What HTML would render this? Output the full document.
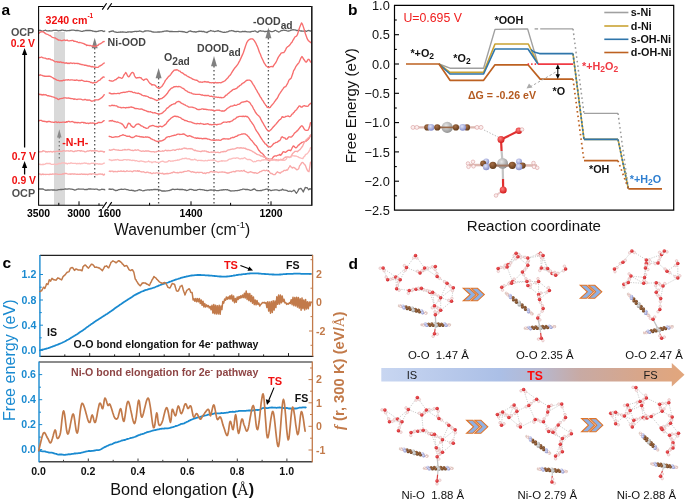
<!DOCTYPE html><html><head><meta charset="utf-8"><style>html,body{margin:0;padding:0;background:#fff;overflow:hidden}svg{will-change:transform}svg{display:block}text{font-family:"Liberation Sans",sans-serif}</style></head><body>
<svg width="685" height="500" viewBox="0 0 685 500">
<defs><linearGradient id="bar" x1="0" x2="1" y1="0" y2="0"><stop offset="0" stop-color="#c8d6f1"/><stop offset="0.39" stop-color="#abbfe6"/><stop offset="0.52" stop-color="#b6b8d0"/><stop offset="0.655" stop-color="#c8aaa4"/><stop offset="0.85" stop-color="#d8a68a"/><stop offset="1" stop-color="#e2a67c"/></linearGradient><radialGradient id="gNi" cx="0.4" cy="0.35" r="0.7"><stop offset="0" stop-color="#e8e8e8"/><stop offset="1" stop-color="#8c8c8c"/></radialGradient><radialGradient id="gC" cx="0.4" cy="0.35" r="0.7"><stop offset="0" stop-color="#a87048"/><stop offset="1" stop-color="#5e3818"/></radialGradient><radialGradient id="gN" cx="0.4" cy="0.35" r="0.7"><stop offset="0" stop-color="#e0e4f8"/><stop offset="1" stop-color="#8088c8"/></radialGradient><radialGradient id="gO" cx="0.4" cy="0.35" r="0.7"><stop offset="0" stop-color="#ff8080"/><stop offset="1" stop-color="#d01010"/></radialGradient><radialGradient id="gH" cx="0.4" cy="0.35" r="0.7"><stop offset="0" stop-color="#ffffff"/><stop offset="1" stop-color="#e0b0b0"/></radialGradient><radialGradient id="gO2" cx="0.4" cy="0.35" r="0.7"><stop offset="0" stop-color="#f26060"/><stop offset="1" stop-color="#c81820"/></radialGradient></defs>
<rect x="54" y="32" width="11" height="173" fill="#d9d9d9"/>
<line x1="94.7" y1="48.0" x2="94.7" y2="178.0" stroke="#555" stroke-width="1.3" stroke-dasharray="1.4,2.6"/>
<line x1="158.6" y1="78.0" x2="158.6" y2="205.0" stroke="#555" stroke-width="1.3" stroke-dasharray="1.4,2.6"/>
<line x1="214.0" y1="66.0" x2="214.0" y2="205.0" stroke="#555" stroke-width="1.3" stroke-dasharray="1.4,2.6"/>
<line x1="268.4" y1="38.0" x2="268.4" y2="205.0" stroke="#555" stroke-width="1.3" stroke-dasharray="1.4,2.6"/>
<line x1="59.3" y1="137.0" x2="59.3" y2="160.0" stroke="#777" stroke-width="1.3" stroke-dasharray="1.4,2.6"/>
<path d="M59.3,129.3 L61.5,137.5 L57.0,137.5 Z" fill="#8a8a8a"/>
<path d="M94.7,37.8 L97.7,48.2 L91.7,48.2 Z" fill="#808080"/>
<path d="M158.6,68.0 L161.6,78.3 L155.6,78.3 Z" fill="#808080"/>
<path d="M214.0,56.0 L217.0,66.3 L211.0,66.3 Z" fill="#808080"/>
<path d="M268.4,27.4 L271.4,38.2 L265.4,38.2 Z" fill="#808080"/>
<path d="M38.6,30.7 L39.0,30.4 L39.5,30.5 L39.9,30.2 L40.4,30.4 L41.0,30.6 L41.5,30.8 L42.1,31.1 L42.7,31.1 L43.3,31.0 L44.0,30.7 L44.7,30.5 L45.4,30.2 L46.1,30.5 L46.8,30.8 L47.6,30.8 L48.3,31.0 L49.1,30.7 L50.0,30.9 L50.8,30.8 L51.6,30.9 L52.5,30.7 L53.3,30.4 L54.2,30.3 L55.1,30.3 L56.0,30.2 L57.0,30.5 L57.9,30.6 L58.8,30.8 L59.8,30.5 L60.8,30.6 L61.7,30.2 L62.7,30.1 L63.7,30.3 L64.7,30.6 L65.7,30.5 L66.7,30.8 L67.7,30.7 L68.7,30.7 L69.7,30.5 L70.7,30.4 L71.7,30.1 L72.7,30.2 L73.7,30.2 L74.7,30.4 L75.7,30.6 L76.7,30.4 L77.7,30.5 L78.7,30.7 L79.7,30.8 L80.7,31.1 L81.7,31.3 L82.6,31.3 L83.6,30.9 L84.6,30.8 L85.5,30.5 L86.4,30.3 L87.4,30.5 L88.3,30.5 L89.2,30.4 L90.1,30.5 L90.9,30.7 L91.8,30.6 L92.6,31.1 L93.4,31.2 L94.3,31.4 L95.1,31.5 L95.8,31.4 L96.6,31.6 L97.3,31.3 L98.0,31.4 L98.7,31.0 L99.4,30.9 L100.1,30.8 L100.7,30.7 L101.3,30.7 L101.9,30.6 L102.4,30.8 L103.0,31.1 L103.5,31.3 L103.9,31.6 L104.4,31.1 L104.8,31.1" fill="none" stroke="#6b6b6b" stroke-width="1.30" stroke-linejoin="round" stroke-linecap="round" />
<path d="M38.6,33.5 L39.2,33.1 L40.1,32.2 L41.1,31.8 L42.3,31.7 L43.0,31.9 L43.8,32.2 L44.7,32.9 L45.6,33.6 L46.6,34.1 L47.6,34.3 L48.6,35.0 L49.4,35.5 L50.1,35.4 L51.0,36.3 L51.8,37.0 L52.7,37.4 L53.5,37.7 L54.4,37.9 L55.3,38.0 L56.2,38.8 L57.0,38.9 L57.8,39.7 L58.7,40.2 L59.5,40.1 L60.4,40.2 L61.2,40.7 L62.0,40.6 L62.9,40.3 L63.7,40.1 L64.6,40.0 L65.4,40.5 L66.2,40.4 L67.1,40.0 L67.9,40.6 L68.8,40.9 L69.6,40.8 L70.4,40.6 L71.3,40.7 L72.1,40.4 L73.0,40.4 L73.8,41.2 L74.6,41.2 L75.5,41.3 L76.3,41.8 L77.2,41.7 L78.0,42.3 L78.8,42.6 L79.7,42.4 L80.5,42.7 L81.4,42.9 L82.2,43.1 L83.1,43.5 L83.9,43.7 L84.9,44.3 L85.8,44.5 L86.7,45.5 L87.5,45.2 L88.4,45.3 L89.2,45.5 L89.9,45.7 L90.6,45.5 L91.7,46.1 L92.6,46.0 L93.3,46.1 L94.0,46.4 L94.8,46.2 L95.6,46.5 L96.4,46.2 L97.2,45.4 L98.1,45.3 L99.0,44.2 L99.9,43.9 L100.9,43.5 L101.9,42.8 L102.8,42.0 L103.6,41.7 L104.2,41.5" fill="none" stroke="#f76e6e" stroke-width="1.35" stroke-linejoin="round" stroke-linecap="round" />
<path d="M38.6,58.0 L39.1,57.4 L39.8,57.6 L40.6,57.4 L41.4,57.0 L42.4,57.5 L43.4,57.9 L44.4,58.1 L45.5,58.2 L46.5,58.9 L47.2,58.9 L48.0,59.1 L48.7,58.6 L49.5,59.0 L50.3,59.1 L51.2,59.9 L52.0,59.9 L52.8,60.2 L53.7,60.8 L54.5,61.5 L55.4,61.9 L56.2,61.6 L57.0,61.6 L57.8,62.2 L58.6,62.0 L59.4,62.3 L60.2,61.9 L61.0,62.0 L61.8,62.6 L62.7,62.5 L63.5,62.4 L64.3,63.1 L65.1,63.0 L65.9,63.2 L66.7,62.8 L67.5,63.5 L68.3,63.1 L69.1,63.6 L69.9,63.2 L70.7,63.0 L71.5,63.1 L72.3,63.5 L73.2,63.1 L74.0,63.2 L74.8,63.6 L75.6,63.4 L76.4,63.4 L77.2,63.5 L78.0,63.5 L78.8,63.7 L79.6,64.0 L80.5,64.1 L81.3,64.6 L82.2,64.5 L83.0,64.9 L83.9,64.9 L84.7,65.3 L85.5,65.2 L86.3,65.5 L87.1,65.4 L87.8,66.0 L88.5,66.0 L89.5,66.0 L90.4,66.3 L91.3,66.9 L92.1,66.4 L92.9,67.0 L93.7,66.8 L94.4,66.9 L95.1,67.4 L95.8,67.2 L96.8,67.3 L97.7,67.3 L98.5,67.1 L99.2,66.2 L100.0,66.0 L100.9,65.4 L101.9,64.8 L102.8,64.0 L103.6,63.5 L104.2,62.9" fill="none" stroke="#f76e6e" stroke-width="1.35" stroke-linejoin="round" stroke-linecap="round" />
<path d="M38.6,75.0 L39.1,75.1 L39.7,75.2 L40.4,74.8 L41.3,75.1 L42.1,75.3 L43.1,75.8 L44.0,76.0 L45.0,76.4 L46.0,76.1 L46.9,76.3 L47.8,76.2 L48.6,76.2 L49.5,76.2 L50.3,76.3 L51.2,76.8 L52.0,77.3 L52.8,77.6 L53.6,78.5 L54.4,78.7 L55.2,79.1 L56.1,79.6 L57.0,80.1 L57.7,80.3 L58.5,80.3 L59.3,80.9 L60.1,80.8 L60.9,80.7 L61.7,80.7 L62.5,80.7 L63.4,80.1 L64.2,80.5 L65.0,80.1 L65.9,79.8 L66.7,79.8 L67.5,80.0 L68.3,79.6 L69.1,79.9 L69.9,80.1 L70.7,79.8 L71.5,79.8 L72.3,79.9 L73.2,80.1 L74.0,80.2 L74.8,80.2 L75.6,80.3 L76.4,80.0 L77.2,80.2 L78.0,80.4 L78.8,80.7 L79.7,80.4 L80.5,80.6 L81.4,80.2 L82.2,80.4 L83.1,80.7 L83.9,81.2 L84.8,81.4 L85.6,81.4 L86.4,81.2 L87.1,81.3 L87.8,81.3 L88.5,81.6 L89.6,81.7 L90.7,82.5 L91.6,82.4 L92.5,83.0 L93.3,83.0 L94.0,82.4 L94.8,82.6 L95.8,82.6 L96.6,82.4 L97.3,81.6 L98.1,81.0 L99.0,80.4 L99.9,80.2 L100.9,78.8 L101.9,78.2 L102.8,77.2 L103.6,77.0 L104.2,77.1" fill="none" stroke="#f76e6e" stroke-width="1.35" stroke-linejoin="round" stroke-linecap="round" />
<path d="M38.6,93.8 L39.1,94.3 L39.7,94.5 L40.4,94.5 L41.3,94.5 L42.1,95.1 L43.1,94.5 L44.0,94.8 L45.0,94.7 L46.0,94.9 L46.9,95.4 L47.8,95.8 L48.6,95.6 L49.5,96.1 L50.3,96.1 L51.2,96.5 L52.0,96.7 L52.8,96.8 L53.6,97.1 L54.4,97.3 L55.2,98.0 L56.1,98.2 L57.0,98.4 L57.7,99.2 L58.5,99.5 L59.3,99.0 L60.1,98.7 L60.9,98.6 L61.7,98.4 L62.5,98.4 L63.4,98.0 L64.2,97.9 L65.0,97.8 L65.9,97.9 L66.7,98.2 L67.5,98.1 L68.3,97.9 L69.1,98.1 L69.9,98.4 L70.7,98.5 L71.5,98.7 L72.3,98.6 L73.2,98.8 L74.0,99.4 L74.8,98.9 L75.6,99.2 L76.4,99.3 L77.2,99.5 L78.0,99.1 L78.8,99.1 L79.7,99.1 L80.5,99.2 L81.4,99.3 L82.2,99.8 L83.1,99.8 L83.9,99.9 L84.8,99.4 L85.6,99.5 L86.4,100.0 L87.1,100.2 L87.8,99.9 L88.5,100.2 L89.6,100.0 L90.7,100.6 L91.6,101.2 L92.5,101.0 L93.3,100.8 L94.0,100.6 L94.8,99.8 L95.8,99.8 L96.6,99.8 L97.3,99.9 L98.1,99.8 L99.0,99.5 L99.9,98.9 L100.9,98.2 L101.9,97.6 L102.8,96.5 L103.6,95.7 L104.2,94.7" fill="none" stroke="#f76e6e" stroke-width="1.35" stroke-linejoin="round" stroke-linecap="round" />
<path d="M38.6,121.2 L39.1,120.7 L39.7,120.4 L40.4,120.4 L41.3,120.4 L42.1,120.9 L43.1,121.4 L44.0,121.1 L45.0,121.6 L46.0,121.5 L46.9,122.1 L47.8,121.5 L48.6,121.5 L49.5,121.5 L50.3,121.7 L51.2,122.1 L52.0,122.1 L52.8,122.1 L53.6,122.3 L54.4,122.3 L55.2,121.9 L56.1,121.9 L57.0,122.5 L57.7,122.4 L58.5,122.0 L59.3,122.5 L60.1,122.3 L60.9,122.4 L61.7,122.4 L62.5,122.2 L63.4,122.1 L64.2,122.2 L65.0,122.2 L65.9,122.4 L66.7,121.6 L67.5,122.0 L68.3,121.3 L69.1,121.4 L69.9,121.8 L70.7,121.8 L71.5,121.6 L72.3,121.5 L73.2,122.0 L74.0,122.1 L74.8,122.7 L75.6,122.3 L76.4,122.5 L77.2,122.9 L78.0,122.4 L78.8,122.6 L79.7,122.9 L80.5,122.9 L81.4,122.4 L82.2,122.4 L83.1,122.4 L83.9,123.0 L84.8,122.5 L85.6,123.1 L86.4,123.3 L87.1,123.1 L87.8,123.2 L88.5,123.6 L89.6,123.2 L90.7,122.9 L91.6,123.1 L92.5,123.0 L93.3,123.1 L94.0,123.1 L94.8,123.6 L95.8,123.7 L96.6,123.4 L97.3,123.4 L98.1,122.5 L99.0,122.5 L99.9,122.5 L100.9,122.6 L101.9,122.3 L102.8,121.5 L103.6,120.9 L104.2,120.7" fill="none" stroke="#f76e6e" stroke-width="1.35" stroke-linejoin="round" stroke-linecap="round" />
<path d="M38.6,151.6 L39.0,151.6 L39.5,152.0 L40.0,151.5 L40.5,151.9 L41.1,151.9 L41.7,151.7 L42.3,151.5 L43.0,150.7 L43.6,151.0 L44.3,151.1 L45.1,151.3 L45.8,152.0 L46.6,151.7 L47.4,152.0 L48.2,151.5 L49.1,151.9 L49.9,151.6 L50.8,151.5 L51.7,151.8 L52.6,152.0 L53.5,151.4 L54.4,151.7 L55.3,151.7 L56.3,151.4 L57.2,151.4 L58.1,151.2 L59.1,151.2 L60.0,151.2 L61.0,151.3 L61.9,151.3 L62.8,150.9 L63.8,150.7 L64.7,150.9 L65.6,151.1 L66.5,150.8 L67.4,150.9 L68.3,150.8 L69.1,151.2 L70.0,151.1 L70.8,150.7 L71.6,150.9 L72.4,151.2 L73.2,151.5 L74.1,151.6 L74.9,151.1 L75.8,150.9 L76.7,151.1 L77.6,150.7 L78.5,150.6 L79.4,150.7 L80.4,151.2 L81.3,150.7 L82.2,151.1 L83.2,151.1 L84.1,151.3 L85.0,151.8 L86.0,151.8 L86.9,151.2 L87.8,150.9 L88.8,151.1 L89.7,150.7 L90.6,150.5 L91.5,151.1 L92.3,150.7 L93.2,151.0 L94.1,150.7 L94.9,151.0 L95.7,150.7 L96.5,150.7 L97.3,150.8 L98.0,151.3 L98.8,151.5 L99.5,151.6 L100.2,151.0 L100.8,151.3 L101.4,151.1 L102.0,151.4 L102.6,151.3 L103.1,151.6 L103.6,152.0 L104.1,152.2 L104.5,151.6" fill="none" stroke="#f9a8a8" stroke-width="1.35" stroke-linejoin="round" stroke-linecap="round" />
<path d="M38.6,164.3 L39.0,164.1 L39.5,164.2 L40.0,164.5 L40.5,164.3 L41.1,164.6 L41.7,164.6 L42.3,164.3 L43.0,164.8 L43.6,164.1 L44.3,164.3 L45.1,164.1 L45.8,163.6 L46.6,163.3 L47.4,163.5 L48.2,163.4 L49.1,163.7 L49.9,163.3 L50.8,164.1 L51.7,164.4 L52.6,164.4 L53.5,164.4 L54.4,164.0 L55.3,164.5 L56.3,164.1 L57.2,164.3 L58.1,164.0 L59.1,163.3 L60.0,163.6 L61.0,163.5 L61.9,162.8 L62.8,162.8 L63.8,163.0 L64.7,162.8 L65.6,163.5 L66.5,163.3 L67.4,164.0 L68.3,163.3 L69.1,163.4 L70.0,163.5 L70.8,162.9 L71.6,163.0 L72.4,163.4 L73.2,163.4 L74.1,163.4 L74.9,163.4 L75.8,163.3 L76.7,163.8 L77.6,163.5 L78.5,163.7 L79.4,163.3 L80.4,163.8 L81.3,163.4 L82.2,163.5 L83.2,163.4 L84.1,163.0 L85.0,163.2 L86.0,163.2 L86.9,163.4 L87.8,163.8 L88.8,163.5 L89.7,164.0 L90.6,163.6 L91.5,163.2 L92.3,163.4 L93.2,163.1 L94.1,163.7 L94.9,163.5 L95.7,163.4 L96.5,163.8 L97.3,163.7 L98.0,163.7 L98.8,164.3 L99.5,163.8 L100.2,164.3 L100.8,163.9 L101.4,164.2 L102.0,164.3 L102.6,163.8 L103.1,163.7 L103.6,163.3 L104.1,163.1 L104.5,163.1" fill="none" stroke="#fcbcbc" stroke-width="1.35" stroke-linejoin="round" stroke-linecap="round" />
<path d="M38.6,174.1 L39.0,173.8 L39.5,174.0 L40.0,174.2 L40.5,174.1 L41.1,174.7 L41.7,174.5 L42.3,174.4 L43.0,173.9 L43.6,174.5 L44.3,174.4 L45.1,174.3 L45.8,174.5 L46.6,174.4 L47.4,174.4 L48.2,174.4 L49.1,174.6 L49.9,174.2 L50.8,174.2 L51.7,174.3 L52.6,174.0 L53.5,174.1 L54.4,174.1 L55.3,173.8 L56.3,174.0 L57.2,174.1 L58.1,174.4 L59.1,174.4 L60.0,174.3 L61.0,174.4 L61.9,174.4 L62.8,173.7 L63.8,174.0 L64.7,173.4 L65.6,173.5 L66.5,173.5 L67.4,173.9 L68.3,174.1 L69.1,174.1 L70.0,173.9 L70.8,174.4 L71.6,173.9 L72.4,173.8 L73.2,174.2 L74.1,173.9 L74.9,174.0 L75.8,174.1 L76.7,174.4 L77.6,174.1 L78.5,174.3 L79.4,174.2 L80.4,174.3 L81.3,173.9 L82.2,174.2 L83.2,174.2 L84.1,174.2 L85.0,174.2 L86.0,174.5 L86.9,174.1 L87.8,174.7 L88.8,174.2 L89.7,174.0 L90.6,173.9 L91.5,174.4 L92.3,173.8 L93.2,173.8 L94.1,173.9 L94.9,174.0 L95.7,174.6 L96.5,174.5 L97.3,174.5 L98.0,174.5 L98.8,174.0 L99.5,174.2 L100.2,174.0 L100.8,174.2 L101.4,174.1 L102.0,174.4 L102.6,174.0 L103.1,174.8 L103.6,175.1 L104.1,174.9 L104.5,174.1" fill="none" stroke="#f9a8a8" stroke-width="1.35" stroke-linejoin="round" stroke-linecap="round" />
<path d="M38.6,189.2 L39.0,189.1 L39.5,188.9 L39.9,189.1 L40.4,188.8 L41.0,189.1 L41.5,189.0 L42.1,189.0 L42.7,188.9 L43.3,189.1 L44.0,189.5 L44.7,189.8 L45.4,190.3 L46.1,190.0 L46.8,190.3 L47.6,189.9 L48.3,190.0 L49.1,189.9 L50.0,190.1 L50.8,189.9 L51.6,189.8 L52.5,190.0 L53.3,189.9 L54.2,190.0 L55.1,190.1 L56.0,190.1 L57.0,190.1 L57.9,189.9 L58.8,189.7 L59.8,189.6 L60.8,189.4 L61.7,189.5 L62.7,189.3 L63.7,189.3 L64.7,189.0 L65.7,189.0 L66.7,189.1 L67.7,189.0 L68.7,188.8 L69.7,188.9 L70.7,189.1 L71.7,189.1 L72.7,189.4 L73.7,189.7 L74.7,190.1 L75.7,189.9 L76.7,189.4 L77.7,189.2 L78.7,189.0 L79.7,189.1 L80.7,189.2 L81.7,189.1 L82.6,189.2 L83.6,189.2 L84.6,189.6 L85.5,189.5 L86.4,189.3 L87.4,189.5 L88.3,189.0 L89.2,188.9 L90.1,189.0 L90.9,189.0 L91.8,189.1 L92.6,189.1 L93.4,189.1 L94.3,189.3 L95.1,189.1 L95.8,189.1 L96.6,189.2 L97.3,189.2 L98.0,189.6 L98.7,189.9 L99.4,190.0 L100.1,189.8 L100.7,189.7 L101.3,189.5 L101.9,189.2 L102.4,189.4 L103.0,189.3 L103.5,189.4 L103.9,189.5 L104.4,189.5 L104.8,189.9" fill="none" stroke="#6b6b6b" stroke-width="1.30" stroke-linejoin="round" stroke-linecap="round" />
<path d="M109.0,31.8 L109.4,32.0 L109.8,31.7 L110.3,31.5 L110.7,31.4 L111.2,31.4 L111.7,31.1 L112.2,31.0 L112.7,31.1 L113.3,31.0 L113.8,31.5 L114.4,31.8 L115.0,31.8 L115.6,32.1 L116.2,32.2 L116.8,32.4 L117.4,32.3 L118.0,32.5 L118.7,32.2 L119.4,32.2 L120.1,32.3 L120.7,31.9 L121.4,32.1 L122.2,32.0 L122.9,31.9 L123.6,32.2 L124.4,32.1 L125.1,32.2 L125.9,32.3 L126.7,32.3 L127.4,32.0 L128.2,32.0 L129.0,31.9 L129.9,31.9 L130.7,32.0 L131.5,31.8 L132.3,32.0 L133.2,31.7 L134.0,31.6 L134.9,31.4 L135.7,31.4 L136.6,31.5 L137.5,31.3 L138.4,31.3 L139.3,31.0 L140.2,31.2 L141.1,31.4 L142.0,31.7 L142.9,31.9 L143.8,31.6 L144.7,31.0 L145.6,31.0 L146.5,30.8 L147.5,30.8 L148.4,30.8 L149.3,31.1 L150.3,31.1 L151.2,31.4 L152.2,31.9 L153.1,32.0 L154.1,32.2 L155.0,32.2 L155.9,32.2 L156.9,32.1 L157.9,32.0 L158.8,32.0 L159.8,32.0 L160.7,31.9 L161.7,31.9 L162.6,31.5 L163.6,31.5 L164.5,31.2 L165.4,31.1 L166.4,30.9 L167.3,31.0 L168.3,31.1 L169.2,31.5 L170.2,31.5 L171.1,31.5 L172.0,31.4 L172.9,31.6 L173.9,31.6 L174.8,31.6 L175.7,31.6 L176.6,31.7 L177.5,31.6 L178.4,31.5 L179.3,31.4 L180.2,31.4 L181.1,31.6 L182.0,31.4 L182.9,31.8 L183.7,31.7 L184.6,31.9 L185.4,32.3 L186.3,32.4 L187.1,32.6 L187.9,32.0 L188.8,31.4 L189.6,31.2 L190.4,30.9 L191.2,31.3 L192.0,31.5 L192.8,31.6 L193.5,31.8 L194.3,31.7 L195.0,32.0 L195.8,31.9 L196.5,32.0 L197.2,31.7 L197.9,31.5 L198.6,31.5 L199.3,31.1 L200.0,31.5 L201.0,31.2 L202.0,31.6 L203.0,31.3 L204.0,31.5 L205.0,32.1 L205.9,32.2 L206.9,32.6 L207.9,31.9 L208.8,31.3 L209.8,31.1 L210.7,30.5 L211.7,30.9 L212.6,31.1 L213.5,31.1 L214.5,31.6 L215.4,31.4 L216.3,31.1 L217.2,31.1 L218.1,30.6 L219.0,31.2 L219.9,31.5 L220.8,31.5 L221.7,31.8 L222.5,32.2 L223.4,32.3 L224.3,32.1 L225.1,32.3 L226.0,32.2 L226.8,31.8 L227.7,31.8 L228.5,31.4 L229.3,31.0 L230.2,30.9 L231.0,30.8 L231.8,30.5 L232.6,30.8 L233.4,30.9 L234.2,31.4 L235.0,31.5 L235.8,31.6 L236.6,31.5 L237.4,31.4 L238.1,31.4 L238.9,31.6 L239.6,31.8 L240.4,31.8 L241.2,31.8 L241.9,31.6 L242.6,31.4 L243.4,31.6 L244.1,31.4 L244.8,31.5 L245.5,31.4 L246.3,31.6 L247.0,31.8 L247.7,31.8 L248.4,31.8 L249.0,31.8 L249.7,32.0 L250.4,32.0 L251.1,31.6 L251.8,31.5 L252.4,31.3 L253.1,31.4 L253.7,31.3 L254.4,31.0 L255.0,30.8 L255.7,31.2 L256.3,31.6 L256.9,31.9 L257.6,32.3 L258.2,32.0 L258.8,31.2 L259.4,31.1 L260.0,30.7 L261.2,31.0 L262.4,31.1 L263.5,31.2 L264.6,31.7 L265.6,31.5 L266.7,31.3 L267.7,31.2 L268.6,30.8 L269.6,30.9 L270.5,31.3 L271.4,31.6 L272.3,31.6 L273.1,31.4 L273.9,31.1 L274.8,30.5 L275.5,30.3 L276.3,30.8 L277.1,31.2 L277.8,31.5 L278.5,32.0 L279.2,31.9 L279.9,31.5 L280.6,31.0 L281.3,30.5 L282.0,30.7 L282.7,30.5 L283.3,30.1 L284.0,30.1 L284.7,30.3 L285.3,30.5 L286.0,30.3 L286.6,30.6 L287.3,30.9 L288.0,31.1 L288.6,31.0 L289.3,30.9 L290.0,30.7 L291.0,30.2 L292.0,30.0 L293.0,29.6 L293.9,29.8 L294.9,29.9 L295.9,30.1 L296.9,30.7 L297.8,30.4 L298.8,30.3 L299.7,30.7 L300.6,31.0 L301.5,31.0 L302.4,31.2 L303.2,31.1 L304.1,31.1 L304.9,30.9 L305.6,31.0 L306.4,31.4 L307.1,31.0 L307.8,30.7 L308.4,30.5 L309.0,30.5 L309.6,30.9 L310.1,30.9 L310.6,31.1 L311.0,31.0" fill="none" stroke="#6b6b6b" stroke-width="1.30" stroke-linejoin="round" stroke-linecap="round" />
<path d="M109.2,80.5 L109.7,80.5 L110.5,80.9 L111.4,81.0 L112.4,81.2 L113.3,80.8 L114.2,80.3 L115.0,79.8 L116.1,79.5 L116.9,78.6 L117.8,78.1 L118.6,77.1 L119.5,77.6 L120.4,77.7 L121.3,78.3 L122.2,78.2 L123.1,76.8 L124.1,74.7 L125.0,73.6 L125.8,72.5 L126.7,73.9 L127.5,75.7 L128.5,76.8 L129.2,76.7 L130.1,75.2 L131.0,73.7 L131.8,72.7 L132.6,72.4 L133.7,73.2 L134.6,76.0 L135.7,77.7 L136.5,78.0 L137.4,77.7 L138.4,77.7 L139.3,77.5 L140.2,77.6 L141.2,78.0 L142.1,79.2 L143.0,79.8 L143.8,80.4 L144.7,79.4 L145.6,79.1 L146.5,79.0 L147.3,79.6 L148.2,81.0 L149.1,82.4 L150.1,83.5 L151.0,83.8 L151.9,85.0 L152.8,84.7 L153.7,84.9 L154.6,85.0 L155.6,85.6 L156.5,87.0 L157.3,87.4 L158.2,88.0 L159.1,88.6 L159.9,87.9 L160.8,87.2 L161.8,86.5 L162.6,85.4 L163.5,83.9 L164.4,82.5 L165.4,80.4 L166.3,79.4 L167.2,78.3 L168.2,76.9 L169.1,76.1 L169.9,75.5 L170.8,74.3 L171.7,73.0 L172.6,71.8 L173.5,70.9 L174.3,70.1 L175.2,70.0 L176.2,70.0 L177.1,69.7 L178.0,70.3 L178.9,70.9 L179.8,71.1 L180.7,72.0 L181.6,72.7 L182.6,73.0 L183.5,73.6 L184.3,74.5 L185.2,74.8 L186.1,75.2 L187.0,76.0 L187.9,76.5 L188.7,76.8 L189.6,77.3 L190.6,77.8 L191.5,78.2 L192.4,79.0 L193.4,79.3 L194.3,79.7 L195.2,80.0 L196.0,80.2 L197.0,80.2 L197.8,80.9 L198.6,81.6 L199.6,82.1 L200.4,81.9 L201.3,82.1 L202.2,82.3 L203.1,81.9 L204.1,81.8 L205.0,81.5 L205.9,81.9 L206.8,82.0 L207.7,81.8 L208.6,82.0 L209.5,82.6 L210.4,82.6 L211.3,82.8 L212.1,82.6 L212.9,82.7 L213.7,82.8 L214.5,82.9 L215.4,82.4 L216.3,82.8 L217.2,82.6 L218.1,82.9 L219.0,82.6 L219.9,82.6 L220.8,82.8 L221.7,82.4 L222.6,81.9 L223.5,81.7 L224.4,81.0 L225.3,80.6 L226.2,79.4 L227.1,78.6 L228.0,77.7 L228.9,76.3 L229.8,75.5 L230.7,74.5 L231.6,72.8 L232.5,71.3 L233.4,70.0 L234.3,68.7 L235.2,67.5 L236.1,66.5 L237.0,65.3 L237.9,64.1 L238.8,62.4 L239.8,60.6 L240.7,58.6 L241.6,56.6 L242.4,54.9 L243.4,52.5 L244.4,49.5 L245.3,46.7 L246.1,44.4 L246.9,42.3 L247.9,40.8 L248.7,40.0 L249.6,39.4 L250.4,39.0 L251.3,38.8 L252.3,38.8 L253.2,39.4 L254.1,40.4 L254.9,41.7 L255.8,43.1 L256.8,45.4 L257.6,47.0 L258.5,49.5 L259.4,52.3 L260.4,54.3 L261.3,56.8 L262.2,58.7 L263.2,60.7 L264.1,62.9 L265.0,64.1 L265.9,65.7 L266.7,66.3 L267.7,67.0 L268.6,67.6 L269.4,67.2 L270.3,66.6 L271.2,66.6 L272.0,66.4 L272.9,66.9 L273.9,65.2 L274.8,63.9 L275.7,62.8 L276.6,61.0 L277.5,58.9 L278.4,57.1 L279.4,55.7 L280.3,54.5 L281.1,53.2 L282.0,52.9 L282.9,52.7 L283.8,52.6 L284.7,51.4 L285.6,49.8 L286.5,47.9 L287.4,46.9 L288.4,46.2 L289.2,45.6 L290.2,44.5 L291.1,43.1 L292.0,42.2 L292.9,40.3 L293.8,39.0 L294.7,37.2 L295.6,36.5 L296.5,36.1 L297.4,34.7 L298.3,31.8 L299.2,28.8 L300.0,26.4 L301.5,22.9 L302.5,24.4 L303.7,27.9 L304.5,30.5 L305.4,33.8 L306.4,36.5 L307.3,38.9 L308.5,40.8 L309.7,41.5 L310.5,42.6" fill="none" stroke="#f76e6e" stroke-width="1.35" stroke-linejoin="round" stroke-linecap="round" />
<path d="M109.2,93.0 L109.7,93.2 L110.4,93.2 L111.2,93.9 L112.1,93.6 L113.0,93.8 L114.0,93.5 L115.0,93.7 L115.9,93.6 L116.8,93.6 L117.6,93.4 L118.4,93.3 L119.2,93.7 L120.0,93.2 L120.8,92.9 L121.6,92.6 L122.4,92.5 L123.2,92.3 L124.0,92.1 L124.9,92.5 L125.8,92.1 L126.7,91.8 L127.6,91.9 L128.5,91.3 L129.4,91.3 L130.3,91.7 L131.2,91.5 L132.0,91.9 L132.8,92.4 L133.6,92.6 L134.4,92.4 L135.2,92.7 L136.0,93.2 L136.8,93.1 L137.6,93.5 L138.4,93.1 L139.3,93.7 L140.2,94.0 L141.1,94.4 L142.0,95.1 L142.9,95.5 L143.8,95.9 L144.7,95.7 L145.6,96.2 L146.4,96.1 L147.2,96.4 L148.1,96.7 L148.9,97.4 L149.7,97.6 L150.5,98.2 L151.3,98.0 L152.1,98.5 L152.8,98.7 L153.8,98.9 L154.7,99.7 L155.6,99.9 L156.5,100.5 L157.3,100.4 L158.2,100.0 L159.1,99.6 L160.0,98.9 L160.9,98.6 L161.8,98.6 L162.7,97.7 L163.6,97.3 L164.5,96.2 L165.4,95.6 L166.3,94.5 L167.2,93.6 L168.1,92.1 L169.0,90.7 L169.9,89.7 L170.9,88.6 L171.8,88.0 L172.7,87.8 L173.6,87.0 L174.4,86.7 L175.4,86.7 L176.2,86.5 L177.0,86.6 L178.0,86.8 L178.8,86.4 L179.6,86.7 L180.5,86.8 L181.4,87.5 L182.4,88.1 L183.4,88.5 L184.2,89.1 L185.0,90.0 L185.9,90.6 L186.8,90.9 L187.7,91.8 L188.6,92.1 L189.6,92.7 L190.6,92.8 L191.4,93.0 L192.2,93.6 L193.0,93.9 L193.8,94.2 L194.7,94.1 L195.5,94.4 L196.4,94.4 L197.2,94.4 L198.0,94.4 L198.8,94.4 L199.6,94.3 L200.5,94.6 L201.3,95.0 L202.2,94.8 L203.0,95.3 L203.8,95.3 L204.5,95.5 L205.3,95.4 L206.1,95.5 L206.8,95.7 L207.7,95.5 L208.5,95.4 L209.3,96.1 L210.2,96.3 L211.0,96.2 L211.9,96.2 L213.0,96.9 L213.8,96.9 L214.6,96.8 L215.4,97.1 L216.3,97.0 L217.3,97.5 L218.2,97.1 L219.1,97.5 L220.0,97.6 L220.9,97.3 L221.8,97.8 L222.6,97.7 L223.5,97.5 L224.4,97.0 L225.2,96.0 L226.1,95.1 L226.9,95.0 L227.6,93.9 L228.4,93.5 L229.2,92.7 L230.0,92.0 L230.9,91.4 L231.8,90.6 L232.7,89.9 L233.6,89.3 L234.5,89.4 L235.3,88.8 L236.2,88.5 L237.0,88.2 L237.9,87.0 L238.8,86.7 L239.7,85.5 L240.6,85.1 L241.4,84.5 L242.2,83.5 L243.0,83.1 L243.9,82.7 L244.7,81.9 L245.5,81.2 L246.3,80.6 L247.1,80.2 L247.8,80.2 L248.7,80.1 L249.6,80.1 L250.4,80.5 L251.4,81.4 L252.2,82.9 L253.1,84.3 L254.0,85.6 L254.9,87.3 L255.9,89.1 L256.8,90.5 L257.7,92.4 L258.6,93.6 L259.4,95.1 L260.3,96.9 L261.2,98.0 L262.2,99.8 L263.0,100.8 L263.8,102.4 L264.6,103.5 L265.5,104.9 L266.3,105.7 L267.1,107.1 L267.9,107.5 L268.6,107.6 L269.6,107.7 L270.4,107.1 L271.2,105.9 L272.0,105.0 L273.0,103.9 L273.8,102.8 L274.6,101.6 L275.5,100.5 L276.4,99.2 L277.3,98.2 L278.2,96.4 L279.0,94.7 L279.9,93.4 L280.8,92.0 L281.6,90.9 L282.4,89.7 L283.2,88.6 L284.0,87.4 L284.9,86.9 L285.7,86.7 L286.4,85.5 L287.2,84.2 L288.0,82.4 L288.8,80.4 L289.6,79.4 L290.4,78.9 L291.2,78.1 L292.0,75.8 L292.8,73.6 L293.6,70.6 L294.5,69.5 L295.3,67.7 L296.0,66.3 L297.1,64.8 L298.0,63.7 L299.0,62.6 L299.9,60.4 L300.9,58.1 L301.9,56.5 L302.8,57.7 L303.7,59.3 L304.7,60.5 L305.5,61.9 L306.4,62.0 L307.2,61.0 L308.0,59.5 L308.9,59.3 L309.9,60.7 L310.5,62.1" fill="none" stroke="#f76e6e" stroke-width="1.35" stroke-linejoin="round" stroke-linecap="round" />
<path d="M109.2,105.7 L109.7,105.8 L110.4,105.9 L111.2,105.6 L112.1,105.2 L113.0,105.6 L114.0,105.3 L115.0,105.7 L115.9,105.9 L116.8,105.8 L117.6,106.8 L118.4,107.0 L119.2,107.2 L120.0,107.3 L120.8,107.5 L121.6,107.8 L122.4,107.7 L123.2,107.5 L124.0,107.6 L124.9,107.7 L125.8,108.0 L126.7,107.5 L127.6,107.6 L128.5,107.3 L129.4,107.5 L130.3,107.1 L131.2,106.9 L132.0,107.4 L132.8,107.3 L133.6,107.7 L134.4,108.1 L135.2,108.6 L136.0,108.5 L136.8,108.7 L137.6,108.6 L138.4,108.8 L139.3,109.1 L140.2,109.2 L141.1,108.9 L142.0,109.2 L142.9,109.7 L143.8,110.0 L144.7,110.3 L145.6,110.7 L146.4,110.9 L147.2,111.5 L148.0,111.4 L148.8,111.8 L149.6,111.9 L150.4,111.7 L151.2,112.1 L152.0,112.3 L152.8,112.9 L153.7,112.9 L154.6,112.7 L155.6,113.0 L156.5,113.4 L157.4,113.7 L158.3,114.0 L159.2,114.0 L160.0,114.0 L161.0,113.5 L161.9,113.3 L162.8,112.6 L163.7,111.7 L164.5,111.0 L165.4,110.5 L166.3,109.0 L167.2,108.1 L168.2,107.6 L169.1,106.6 L170.0,105.9 L170.8,105.4 L171.8,104.6 L172.7,104.3 L173.6,103.9 L174.5,103.8 L175.3,103.5 L176.2,102.3 L177.1,101.9 L178.0,101.5 L178.9,101.5 L179.7,101.8 L180.5,102.4 L181.4,103.2 L182.3,103.7 L183.4,104.1 L184.2,104.6 L185.0,104.9 L185.8,105.5 L186.7,105.9 L187.6,106.2 L188.6,107.0 L189.6,107.1 L190.6,107.1 L191.4,107.2 L192.2,107.1 L193.0,107.5 L193.8,107.7 L194.7,107.8 L195.5,108.3 L196.4,108.7 L197.2,109.4 L198.0,109.5 L198.8,109.7 L199.6,109.5 L200.5,109.3 L201.3,109.2 L202.1,108.8 L202.9,108.8 L203.7,109.4 L204.5,109.2 L205.3,109.2 L206.0,109.5 L206.8,109.5 L207.6,109.6 L208.4,109.8 L209.2,109.9 L210.0,109.9 L210.8,110.1 L211.7,109.9 L212.6,110.4 L213.6,110.2 L214.3,110.8 L215.1,110.8 L215.9,110.3 L216.7,110.1 L217.6,110.2 L218.5,110.2 L219.4,110.1 L220.2,110.7 L221.1,110.8 L221.9,111.3 L222.7,110.8 L223.4,111.0 L224.0,111.1 L225.1,110.4 L225.9,109.9 L226.6,109.1 L227.2,108.5 L227.9,108.0 L228.8,107.6 L229.5,106.9 L230.2,106.6 L231.0,106.1 L231.8,106.1 L232.7,106.0 L233.6,105.6 L234.4,105.0 L235.3,105.3 L236.1,105.3 L236.8,105.0 L237.8,104.4 L238.8,104.3 L239.7,103.9 L240.7,103.0 L241.5,102.4 L242.4,102.1 L243.2,102.0 L244.1,101.9 L245.0,101.5 L245.8,101.6 L246.6,101.0 L247.3,101.1 L248.0,101.5 L249.1,102.1 L250.1,103.0 L251.2,104.8 L251.9,105.7 L252.7,107.0 L253.5,108.8 L254.4,110.1 L255.2,111.9 L256.0,113.0 L256.9,114.2 L257.7,115.0 L258.4,115.5 L259.2,116.4 L260.0,117.2 L260.8,119.2 L261.6,120.6 L262.4,122.3 L263.2,123.2 L264.0,124.9 L264.9,126.3 L265.7,127.8 L266.6,129.2 L267.6,130.4 L268.6,130.9 L269.4,131.1 L270.3,130.1 L271.1,129.7 L272.1,128.4 L273.0,127.3 L274.0,126.2 L275.0,125.1 L275.7,124.4 L276.5,123.5 L277.3,122.4 L278.1,121.6 L278.9,120.4 L279.7,119.7 L280.5,119.3 L281.4,118.1 L282.2,116.7 L283.0,117.0 L283.8,117.3 L284.7,117.2 L285.5,116.5 L286.4,116.3 L287.2,116.2 L288.1,116.0 L288.9,116.3 L289.7,116.8 L290.4,116.3 L291.0,115.7 L292.0,114.1 L292.8,113.9 L293.4,112.7 L294.1,112.3 L295.0,110.9 L295.8,110.2 L296.6,109.7 L297.4,108.2 L298.3,107.2 L299.2,105.9 L300.1,106.1 L301.0,107.0 L301.9,107.1 L302.8,106.4 L303.7,105.8 L304.6,105.6 L305.5,106.2 L306.3,106.1 L307.0,106.4 L308.1,106.1 L309.1,104.7 L309.9,104.1 L310.5,103.3" fill="none" stroke="#f76e6e" stroke-width="1.35" stroke-linejoin="round" stroke-linecap="round" />
<path d="M109.2,121.0 L109.7,120.9 L110.4,120.7 L111.3,121.0 L112.2,120.4 L113.2,121.1 L114.1,121.5 L115.1,121.5 L116.0,121.9 L116.8,122.2 L117.8,122.0 L118.8,122.5 L119.7,122.9 L120.6,123.1 L121.4,123.8 L122.2,124.0 L123.2,125.1 L124.2,126.6 L125.0,127.8 L125.8,128.1 L126.7,127.3 L127.5,124.9 L128.5,123.2 L129.3,123.5 L130.1,123.9 L131.0,125.6 L132.0,126.4 L133.0,127.2 L133.8,127.2 L134.7,126.4 L135.5,125.3 L136.4,124.4 L137.4,124.1 L138.4,123.9 L139.2,124.3 L140.1,124.9 L141.0,125.8 L142.0,126.0 L143.0,126.5 L143.9,127.4 L144.8,127.5 L145.6,128.0 L146.6,128.3 L147.5,128.2 L148.3,127.9 L149.1,126.7 L150.0,126.2 L151.0,126.0 L151.8,125.6 L152.7,125.4 L153.6,125.7 L154.6,126.1 L155.6,126.3 L156.5,126.5 L157.4,126.8 L158.2,126.5 L159.2,126.4 L160.1,126.2 L161.0,126.4 L161.9,126.8 L162.7,126.4 L163.6,125.8 L164.5,125.1 L165.4,124.4 L166.4,123.4 L167.3,121.8 L168.2,121.1 L169.0,120.0 L170.0,119.2 L170.9,118.3 L171.7,117.7 L172.6,117.1 L173.5,116.6 L174.4,116.2 L175.3,116.2 L176.1,116.5 L177.0,116.3 L178.0,116.6 L178.8,117.2 L179.7,117.3 L180.5,117.8 L181.4,118.4 L182.4,119.3 L183.4,119.4 L184.2,120.1 L185.0,120.6 L185.9,120.5 L186.8,120.9 L187.7,121.4 L188.6,121.6 L189.6,121.8 L190.6,121.8 L191.4,122.2 L192.2,122.5 L193.0,123.0 L193.8,123.1 L194.7,123.5 L195.5,123.7 L196.4,123.8 L197.2,123.5 L198.0,123.6 L198.8,123.7 L199.6,123.8 L200.5,123.3 L201.3,123.7 L202.1,123.9 L202.9,123.9 L203.7,124.4 L204.5,124.4 L205.3,124.0 L206.0,124.3 L206.8,123.8 L207.6,123.7 L208.4,124.0 L209.2,124.5 L210.0,124.7 L210.8,124.5 L211.7,124.8 L212.6,124.6 L213.6,124.4 L214.3,124.5 L215.0,124.3 L215.8,124.4 L216.6,124.8 L217.4,124.5 L218.3,124.4 L219.2,124.2 L220.0,124.1 L220.9,123.8 L221.7,123.4 L222.5,122.8 L223.3,122.2 L224.0,122.2 L224.9,122.1 L225.8,122.2 L226.6,122.3 L227.4,121.9 L228.2,121.9 L229.0,121.7 L229.8,122.1 L230.5,121.5 L231.3,121.1 L232.0,121.0 L232.9,120.3 L233.8,119.3 L234.6,119.2 L235.4,118.6 L236.2,117.9 L237.0,117.1 L237.7,117.1 L238.4,116.6 L239.5,116.4 L240.4,116.4 L241.4,116.3 L242.3,116.5 L243.2,116.2 L244.0,116.5 L244.8,116.5 L245.6,116.1 L246.4,116.7 L247.2,116.4 L248.0,117.2 L248.8,118.2 L249.6,119.3 L250.4,120.9 L251.3,121.9 L252.0,123.0 L252.8,124.1 L253.6,125.2 L254.4,126.8 L255.2,128.5 L255.9,129.9 L256.8,131.4 L257.6,132.3 L258.4,133.6 L259.2,134.9 L260.1,136.5 L261.0,137.8 L262.0,139.3 L262.8,140.5 L263.6,141.8 L264.4,142.6 L265.2,143.8 L266.1,144.2 L266.9,145.4 L267.8,146.1 L268.6,146.4 L269.5,146.9 L270.4,147.0 L271.3,146.2 L272.2,145.4 L273.1,144.3 L274.0,143.3 L275.0,143.1 L275.7,142.5 L276.5,142.4 L277.3,142.1 L278.2,141.4 L279.0,140.8 L279.9,140.5 L280.7,139.0 L281.5,137.1 L282.3,136.8 L283.0,137.3 L284.0,137.8 L284.9,137.9 L285.7,139.0 L286.5,139.2 L287.3,138.8 L288.2,137.5 L289.0,136.8 L289.9,136.8 L290.8,137.1 L291.7,136.8 L292.6,135.8 L293.4,134.8 L294.2,133.5 L295.0,132.7 L295.9,132.2 L296.7,131.0 L297.5,130.8 L298.2,129.7 L299.0,128.8 L299.8,127.7 L300.6,126.8 L301.4,125.8 L302.2,125.9 L303.0,126.9 L303.8,128.4 L304.6,129.5 L305.4,130.2 L306.2,130.4 L307.0,130.4 L308.0,130.2 L309.0,128.2 L309.9,125.5 L310.5,122.7" fill="none" stroke="#f76e6e" stroke-width="1.35" stroke-linejoin="round" stroke-linecap="round" />
<path d="M109.2,136.3 L109.7,136.5 L110.4,136.6 L111.2,136.9 L112.1,137.4 L113.0,137.4 L114.0,137.1 L115.0,136.8 L115.9,136.7 L116.8,136.9 L117.6,136.9 L118.4,136.7 L119.2,136.5 L120.0,135.8 L120.8,135.6 L121.6,135.4 L122.4,135.0 L123.2,134.7 L124.0,135.3 L124.9,135.4 L125.8,135.7 L126.7,136.3 L127.6,136.2 L128.5,136.4 L129.4,136.1 L130.3,136.9 L131.2,137.3 L132.0,137.5 L132.8,137.5 L133.6,137.2 L134.4,136.8 L135.2,136.2 L136.0,135.7 L136.8,136.1 L137.6,136.2 L138.4,136.4 L139.3,136.3 L140.2,136.8 L141.1,136.7 L142.0,137.1 L142.9,136.8 L143.8,137.3 L144.7,137.1 L145.6,136.8 L146.4,137.2 L147.2,137.0 L148.0,137.1 L148.8,137.5 L149.6,137.5 L150.4,138.2 L151.2,138.9 L152.0,139.2 L152.8,139.6 L153.7,139.8 L154.6,140.4 L155.5,140.9 L156.4,141.2 L157.3,141.5 L158.2,141.5 L159.1,141.1 L160.0,140.8 L160.9,141.0 L161.8,140.9 L162.7,140.3 L163.6,140.0 L164.5,139.4 L165.4,138.7 L166.3,137.5 L167.2,137.2 L168.0,136.7 L168.8,136.6 L169.6,136.8 L170.4,136.3 L171.2,136.2 L172.0,135.9 L172.8,135.7 L173.6,135.5 L174.4,135.2 L175.3,135.2 L176.2,134.8 L177.1,134.3 L178.0,134.1 L178.9,134.2 L179.8,134.5 L180.7,134.4 L181.6,134.4 L182.4,134.3 L183.1,133.8 L183.9,134.2 L184.6,134.2 L185.4,135.2 L186.1,135.3 L187.0,135.9 L187.8,136.3 L188.8,135.9 L189.5,135.7 L190.3,136.0 L191.1,136.2 L192.0,136.9 L192.9,137.0 L193.8,137.5 L194.6,137.9 L195.5,137.8 L196.4,138.3 L197.3,137.9 L198.1,138.4 L198.9,138.1 L199.6,138.5 L200.6,138.3 L201.4,138.4 L202.3,138.9 L203.1,138.5 L203.8,138.7 L204.6,138.4 L205.3,138.5 L206.0,138.4 L206.8,138.7 L207.6,139.1 L208.4,139.1 L209.2,139.2 L210.0,139.7 L210.8,139.9 L211.7,140.1 L212.6,139.9 L213.6,140.4 L214.3,140.2 L215.0,140.4 L215.8,140.0 L216.6,140.0 L217.4,140.1 L218.3,140.0 L219.2,140.2 L220.0,140.4 L220.9,140.1 L221.7,139.5 L222.5,139.0 L223.3,139.0 L224.0,138.5 L224.9,139.0 L225.7,138.9 L226.5,138.8 L227.2,138.8 L227.9,139.0 L228.7,139.0 L229.4,138.9 L230.2,138.6 L231.1,137.9 L232.0,137.7 L232.8,137.3 L233.6,137.6 L234.5,137.2 L235.4,136.4 L236.4,136.4 L237.3,135.9 L238.3,135.1 L239.2,134.9 L240.1,134.7 L241.0,134.4 L241.8,134.0 L242.5,134.1 L243.2,133.8 L244.4,133.9 L245.3,134.0 L246.0,134.6 L246.6,134.8 L247.3,135.5 L248.0,136.2 L248.8,136.9 L249.5,138.3 L250.3,139.0 L251.0,139.9 L251.9,140.7 L252.8,141.9 L253.6,142.9 L254.4,144.0 L255.3,145.0 L256.2,145.7 L257.1,147.1 L258.0,148.9 L259.0,150.6 L260.0,151.6 L260.8,152.6 L261.7,153.0 L262.5,153.8 L263.4,154.5 L264.3,155.9 L265.3,157.1 L266.1,158.6 L267.0,159.5 L267.8,159.7 L268.6,160.3 L269.6,160.9 L270.5,160.2 L271.4,159.5 L272.3,158.5 L273.1,157.2 L274.0,156.3 L275.0,155.9 L275.7,155.8 L276.5,156.0 L277.3,155.5 L278.2,155.1 L279.0,155.1 L279.9,154.4 L280.7,155.4 L281.5,154.2 L282.3,153.3 L283.0,151.9 L284.0,151.7 L284.9,152.3 L285.7,152.3 L286.5,151.6 L287.3,151.0 L288.2,150.3 L289.0,150.1 L289.9,150.3 L290.7,150.7 L291.6,149.0 L292.4,147.3 L293.3,146.0 L294.1,146.3 L295.0,147.4 L295.9,147.8 L296.7,147.4 L297.6,146.4 L298.4,145.0 L299.3,144.8 L300.1,143.7 L301.0,143.1 L301.9,142.4 L302.8,142.2 L303.7,141.8 L304.6,141.8 L305.5,141.2 L306.3,141.0 L307.0,140.3 L308.1,139.4 L309.1,138.3 L309.9,136.7 L310.5,135.2" fill="none" stroke="#f76e6e" stroke-width="1.35" stroke-linejoin="round" stroke-linecap="round" />
<path d="M109.2,150.0 L109.6,149.8 L110.1,150.2 L110.7,150.2 L111.3,150.1 L111.9,149.8 L112.5,149.9 L113.3,149.3 L114.0,149.2 L114.8,149.7 L115.6,149.9 L116.4,149.9 L117.3,150.1 L118.2,149.9 L119.1,150.4 L120.0,150.3 L121.0,150.4 L121.9,150.3 L122.9,149.8 L123.9,149.9 L124.9,149.5 L125.9,149.9 L126.9,149.9 L128.0,149.5 L129.0,149.5 L130.0,149.8 L130.7,150.2 L131.4,150.3 L132.1,150.2 L132.9,150.6 L133.6,150.5 L134.4,150.2 L135.2,149.8 L136.0,150.3 L136.8,150.1 L137.6,149.8 L138.4,149.9 L139.2,150.5 L140.1,150.9 L140.9,151.0 L141.7,151.4 L142.6,151.0 L143.5,151.0 L144.3,151.4 L145.2,151.0 L146.0,150.8 L146.9,151.2 L147.7,150.9 L148.6,151.0 L149.5,151.3 L150.3,151.5 L151.2,151.6 L152.0,151.8 L152.8,151.7 L153.7,151.6 L154.5,152.1 L155.3,151.8 L156.1,151.8 L156.9,151.5 L157.7,151.4 L158.5,151.2 L159.2,150.9 L160.0,151.2 L160.9,151.3 L161.8,151.2 L162.7,150.8 L163.5,151.2 L164.4,150.8 L165.3,150.2 L166.2,150.4 L167.1,150.9 L167.9,150.4 L168.8,150.5 L169.6,150.7 L170.5,150.6 L171.3,150.3 L172.2,150.3 L173.0,149.8 L173.8,149.8 L174.7,150.4 L175.5,150.3 L176.3,149.6 L177.1,149.4 L177.9,149.3 L178.6,149.6 L179.4,149.0 L180.1,149.2 L180.9,149.3 L181.6,148.9 L182.3,149.0 L183.0,148.4 L183.7,148.2 L184.3,148.0 L185.0,148.6 L186.1,148.2 L187.1,148.9 L188.1,148.9 L189.0,148.5 L189.9,148.9 L190.8,148.5 L191.6,148.8 L192.4,148.9 L193.2,149.7 L194.0,150.2 L194.7,150.6 L195.5,150.1 L196.2,150.9 L197.0,150.8 L197.7,151.1 L198.4,151.1 L199.2,151.3 L200.0,151.4 L200.9,151.7 L201.8,151.1 L202.7,150.9 L203.6,151.1 L204.5,150.8 L205.3,151.1 L206.2,151.1 L207.1,151.9 L207.9,151.6 L208.8,152.3 L209.6,152.4 L210.5,152.2 L211.3,152.0 L212.1,152.3 L212.8,152.0 L213.6,152.0 L214.5,151.7 L215.4,152.5 L216.3,152.3 L217.1,152.3 L217.9,152.2 L218.8,152.6 L219.5,152.6 L220.3,152.5 L221.1,151.9 L221.8,151.9 L222.6,151.7 L223.3,151.9 L224.0,151.3 L224.9,151.5 L225.7,151.5 L226.5,151.2 L227.2,150.4 L227.9,150.1 L228.7,149.8 L229.4,149.9 L230.2,149.5 L231.1,149.3 L232.0,149.1 L232.8,149.0 L233.6,149.1 L234.5,148.8 L235.4,148.6 L236.4,148.1 L237.3,147.7 L238.3,147.9 L239.2,148.0 L240.1,148.0 L241.0,147.7 L241.8,148.1 L242.5,148.2 L243.2,147.9 L244.4,148.4 L245.3,148.1 L246.0,149.0 L246.6,149.0 L247.3,149.5 L248.0,149.5 L248.8,149.7 L249.5,150.0 L250.3,150.3 L251.0,150.5 L251.9,151.0 L252.8,151.8 L253.6,151.9 L254.4,152.6 L255.3,153.1 L256.2,153.7 L257.1,154.4 L258.0,154.7 L259.0,154.9 L260.0,155.4 L260.8,156.0 L261.7,155.9 L262.5,156.3 L263.4,157.0 L264.3,157.2 L265.3,157.2 L266.1,157.9 L267.0,158.2 L267.8,158.6 L268.6,158.8 L269.6,158.9 L270.5,158.9 L271.4,159.6 L272.3,159.3 L273.1,159.6 L274.0,159.4 L275.0,159.5 L275.7,160.0 L276.5,159.6 L277.3,160.0 L278.1,160.7 L278.9,160.2 L279.7,160.1 L280.5,159.3 L281.4,159.7 L282.2,159.4 L283.0,159.4 L283.8,158.2 L284.6,157.7 L285.4,157.0 L286.2,157.4 L287.0,156.7 L287.8,156.8 L288.6,157.2 L289.4,157.5 L290.2,157.0 L291.0,156.1 L291.8,154.9 L292.6,153.6 L293.5,152.8 L294.3,152.0 L295.1,151.3 L295.9,151.4 L296.7,151.3 L297.5,151.7 L298.3,150.8 L299.0,150.3 L300.0,149.6 L300.9,148.4 L301.7,147.3 L302.6,146.2 L303.4,144.3 L304.2,142.7 L305.0,141.4 L306.0,140.0 L307.1,139.0 L308.1,138.1 L309.1,137.2 L309.9,136.0 L310.5,135.1" fill="none" stroke="#f9a8a8" stroke-width="1.35" stroke-linejoin="round" stroke-linecap="round" />
<path d="M109.2,159.8 L109.6,159.5 L110.1,159.9 L110.7,160.1 L111.3,160.6 L111.9,160.2 L112.5,160.5 L113.3,160.1 L114.0,159.8 L114.8,160.1 L115.6,159.6 L116.4,160.0 L117.3,159.5 L118.2,159.6 L119.1,160.3 L120.0,160.1 L121.0,160.4 L121.9,160.2 L122.9,160.2 L123.9,159.6 L124.9,159.7 L125.9,159.6 L126.9,160.1 L128.0,159.5 L129.0,160.0 L130.0,159.8 L130.7,160.1 L131.4,160.3 L132.1,160.5 L132.9,160.2 L133.6,160.3 L134.4,160.3 L135.2,161.0 L136.0,160.6 L136.8,160.7 L137.6,161.2 L138.4,161.4 L139.2,161.6 L140.1,161.0 L140.9,161.1 L141.7,161.0 L142.6,161.4 L143.5,161.5 L144.3,161.6 L145.2,162.1 L146.0,161.8 L146.9,161.8 L147.7,161.7 L148.6,161.0 L149.5,161.8 L150.3,161.8 L151.2,161.9 L152.0,162.8 L152.8,162.1 L153.7,161.8 L154.5,161.8 L155.3,161.6 L156.1,162.3 L156.9,162.4 L157.7,162.3 L158.5,162.5 L159.2,162.4 L160.0,162.1 L160.9,161.7 L161.8,161.3 L162.7,161.2 L163.5,161.5 L164.4,162.0 L165.3,162.2 L166.2,162.0 L167.1,161.8 L167.9,161.5 L168.8,160.6 L169.6,160.6 L170.5,161.3 L171.3,161.2 L172.2,161.0 L173.0,161.2 L173.8,160.7 L174.7,160.6 L175.5,160.5 L176.3,160.4 L177.1,160.4 L177.9,159.8 L178.6,160.1 L179.4,159.8 L180.1,159.4 L180.9,159.3 L181.6,159.2 L182.3,158.5 L183.0,158.6 L183.7,158.6 L184.3,158.5 L185.0,158.5 L186.1,158.2 L187.1,158.8 L188.1,158.8 L189.0,158.7 L189.9,159.1 L190.8,159.8 L191.6,159.7 L192.4,159.7 L193.2,159.9 L194.0,159.7 L194.7,159.1 L195.5,159.8 L196.2,159.8 L197.0,160.3 L197.7,160.7 L198.4,160.3 L199.2,160.4 L200.0,160.4 L200.9,160.5 L201.8,160.4 L202.7,160.6 L203.6,160.8 L204.5,160.9 L205.3,160.5 L206.2,160.7 L207.1,160.8 L207.9,160.4 L208.8,160.2 L209.6,160.4 L210.5,160.2 L211.3,160.1 L212.1,160.3 L212.8,159.9 L213.6,160.4 L214.5,160.0 L215.4,160.5 L216.3,161.2 L217.1,161.4 L217.9,161.8 L218.8,161.5 L219.5,161.3 L220.3,161.1 L221.1,161.1 L221.8,160.6 L222.6,161.1 L223.3,160.8 L224.0,160.8 L224.9,161.1 L225.7,160.8 L226.5,160.8 L227.2,160.6 L227.9,160.1 L228.7,159.5 L229.4,159.1 L230.2,159.1 L231.1,159.0 L232.0,158.5 L232.8,158.3 L233.6,158.1 L234.5,158.1 L235.4,158.3 L236.4,157.8 L237.3,157.8 L238.3,158.1 L239.2,158.6 L240.1,159.0 L241.0,158.6 L241.8,158.4 L242.5,158.7 L243.2,158.5 L244.4,157.7 L245.2,158.1 L245.9,158.7 L246.5,159.0 L247.2,159.5 L248.0,159.6 L248.7,159.5 L249.5,159.5 L250.3,159.7 L251.2,160.2 L252.0,160.7 L252.8,161.5 L253.6,161.9 L254.4,161.5 L255.3,161.7 L256.2,161.3 L257.1,160.6 L257.9,160.7 L258.9,160.4 L260.0,161.0 L260.7,160.9 L261.5,160.2 L262.3,160.0 L263.1,160.2 L264.0,159.7 L264.9,159.9 L265.8,159.6 L266.7,160.0 L267.7,160.0 L268.6,159.6 L269.4,160.0 L270.3,159.9 L271.1,160.4 L272.0,160.4 L272.9,160.4 L273.8,160.0 L274.7,159.9 L275.6,160.5 L276.5,160.6 L277.4,160.4 L278.2,159.4 L279.0,159.9 L279.9,159.7 L280.8,160.1 L281.6,160.2 L282.4,160.2 L283.1,160.3 L283.9,160.2 L284.7,160.2 L285.4,159.8 L286.2,159.2 L287.0,157.7 L287.8,156.7 L288.6,157.0 L289.5,157.1 L290.3,157.1 L291.1,157.0 L291.9,156.0 L292.7,155.5 L293.5,155.9 L294.3,155.8 L295.0,156.2 L296.0,156.0 L296.9,156.4 L297.7,156.6 L298.5,157.1 L299.3,157.7 L300.2,157.9 L301.0,158.1 L301.9,158.3 L302.8,158.6 L303.7,157.1 L304.6,156.3 L305.5,154.7 L306.3,154.1 L307.0,153.9 L308.1,152.6 L309.1,151.2 L309.9,149.4 L310.5,147.7" fill="none" stroke="#fcbcbc" stroke-width="1.35" stroke-linejoin="round" stroke-linecap="round" />
<path d="M109.2,171.2 L109.6,171.4 L110.1,171.1 L110.7,171.6 L111.3,171.1 L111.9,171.1 L112.5,171.1 L113.3,171.8 L114.0,171.4 L114.8,171.6 L115.6,171.4 L116.4,171.7 L117.3,171.8 L118.2,171.1 L119.1,171.3 L120.0,171.4 L121.0,170.9 L121.9,171.4 L122.9,171.3 L123.9,171.0 L124.9,171.6 L125.9,171.3 L126.9,170.8 L128.0,171.1 L129.0,171.3 L130.0,171.1 L130.7,171.2 L131.4,171.3 L132.1,171.8 L132.9,171.4 L133.6,170.9 L134.4,170.8 L135.2,170.7 L136.0,171.2 L136.8,171.1 L137.6,170.6 L138.4,171.4 L139.2,170.8 L140.1,171.5 L140.9,171.6 L141.7,172.0 L142.6,171.9 L143.5,171.7 L144.3,172.2 L145.2,172.6 L146.0,172.6 L146.9,172.2 L147.7,172.1 L148.6,172.6 L149.5,172.9 L150.3,172.6 L151.2,173.4 L152.0,173.7 L152.8,173.2 L153.7,173.0 L154.5,173.2 L155.3,173.3 L156.1,172.8 L156.9,172.9 L157.7,173.0 L158.5,173.4 L159.2,173.0 L160.0,173.4 L160.9,173.4 L161.8,173.6 L162.7,173.2 L163.5,174.0 L164.4,174.0 L165.3,173.7 L166.2,173.9 L167.1,173.3 L167.9,173.9 L168.8,173.5 L169.6,173.4 L170.5,173.3 L171.3,172.7 L172.2,172.9 L173.0,172.2 L173.8,172.0 L174.7,172.3 L175.5,172.6 L176.3,172.7 L177.1,172.8 L177.9,172.5 L178.6,172.9 L179.4,172.5 L180.1,172.1 L180.9,172.5 L181.6,172.5 L182.3,172.1 L183.0,172.1 L183.7,171.6 L184.3,171.5 L185.0,171.4 L186.1,171.3 L187.1,171.1 L188.1,170.7 L189.0,170.8 L189.9,171.2 L190.8,171.8 L191.6,172.0 L192.4,171.7 L193.2,171.9 L194.0,172.3 L194.7,172.2 L195.5,172.6 L196.2,172.8 L197.0,172.2 L197.7,172.4 L198.4,172.5 L199.2,172.5 L200.0,172.4 L200.9,172.3 L201.8,172.3 L202.7,173.1 L203.6,173.4 L204.5,172.9 L205.3,173.6 L206.2,173.1 L207.1,172.7 L207.9,172.6 L208.8,172.8 L209.6,172.4 L210.5,171.6 L211.3,171.5 L212.1,171.8 L212.8,172.1 L213.6,171.7 L214.5,172.2 L215.4,171.8 L216.3,171.9 L217.1,172.0 L217.9,172.4 L218.8,172.5 L219.5,172.2 L220.3,172.1 L221.1,172.1 L221.8,172.0 L222.6,172.0 L223.3,172.1 L224.0,172.2 L224.9,172.2 L225.7,172.6 L226.5,172.7 L227.2,173.3 L227.9,172.8 L228.7,173.1 L229.4,172.6 L230.2,172.3 L231.1,172.4 L232.0,171.8 L232.8,171.7 L233.5,171.4 L234.4,171.7 L235.2,171.7 L236.0,171.0 L236.9,170.8 L237.8,170.9 L238.7,170.8 L239.6,171.2 L240.5,171.0 L241.4,170.6 L242.3,171.1 L243.2,170.8 L244.0,170.3 L244.9,171.4 L245.7,171.7 L246.6,171.9 L247.4,172.6 L248.3,172.7 L249.2,172.1 L250.0,172.0 L250.9,171.7 L251.7,172.2 L252.6,172.5 L253.4,172.7 L254.2,173.1 L255.0,172.6 L255.9,172.9 L256.8,173.3 L257.6,173.3 L258.5,172.7 L259.3,172.3 L260.1,171.6 L260.9,171.6 L261.7,171.0 L262.5,170.7 L263.4,170.3 L264.2,170.2 L265.0,170.8 L265.8,170.7 L266.7,170.2 L267.5,170.6 L268.3,171.0 L269.2,171.3 L270.0,172.8 L270.8,173.5 L271.7,173.4 L272.5,173.9 L273.3,174.6 L274.2,174.6 L275.0,174.6 L275.8,173.5 L276.7,172.6 L277.5,171.8 L278.4,172.5 L279.3,172.6 L280.1,173.2 L281.0,172.4 L281.8,171.8 L282.6,171.7 L283.4,171.0 L284.2,170.4 L285.0,170.3 L285.9,170.5 L286.8,169.8 L287.6,170.0 L288.5,168.2 L289.3,167.0 L290.1,165.7 L290.9,166.9 L291.6,167.2 L292.3,168.1 L293.0,167.4 L294.0,167.5 L294.9,168.1 L295.7,168.7 L296.4,169.5 L297.2,169.8 L298.0,169.2 L298.8,168.4 L299.6,165.8 L300.4,164.9 L301.3,163.3 L302.1,162.5 L303.0,162.7 L303.8,163.7 L304.8,164.6 L305.7,166.2 L306.7,168.9 L307.6,170.8 L308.4,171.4 L309.0,171.7 L310.5,162.1" fill="none" stroke="#f9a8a8" stroke-width="1.35" stroke-linejoin="round" stroke-linecap="round" />
<path d="M109.0,189.2 L109.4,189.0 L109.8,189.4 L110.3,189.1 L110.7,189.4 L111.2,189.2 L111.7,189.3 L112.2,189.2 L112.7,189.1 L113.3,189.4 L113.8,189.9 L114.4,190.0 L115.0,190.2 L115.6,190.6 L116.2,190.5 L116.8,190.4 L117.4,190.4 L118.0,189.9 L118.7,189.7 L119.4,189.6 L120.1,189.4 L120.7,189.4 L121.4,189.1 L122.2,189.4 L122.9,189.3 L123.6,189.3 L124.4,189.2 L125.1,189.2 L125.9,189.3 L126.7,189.6 L127.4,189.7 L128.2,189.9 L129.0,190.2 L129.9,190.4 L130.7,190.3 L131.5,190.2 L132.3,190.5 L133.2,190.4 L134.0,190.8 L134.9,191.0 L135.7,190.8 L136.6,190.7 L137.5,190.5 L138.4,190.0 L139.3,189.7 L140.2,190.0 L141.1,190.1 L142.0,190.5 L142.9,190.8 L143.8,190.6 L144.7,190.5 L145.6,190.2 L146.5,190.1 L147.5,189.9 L148.4,189.8 L149.3,190.0 L150.3,189.8 L151.2,189.7 L152.2,189.8 L153.1,189.6 L154.1,189.4 L155.0,189.5 L155.9,189.4 L156.9,189.7 L157.9,189.4 L158.8,190.0 L159.8,190.0 L160.7,190.4 L161.7,191.0 L162.6,190.8 L163.6,191.0 L164.5,190.8 L165.4,191.1 L166.4,190.9 L167.3,190.8 L168.3,190.7 L169.2,190.6 L170.2,190.2 L171.1,190.0 L172.0,189.4 L172.9,189.2 L173.9,189.3 L174.8,189.6 L175.7,189.3 L176.6,189.4 L177.5,189.1 L178.4,189.3 L179.3,189.5 L180.2,189.3 L181.1,189.5 L182.0,189.3 L182.9,189.5 L183.7,189.6 L184.6,190.0 L185.4,189.9 L186.3,190.5 L187.1,190.4 L187.9,190.3 L188.8,189.8 L189.6,189.4 L190.4,189.3 L191.2,189.3 L192.0,189.7 L192.8,189.6 L193.5,190.2 L194.3,190.3 L195.0,190.0 L195.8,190.4 L196.5,190.3 L197.2,189.9 L197.9,189.7 L198.6,189.5 L199.3,189.3 L200.0,189.5 L201.0,189.7 L202.0,189.7 L203.0,189.9 L204.0,189.9 L204.9,190.3 L205.9,190.4 L206.8,190.5 L207.8,190.6 L208.7,190.3 L209.6,190.1 L210.5,190.0 L211.4,189.9 L212.3,190.1 L213.2,190.1 L214.1,189.8 L215.0,190.1 L215.9,190.4 L216.7,190.6 L217.6,190.7 L218.5,190.6 L219.3,190.3 L220.1,190.2 L221.0,190.2 L221.8,190.0 L222.6,190.0 L223.4,189.7 L224.3,189.8 L225.1,189.6 L225.9,189.6 L226.7,189.8 L227.5,189.7 L228.2,190.0 L229.0,190.5 L229.8,190.5 L230.6,191.0 L231.4,191.0 L232.1,190.8 L232.9,190.8 L233.6,190.9 L234.4,190.8 L235.2,190.6 L235.9,190.6 L236.6,190.7 L237.4,190.6 L238.1,190.3 L238.9,190.4 L239.6,190.1 L240.3,189.8 L241.1,189.7 L241.8,189.7 L242.5,189.2 L243.3,189.2 L244.0,189.2 L244.7,189.3 L245.5,189.5 L246.2,189.5 L246.9,189.5 L247.6,189.5 L248.3,189.6 L249.1,189.8 L249.8,190.2 L250.5,190.3 L251.2,190.2 L252.0,190.1 L252.7,189.5 L253.4,189.4 L254.1,188.9 L254.9,189.2 L255.6,189.9 L256.3,190.3 L257.1,190.6 L257.8,190.5 L258.5,190.7 L259.3,190.6 L260.0,190.6 L260.9,190.3 L261.8,190.5 L262.7,190.0 L263.6,189.9 L264.5,189.7 L265.4,189.4 L266.3,189.1 L267.3,189.1 L268.2,189.6 L269.1,189.7 L270.1,190.1 L271.0,190.7 L272.0,190.3 L272.9,190.2 L273.9,190.1 L274.8,189.8 L275.8,189.8 L276.7,189.9 L277.7,190.2 L278.6,190.5 L279.6,190.5 L280.5,190.1 L281.4,190.2 L282.4,189.1 L283.3,189.9 L284.2,190.2 L285.2,190.2 L286.1,190.4 L287.0,190.5 L287.9,191.1 L288.8,191.4 L289.7,191.1 L290.6,191.2 L291.5,191.7 L292.3,191.1 L293.2,190.8 L294.0,190.1 L294.9,191.2 L295.7,192.5 L296.5,193.2 L297.3,192.0 L298.1,190.6 L298.9,188.9 L299.7,188.9 L300.4,188.5 L301.1,188.5 L301.9,189.7 L302.6,190.7 L303.3,192.0 L303.9,190.4 L304.6,189.0 L305.2,187.4 L305.9,187.8 L306.5,187.7 L307.1,187.7 L307.6,188.4 L308.2,189.2 L308.7,189.8 L309.2,189.3 L309.7,188.8 L310.1,189.1 L310.6,189.0 L311.0,188.7" fill="none" stroke="#6b6b6b" stroke-width="1.30" stroke-linejoin="round" stroke-linecap="round" />
<path d="M103.5,6.4 H38.6 V205.3 H103.5 M110.3,6.4 H311.6 V205.3 H110.3" fill="none" stroke="#000" stroke-width="1.05"/>
<line x1="311.8" y1="6" x2="311.8" y2="205.8" stroke="#222" stroke-width="1.5"/>
<path d="M102.3,9.6 L106.6,3.2 M107.4,9.6 L111.7,3.2" stroke="#000" stroke-width="1.15" fill="none"/>
<path d="M102.3,208.5 L106.6,202.1 M107.4,208.5 L111.7,202.1" stroke="#000" stroke-width="1.15" fill="none"/>
<line x1="58.8" y1="205.3" x2="58.8" y2="202.8" stroke="#000" stroke-width="1.0"/>
<line x1="79.0" y1="205.3" x2="79.0" y2="201.3" stroke="#000" stroke-width="1.0"/>
<line x1="99.0" y1="205.3" x2="99.0" y2="203.3" stroke="#000" stroke-width="1.0"/>
<line x1="149.6" y1="205.3" x2="149.6" y2="202.8" stroke="#000" stroke-width="1.0"/>
<line x1="191.0" y1="205.3" x2="191.0" y2="201.3" stroke="#000" stroke-width="1.0"/>
<line x1="230.6" y1="205.3" x2="230.6" y2="202.8" stroke="#000" stroke-width="1.0"/>
<line x1="271.0" y1="205.3" x2="271.0" y2="201.3" stroke="#000" stroke-width="1.0"/>
<text x="38.5" y="217.2" font-size="10.40" fill="#000" font-weight="bold" text-anchor="middle" >3500</text>
<text x="78.8" y="217.2" font-size="10.40" fill="#000" font-weight="bold" text-anchor="middle" >3000</text>
<text x="109.5" y="217.2" font-size="10.40" fill="#000" font-weight="bold" text-anchor="middle" >1600</text>
<text x="191.0" y="217.2" font-size="10.40" fill="#000" font-weight="bold" text-anchor="middle" >1400</text>
<text x="271.0" y="217.2" font-size="10.40" fill="#000" font-weight="bold" text-anchor="middle" >1200</text>
<text x="114.0" y="234.7" font-size="15.60" fill="#111" font-weight="normal" text-anchor="start" >Wavenumber (cm<tspan dy="-6.5" font-size="9.5">-1</tspan><tspan dy="6.5">)</tspan></text>
<text x="1.5" y="15.0" font-size="15.50" fill="#000" font-weight="bold" text-anchor="start" >a</text>
<text x="45.6" y="24.4" font-size="10.60" fill="#f01010" font-weight="bold" text-anchor="start" >3240 cm<tspan dy="-6" font-size="6.5">-1</tspan></text>
<text x="34.3" y="36.0" font-size="10.80" fill="#505050" font-weight="bold" text-anchor="end" >OCP</text>
<text x="35.0" y="47.2" font-size="10.40" fill="#f01010" font-weight="bold" text-anchor="end" >0.2 V</text>
<text x="36.0" y="160.0" font-size="10.40" fill="#f01010" font-weight="bold" text-anchor="end" >0.7 V</text>
<text x="36.0" y="184.0" font-size="10.40" fill="#f01010" font-weight="bold" text-anchor="end" >0.9 V</text>
<text x="35.1" y="196.8" font-size="10.80" fill="#505050" font-weight="bold" text-anchor="end" >OCP</text>
<line x1="24.6" y1="53" x2="24.6" y2="147.5" stroke="#000" stroke-width="1.3"/>
<path d="M24.6,48 L27.2,55 L22,55 Z" fill="#000"/>
<line x1="24.6" y1="166" x2="24.6" y2="174.5" stroke="#000" stroke-width="1.3"/>
<path d="M24.6,161 L27.2,168 L22,168 Z" fill="#000"/>
<text x="62.3" y="146.3" font-size="10.60" fill="#f01010" font-weight="bold" text-anchor="start" >-N-H-</text>
<text x="107.6" y="46.0" font-size="10.60" fill="#444" font-weight="bold" text-anchor="start" >Ni-OOD</text>
<text x="164.0" y="61.0" font-size="10.60" fill="#444" font-weight="bold" text-anchor="start" >O<tspan dy="4" font-size="10.2">2ad</tspan></text>
<text x="197.0" y="52.2" font-size="10.60" fill="#444" font-weight="bold" text-anchor="start" >DOOD<tspan dy="3.6" font-size="10.2">ad</tspan></text>
<text x="253.0" y="25.0" font-size="10.60" fill="#444" font-weight="bold" text-anchor="start" >-OOD<tspan dy="3.6" font-size="10.2">ad</tspan></text>
<text x="348.0" y="15.0" font-size="15.50" fill="#000" font-weight="bold" text-anchor="start" >b</text>
<path d="M394.5,5.4 H673.7 V210.2 H394.5 Z" fill="none" stroke="#000" stroke-width="1.2"/>
<text x="389.8" y="10.0" font-size="12.80" fill="#111" font-weight="normal" text-anchor="end" >1.0</text>
<line x1="394.5" y1="34.7" x2="399" y2="34.7" stroke="#000" stroke-width="1.1"/>
<text x="389.8" y="39.3" font-size="12.80" fill="#111" font-weight="normal" text-anchor="end" >0.5</text>
<line x1="394.5" y1="64.0" x2="399" y2="64.0" stroke="#000" stroke-width="1.1"/>
<text x="389.8" y="68.6" font-size="12.80" fill="#111" font-weight="normal" text-anchor="end" >0.0</text>
<line x1="394.5" y1="93.3" x2="399" y2="93.3" stroke="#000" stroke-width="1.1"/>
<text x="389.8" y="97.9" font-size="12.80" fill="#111" font-weight="normal" text-anchor="end" >&#8722;0.5</text>
<line x1="394.5" y1="122.6" x2="399" y2="122.6" stroke="#000" stroke-width="1.1"/>
<text x="389.8" y="127.2" font-size="12.80" fill="#111" font-weight="normal" text-anchor="end" >&#8722;1.0</text>
<line x1="394.5" y1="151.9" x2="399" y2="151.9" stroke="#000" stroke-width="1.1"/>
<text x="389.8" y="156.5" font-size="12.80" fill="#111" font-weight="normal" text-anchor="end" >&#8722;1.5</text>
<line x1="394.5" y1="181.2" x2="399" y2="181.2" stroke="#000" stroke-width="1.1"/>
<text x="389.8" y="185.8" font-size="12.80" fill="#111" font-weight="normal" text-anchor="end" >&#8722;2.0</text>
<text x="389.8" y="215.1" font-size="12.80" fill="#111" font-weight="normal" text-anchor="end" >&#8722;2.5</text>
<line x1="394.5" y1="20.0" x2="396.8" y2="20.0" stroke="#000" stroke-width="1.1"/>
<line x1="394.5" y1="49.4" x2="396.8" y2="49.4" stroke="#000" stroke-width="1.1"/>
<line x1="394.5" y1="78.7" x2="396.8" y2="78.7" stroke="#000" stroke-width="1.1"/>
<line x1="394.5" y1="108.0" x2="396.8" y2="108.0" stroke="#000" stroke-width="1.1"/>
<line x1="394.5" y1="137.2" x2="396.8" y2="137.2" stroke="#000" stroke-width="1.1"/>
<line x1="394.5" y1="166.6" x2="396.8" y2="166.6" stroke="#000" stroke-width="1.1"/>
<line x1="394.5" y1="195.8" x2="396.8" y2="195.8" stroke="#000" stroke-width="1.1"/>
<text x="0.0" y="0.0" font-size="15.00" fill="#111" font-weight="normal" text-anchor="middle" transform="translate(356,105.8) rotate(-90)">Free Energy (eV)</text>
<text x="533.9" y="230.6" font-size="15.10" fill="#111" font-weight="normal" text-anchor="middle" >Reaction coordinate</text>
<text x="403.4" y="22.0" font-size="12.30" fill="#f02020" font-weight="normal" text-anchor="start" >U=0.695 V</text>
<path d="M439.0,64.0 L450.0,68.2 L483.6,68.2 L495.0,29.4 L527.6,28.9 L538.0,64.0" fill="none" stroke="#a0a0a0" stroke-width="1.4" stroke-linejoin="round" />
<path d="M439.0,64.0 L450.0,72.4 L483.6,72.4 L495.0,44.0 L528.3,44.0 L538.0,64.0" fill="none" stroke="#c9a233" stroke-width="1.6" stroke-linejoin="round" />
<path d="M439.0,64.0 L450.0,74.0 L483.6,74.0 L495.0,49.0 L528.0,49.0 L538.0,64.0" fill="none" stroke="#2f75aa" stroke-width="1.6" stroke-linejoin="round" />
<path d="M531.0,49.5 L534.0,52.0 L539.5,53.6 L573.0,53.6" fill="none" stroke="#2f75aa" stroke-width="1.6" stroke-linejoin="round" />
<path d="M406.0,64.0 L439.0,64.0 L450.0,80.3 L483.6,80.3 L495.0,64.8 L528.0,64.8 L540.2,79.1 L573.0,79.1" fill="none" stroke="#bd6121" stroke-width="1.7" stroke-linejoin="round" />
<path d="M534.6,28.9 L538.1,28.9" fill="none" stroke="#a0a0a0" stroke-width="1.4" stroke-linejoin="round" />
<path d="M540.2,28.9 L573.0,28.9" fill="none" stroke="#a0a0a0" stroke-width="1.4" stroke-linejoin="round" />
<path d="M527.6,64.1 L538.0,64.1" fill="none" stroke="#f03a44" stroke-width="1.6" stroke-linejoin="round" stroke-dasharray="1.5,2"/>
<path d="M538.0,64.1 L573.0,64.1" fill="none" stroke="#f03a44" stroke-width="1.8" stroke-linejoin="round" />
<path d="M573.0,28.9 L584.0,113.4" fill="none" stroke="#999" stroke-width="1.5" stroke-linejoin="round" stroke-dasharray="1.6,3"/>
<path d="M573.0,53.6 L584.0,139.4" fill="none" stroke="#c9a233" stroke-width="1.6" stroke-linejoin="round" />
<path d="M573.0,53.6 L584.0,139.4" fill="none" stroke="#2f75aa" stroke-width="1.6" stroke-linejoin="round" stroke-dasharray="2,2"/>
<path d="M573.0,79.1 L584.0,160.7" fill="none" stroke="#bd6121" stroke-width="1.7" stroke-linejoin="round" stroke-dasharray="1.6,3"/>
<path d="M584.0,113.4 L618.0,113.4" fill="none" stroke="#a0a0a0" stroke-width="1.4" stroke-linejoin="round" />
<path d="M584.0,139.4 L618.0,139.4" fill="none" stroke="#c9a233" stroke-width="1.6" stroke-linejoin="round" />
<path d="M584.0,139.4 L618.0,139.4" fill="none" stroke="#2f75aa" stroke-width="1.6" stroke-linejoin="round" />
<path d="M584.0,160.7 L618.0,160.7" fill="none" stroke="#bd6121" stroke-width="1.7" stroke-linejoin="round" />
<path d="M618.0,113.4 L628.4,188.8" fill="none" stroke="#999" stroke-width="1.5" stroke-linejoin="round" stroke-dasharray="1.6,3"/>
<path d="M618.0,139.4 L628.4,188.8" fill="none" stroke="#c9a233" stroke-width="1.6" stroke-linejoin="round" />
<path d="M618.0,139.4 L628.4,188.8" fill="none" stroke="#2f75aa" stroke-width="1.6" stroke-linejoin="round" stroke-dasharray="2,2"/>
<path d="M618.0,160.7 L628.4,188.8" fill="none" stroke="#bd6121" stroke-width="1.7" stroke-linejoin="round" stroke-dasharray="1.6,3"/>
<path d="M628.4,188.8 L662.0,188.8" fill="none" stroke="#bd6121" stroke-width="1.7" stroke-linejoin="round" />
<line x1="557.8" y1="68" x2="557.8" y2="75.5" stroke="#000" stroke-width="1.1"/>
<path d="M557.8,64.3 L560,69 L555.6,69 Z M557.8,79 L560,74.3 L555.6,74.3 Z" fill="#000"/>
<line x1="555.6" y1="72.1" x2="530" y2="87" stroke="#aaa" stroke-width="1" stroke-dasharray="2.5,2"/>
<path d="M526.5,88.5 L529,83.5 L532.5,87.5 Z" fill="#aaa"/>
<line x1="604.3" y1="12.5" x2="628.4" y2="12.5" stroke="#a0a0a0" stroke-width="1.6"/>
<text x="630.8" y="16.4" font-size="10.80" fill="#111" font-weight="bold" text-anchor="start" >s-Ni</text>
<line x1="604.3" y1="26.0" x2="628.4" y2="26.0" stroke="#c9a233" stroke-width="1.6"/>
<text x="630.8" y="29.9" font-size="10.80" fill="#111" font-weight="bold" text-anchor="start" >d-Ni</text>
<line x1="604.3" y1="39.3" x2="628.4" y2="39.3" stroke="#2f75aa" stroke-width="1.6"/>
<text x="630.8" y="43.2" font-size="10.80" fill="#111" font-weight="bold" text-anchor="start" >s-OH-Ni</text>
<line x1="604.3" y1="52.5" x2="628.4" y2="52.5" stroke="#bd6121" stroke-width="1.6"/>
<text x="630.8" y="56.4" font-size="10.80" fill="#111" font-weight="bold" text-anchor="start" >d-OH-Ni</text>
<text x="410.4" y="56.7" font-size="10.80" fill="#111" font-weight="bold" text-anchor="start" >*+O<tspan dy="2" font-size="8.5">2</tspan></text>
<text x="453.3" y="62.0" font-size="10.80" fill="#111" font-weight="bold" text-anchor="start" >*O<tspan dy="2" font-size="8.5">2</tspan></text>
<text x="494.5" y="23.5" font-size="10.80" fill="#111" font-weight="bold" text-anchor="start" >*OOH</text>
<text x="582.0" y="70.0" font-size="10.80" fill="#f03a44" font-weight="bold" text-anchor="start" >*+H<tspan dy="2" font-size="8.5">2</tspan><tspan dy="-2">O</tspan><tspan dy="2" font-size="8.5">2</tspan></text>
<text x="468.0" y="99.2" font-size="10.60" fill="#b45a20" font-weight="bold" text-anchor="start" >&#916;G = -0.26 eV</text>
<text x="552.5" y="94.5" font-size="10.80" fill="#111" font-weight="bold" text-anchor="start" >*O</text>
<text x="589.0" y="172.6" font-size="10.80" fill="#111" font-weight="bold" text-anchor="start" >*OH</text>
<text x="629.7" y="183.0" font-size="10.80" fill="#2f7fd0" font-weight="bold" text-anchor="start" >*+H<tspan dy="2" font-size="8.5">2</tspan><tspan dy="-2">O</tspan></text>
<line x1="413" y1="127.4" x2="481" y2="127.4" stroke="#dcb8b0" stroke-width="2.4"/><circle cx="413.0" cy="127.4" r="2.0" fill="#fbeeee" stroke="#dca8a8" stroke-width="0.7"/><circle cx="416.8" cy="127.4" r="2.0" fill="#fbeeee" stroke="#dca8a8" stroke-width="0.7"/><circle cx="477.0" cy="127.4" r="2.0" fill="#fbeeee" stroke="#dca8a8" stroke-width="0.7"/><circle cx="481.0" cy="127.4" r="2.0" fill="#fbeeee" stroke="#dca8a8" stroke-width="0.7"/><circle cx="447.2" cy="127.4" r="5.6" fill="url(#gNi)" /><line x1="437.3" y1="127.4" x2="456" y2="127.4" stroke="#9a6a4a" stroke-width="1.6"/><circle cx="427.3" cy="127.4" r="3.1" fill="url(#gC)" /><circle cx="431.0" cy="127.4" r="3.3" fill="url(#gN)" /><circle cx="437.3" cy="127.4" r="3.1" fill="url(#gC)" /><circle cx="455.9" cy="127.4" r="3.1" fill="url(#gC)" /><circle cx="467.0" cy="127.4" r="3.1" fill="url(#gC)" /><circle cx="462.7" cy="127.4" r="3.3" fill="url(#gN)" /><line x1="484" y1="130" x2="499" y2="137.5" stroke="#aaa" stroke-width="0.8" stroke-dasharray="1.5,1.5"/><line x1="502.6" y1="163.5" x2="501.6" y2="151" stroke="#c4c4c4" stroke-width="2.2"/><line x1="501.6" y1="151" x2="501" y2="139.6" stroke="#e03030" stroke-width="2.2"/><line x1="501" y1="139.6" x2="518.8" y2="130.8" stroke="#e03030" stroke-width="2.2"/><line x1="502.6" y1="163.5" x2="503" y2="179" stroke="#c4c4c4" stroke-width="2.2"/><line x1="503" y1="179" x2="503.2" y2="190" stroke="#e03030" stroke-width="2.2"/><line x1="468" y1="165" x2="537" y2="165.5" stroke="#dcb8b0" stroke-width="2.6"/><circle cx="468.0" cy="163.5" r="1.8" fill="#fbeeee" stroke="#dca8a8" stroke-width="0.7"/><circle cx="468.5" cy="166.8" r="1.8" fill="#fbeeee" stroke="#dca8a8" stroke-width="0.7"/><circle cx="473.0" cy="161.8" r="1.8" fill="#fbeeee" stroke="#dca8a8" stroke-width="0.7"/><circle cx="473.5" cy="166.3" r="1.8" fill="#fbeeee" stroke="#dca8a8" stroke-width="0.7"/><circle cx="533.5" cy="163.0" r="1.8" fill="#fbeeee" stroke="#dca8a8" stroke-width="0.7"/><circle cx="534.0" cy="166.8" r="1.8" fill="#fbeeee" stroke="#dca8a8" stroke-width="0.7"/><circle cx="537.2" cy="167.8" r="1.8" fill="#fbeeee" stroke="#dca8a8" stroke-width="0.7"/><circle cx="486.2" cy="161.6" r="3.0" fill="url(#gN)" /><circle cx="519.0" cy="161.6" r="3.0" fill="url(#gN)" /><circle cx="483.2" cy="163.6" r="3.0" fill="url(#gC)" /><circle cx="522.6" cy="165.6" r="3.1" fill="url(#gC)" /><circle cx="502.6" cy="163.4" r="5.4" fill="url(#gNi)" /><line x1="493" y1="165.6" x2="512.3" y2="165.6" stroke="#a07a66" stroke-width="2"/><circle cx="492.9" cy="165.3" r="3.6" fill="url(#gC)" /><circle cx="512.3" cy="165.3" r="3.6" fill="url(#gC)" /><circle cx="486.2" cy="167.0" r="3.3" fill="url(#gN)" /><circle cx="519.0" cy="167.0" r="3.3" fill="url(#gN)" /><circle cx="501.0" cy="139.6" r="3.5" fill="url(#gO)" /><circle cx="518.8" cy="130.8" r="3.2" fill="url(#gO)" /><circle cx="522.0" cy="129.5" r="1.8" fill="#fbeeee" stroke="#dca8a8" stroke-width="0.7"/><line x1="503.2" y1="190" x2="496" y2="195.5" stroke="#e8c8c8" stroke-width="1.8"/><circle cx="503.2" cy="190.0" r="3.5" fill="url(#gO)" /><circle cx="496.0" cy="195.5" r="1.8" fill="#fbeeee" stroke="#dca8a8" stroke-width="0.7"/>
<text x="2.4" y="268.0" font-size="15.50" fill="#000" font-weight="bold" text-anchor="start" >c</text>
<line x1="39.9" y1="255.4" x2="313" y2="255.4" stroke="#222" stroke-width="1.2"/>
<line x1="39.9" y1="356.3" x2="313.4" y2="356.3" stroke="#1a1a1a" stroke-width="1.3"/>
<line x1="39.9" y1="255" x2="39.9" y2="356.9" stroke="#1a8ad0" stroke-width="1.4"/>
<line x1="312.6" y1="255" x2="312.6" y2="356.3" stroke="#c27a4a" stroke-width="1.3"/>
<line x1="39" y1="362.1" x2="312.3" y2="362.1" stroke="#666" stroke-width="1.5"/>
<line x1="39" y1="461.7" x2="312.3" y2="461.7" stroke="#444" stroke-width="1.4"/>
<line x1="39" y1="361.4" x2="39" y2="462.3" stroke="#1a8ad0" stroke-width="1.4"/>
<line x1="312.3" y1="361.4" x2="312.3" y2="462.3" stroke="#c27a4a" stroke-width="1.3"/>
<line x1="64.8" y1="356.3" x2="64.8" y2="354.4" stroke="#222" stroke-width="1"/>
<line x1="63.5" y1="461.7" x2="63.5" y2="459.8" stroke="#444" stroke-width="1"/>
<line x1="89.7" y1="356.3" x2="89.7" y2="353.1" stroke="#222" stroke-width="1"/>
<line x1="88.3" y1="461.7" x2="88.3" y2="458.5" stroke="#444" stroke-width="1"/>
<line x1="114.6" y1="356.3" x2="114.6" y2="354.4" stroke="#222" stroke-width="1"/>
<line x1="113.2" y1="461.7" x2="113.2" y2="459.8" stroke="#444" stroke-width="1"/>
<line x1="139.4" y1="356.3" x2="139.4" y2="353.1" stroke="#222" stroke-width="1"/>
<line x1="138.0" y1="461.7" x2="138.0" y2="458.5" stroke="#444" stroke-width="1"/>
<line x1="164.2" y1="356.3" x2="164.2" y2="354.4" stroke="#222" stroke-width="1"/>
<line x1="162.8" y1="461.7" x2="162.8" y2="459.8" stroke="#444" stroke-width="1"/>
<line x1="189.1" y1="356.3" x2="189.1" y2="353.1" stroke="#222" stroke-width="1"/>
<line x1="187.6" y1="461.7" x2="187.6" y2="458.5" stroke="#444" stroke-width="1"/>
<line x1="214.0" y1="356.3" x2="214.0" y2="354.4" stroke="#222" stroke-width="1"/>
<line x1="212.4" y1="461.7" x2="212.4" y2="459.8" stroke="#444" stroke-width="1"/>
<line x1="238.8" y1="356.3" x2="238.8" y2="353.1" stroke="#222" stroke-width="1"/>
<line x1="237.3" y1="461.7" x2="237.3" y2="458.5" stroke="#444" stroke-width="1"/>
<line x1="263.6" y1="356.3" x2="263.6" y2="354.4" stroke="#222" stroke-width="1"/>
<line x1="262.1" y1="461.7" x2="262.1" y2="459.8" stroke="#444" stroke-width="1"/>
<line x1="288.5" y1="356.3" x2="288.5" y2="353.1" stroke="#222" stroke-width="1"/>
<line x1="286.9" y1="461.7" x2="286.9" y2="458.5" stroke="#444" stroke-width="1"/>
<text x="38.5" y="474.6" font-size="10.60" fill="#111" font-weight="bold" text-anchor="middle" >0.0</text>
<text x="88.1" y="474.6" font-size="10.60" fill="#111" font-weight="bold" text-anchor="middle" >0.2</text>
<text x="137.8" y="474.6" font-size="10.60" fill="#111" font-weight="bold" text-anchor="middle" >0.4</text>
<text x="187.4" y="474.6" font-size="10.60" fill="#111" font-weight="bold" text-anchor="middle" >0.6</text>
<text x="237.1" y="474.6" font-size="10.60" fill="#111" font-weight="bold" text-anchor="middle" >0.8</text>
<text x="286.7" y="474.6" font-size="10.60" fill="#111" font-weight="bold" text-anchor="middle" >1.0</text>
<text x="182.2" y="494.5" font-size="16.20" fill="#111" font-weight="normal" text-anchor="middle" >Bond elongation <tspan font-weight="bold">(</tspan><tspan font-family="Liberation Serif">&#197;</tspan><tspan font-weight="bold">)</tspan></text>
<line x1="39.9" y1="274.5" x2="43" y2="274.5" stroke="#1a8ad0" stroke-width="1"/>
<text x="36.3" y="278.2" font-size="10.60" fill="#1a8ad0" font-weight="bold" text-anchor="end" >1.2</text>
<line x1="39.9" y1="300.0" x2="43" y2="300.0" stroke="#1a8ad0" stroke-width="1"/>
<text x="36.3" y="303.7" font-size="10.60" fill="#1a8ad0" font-weight="bold" text-anchor="end" >0.8</text>
<line x1="39.9" y1="325.2" x2="43" y2="325.2" stroke="#1a8ad0" stroke-width="1"/>
<text x="36.3" y="328.9" font-size="10.60" fill="#1a8ad0" font-weight="bold" text-anchor="end" >0.4</text>
<line x1="39.9" y1="350.3" x2="43" y2="350.3" stroke="#1a8ad0" stroke-width="1"/>
<text x="36.3" y="354.0" font-size="10.60" fill="#1a8ad0" font-weight="bold" text-anchor="end" >0.0</text>
<line x1="39" y1="374.6" x2="42.2" y2="374.6" stroke="#1a8ad0" stroke-width="1"/>
<text x="36.0" y="378.3" font-size="10.60" fill="#1a8ad0" font-weight="bold" text-anchor="end" >0.6</text>
<line x1="39" y1="399.7" x2="42.2" y2="399.7" stroke="#1a8ad0" stroke-width="1"/>
<text x="36.0" y="403.4" font-size="10.60" fill="#1a8ad0" font-weight="bold" text-anchor="end" >0.4</text>
<line x1="39" y1="424.6" x2="42.2" y2="424.6" stroke="#1a8ad0" stroke-width="1"/>
<text x="36.0" y="428.3" font-size="10.60" fill="#1a8ad0" font-weight="bold" text-anchor="end" >0.2</text>
<line x1="39" y1="449.6" x2="42.2" y2="449.6" stroke="#1a8ad0" stroke-width="1"/>
<text x="36.0" y="453.3" font-size="10.60" fill="#1a8ad0" font-weight="bold" text-anchor="end" >0.0</text>
<line x1="39.7" y1="287.2" x2="41.8" y2="287.2" stroke="#1a8ad0" stroke-width="1"/>
<line x1="39.7" y1="312.6" x2="41.8" y2="312.6" stroke="#1a8ad0" stroke-width="1"/>
<line x1="39.7" y1="337.8" x2="41.8" y2="337.8" stroke="#1a8ad0" stroke-width="1"/>
<line x1="39" y1="387.2" x2="41" y2="387.2" stroke="#1a8ad0" stroke-width="1"/>
<line x1="39" y1="412.2" x2="41" y2="412.2" stroke="#1a8ad0" stroke-width="1"/>
<line x1="39" y1="437.1" x2="41" y2="437.1" stroke="#1a8ad0" stroke-width="1"/>
<text x="0.0" y="0.0" font-size="16.10" fill="#1a8ad0" font-weight="normal" text-anchor="middle" transform="translate(14.6,360.2) rotate(-90)">Free energy (eV)</text>
<line x1="312.6" y1="274.0" x2="309" y2="274.0" stroke="#c27a4a" stroke-width="1"/>
<text x="316.0" y="277.8" font-size="10.60" fill="#c27a4a" font-weight="bold" text-anchor="start" >2</text>
<line x1="312.6" y1="302.3" x2="309" y2="302.3" stroke="#c27a4a" stroke-width="1"/>
<text x="316.0" y="306.1" font-size="10.60" fill="#c27a4a" font-weight="bold" text-anchor="start" >0</text>
<line x1="312.6" y1="331.0" x2="309" y2="331.0" stroke="#c27a4a" stroke-width="1"/>
<text x="316.0" y="334.8" font-size="10.60" fill="#c27a4a" font-weight="bold" text-anchor="start" >-2</text>
<line x1="312.6" y1="259.7" x2="310.5" y2="259.7" stroke="#c27a4a" stroke-width="1"/>
<line x1="312.6" y1="288.2" x2="310.5" y2="288.2" stroke="#c27a4a" stroke-width="1"/>
<line x1="312.6" y1="316.6" x2="310.5" y2="316.6" stroke="#c27a4a" stroke-width="1"/>
<line x1="312.6" y1="345.3" x2="310.5" y2="345.3" stroke="#c27a4a" stroke-width="1"/>
<line x1="312" y1="379.6" x2="308.5" y2="379.6" stroke="#c27a4a" stroke-width="1"/>
<text x="316.0" y="383.4" font-size="10.60" fill="#c27a4a" font-weight="bold" text-anchor="start" >2</text>
<line x1="312" y1="402.8" x2="308.5" y2="402.8" stroke="#c27a4a" stroke-width="1"/>
<text x="316.0" y="406.6" font-size="10.60" fill="#c27a4a" font-weight="bold" text-anchor="start" >1</text>
<line x1="312" y1="426.3" x2="308.5" y2="426.3" stroke="#c27a4a" stroke-width="1"/>
<text x="316.0" y="430.1" font-size="10.60" fill="#c27a4a" font-weight="bold" text-anchor="start" >0</text>
<line x1="312" y1="450.0" x2="308.5" y2="450.0" stroke="#c27a4a" stroke-width="1"/>
<text x="316.0" y="453.8" font-size="10.60" fill="#c27a4a" font-weight="bold" text-anchor="start" >-1</text>
<line x1="312" y1="368.0" x2="310" y2="368.0" stroke="#c27a4a" stroke-width="1"/>
<line x1="312" y1="391.2" x2="310" y2="391.2" stroke="#c27a4a" stroke-width="1"/>
<line x1="312" y1="414.5" x2="310" y2="414.5" stroke="#c27a4a" stroke-width="1"/>
<line x1="312" y1="438.2" x2="310" y2="438.2" stroke="#c27a4a" stroke-width="1"/>
<text transform="translate(343.5,370.8) rotate(-90)" text-anchor="middle" font-size="14.8" font-weight="bold" fill="#c27a4a"><tspan font-family="Liberation Serif" font-style="italic">f</tspan> (r, 300 K) (eV/<tspan font-family="Liberation Serif" font-weight="normal">&#197;</tspan>)</text>
<path d="M39.9,350.3 L40.5,350.1 L41.3,349.9 L42.2,349.7 L43.3,349.5 L44.4,349.2 L45.6,348.8 L46.9,348.5 L48.3,348.1 L49.6,347.6 L50.5,347.3 L51.4,346.9 L52.4,346.6 L53.4,346.2 L54.5,345.8 L55.5,345.4 L56.6,345.0 L57.7,344.6 L58.8,344.1 L59.9,343.7 L61.0,343.2 L62.1,342.7 L63.1,342.2 L64.2,341.7 L65.2,341.2 L66.3,340.6 L67.3,340.0 L68.4,339.5 L69.4,338.9 L70.5,338.3 L71.5,337.6 L72.5,337.0 L73.6,336.3 L74.6,335.7 L75.7,335.0 L76.7,334.4 L77.8,333.7 L78.8,333.0 L79.8,332.3 L80.9,331.6 L81.9,330.9 L83.0,330.2 L84.0,329.4 L85.1,328.7 L86.1,327.9 L87.1,327.1 L88.2,326.4 L89.2,325.6 L90.3,324.9 L91.3,324.1 L92.4,323.4 L93.4,322.7 L94.4,322.0 L95.5,321.3 L96.5,320.6 L97.6,319.9 L98.6,319.3 L99.7,318.6 L100.7,317.9 L101.7,317.3 L102.8,316.6 L103.8,315.9 L104.9,315.3 L105.9,314.6 L107.0,313.9 L108.0,313.2 L109.1,312.5 L110.1,311.7 L111.3,311.0 L112.4,310.2 L113.5,309.4 L114.6,308.6 L115.7,307.8 L116.8,307.0 L117.9,306.3 L119.0,305.5 L119.9,304.8 L120.9,304.2 L121.8,303.6 L122.6,303.0 L124.0,302.0 L125.3,301.2 L126.4,300.5 L127.3,299.9 L128.2,299.3 L129.1,298.8 L130.0,298.2 L131.2,297.4 L132.3,296.7 L133.3,296.0 L134.4,295.3 L135.7,294.6 L136.6,294.1 L137.6,293.6 L138.6,293.1 L139.7,292.6 L140.8,292.0 L141.9,291.5 L143.1,291.1 L144.2,290.6 L145.2,290.2 L146.3,289.9 L147.4,289.6 L148.5,289.2 L149.6,288.9 L150.6,288.6 L151.7,288.3 L152.7,288.0 L153.7,287.7 L154.9,287.3 L156.0,286.8 L157.1,286.3 L158.2,285.9 L159.2,285.4 L160.3,285.0 L161.3,284.6 L162.5,284.2 L163.6,283.9 L164.7,283.5 L165.7,283.2 L166.8,282.9 L168.0,282.5 L169.0,282.1 L170.1,281.7 L171.2,281.3 L172.2,280.9 L173.3,280.5 L174.4,280.1 L175.5,279.7 L176.6,279.3 L177.7,279.0 L178.8,278.6 L179.8,278.3 L180.9,277.9 L182.0,277.6 L183.1,277.3 L184.2,277.0 L185.3,276.8 L186.3,276.5 L187.4,276.3 L188.5,276.1 L189.6,275.9 L190.7,275.7 L191.8,275.5 L192.8,275.4 L193.9,275.3 L195.0,275.2 L196.1,275.1 L197.3,275.0 L198.6,275.0 L199.5,275.0 L200.4,275.0 L201.4,275.1 L202.3,275.1 L203.3,275.2 L204.4,275.2 L205.4,275.3 L206.5,275.4 L207.7,275.4 L208.8,275.5 L210.0,275.6 L210.9,275.7 L211.8,275.7 L212.8,275.8 L213.7,275.9 L214.7,276.0 L215.7,276.1 L216.8,276.2 L217.8,276.3 L218.8,276.4 L219.9,276.5 L220.9,276.5 L221.9,276.6 L223.0,276.6 L224.0,276.6 L225.0,276.6 L226.0,276.6 L227.0,276.5 L228.0,276.4 L229.0,276.3 L230.1,276.1 L231.1,276.0 L232.1,275.8 L233.1,275.7 L234.1,275.5 L235.1,275.3 L236.1,275.2 L237.1,275.0 L238.1,274.9 L239.0,274.7 L240.0,274.6 L241.1,274.5 L242.2,274.3 L243.3,274.2 L244.4,274.1 L245.4,274.0 L246.5,273.8 L247.6,273.7 L248.6,273.6 L249.6,273.5 L250.6,273.4 L251.6,273.4 L252.6,273.3 L253.6,273.3 L254.7,273.3 L255.8,273.3 L256.8,273.3 L257.8,273.4 L258.9,273.5 L259.8,273.6 L260.8,273.7 L261.8,273.8 L262.9,273.9 L263.9,273.9 L265.0,274.0 L266.0,274.1 L267.1,274.1 L268.1,274.2 L269.2,274.3 L270.3,274.3 L271.4,274.4 L272.4,274.5 L273.5,274.5 L274.6,274.6 L275.7,274.6 L276.7,274.6 L277.8,274.6 L278.8,274.6 L279.8,274.5 L280.7,274.5 L281.6,274.4 L282.5,274.3 L283.4,274.2 L284.3,274.1 L285.3,274.1 L286.4,274.0 L287.5,273.9 L288.7,273.8 L290.0,273.8 L290.9,273.8 L291.8,273.8 L292.9,273.8 L293.9,273.7 L295.1,273.7 L296.3,273.7 L297.5,273.7 L298.7,273.7 L299.9,273.7 L301.2,273.8 L302.4,273.8 L303.6,273.8 L304.7,273.8 L305.8,273.8 L306.9,273.8 L307.8,273.8 L308.7,273.8 L309.5,273.8 L310.2,273.8 L310.8,273.8" fill="none" stroke="#1a8ad0" stroke-width="1.80" stroke-linejoin="round" stroke-linecap="round" />
<path d="M39.8,291.4 L40.4,291.4 L41.0,290.9 L41.6,290.8 L42.2,289.6 L42.8,288.5 L43.4,287.2 L44.1,287.6 L44.8,288.5 L45.4,286.9 L46.0,285.5 L46.6,283.8 L47.2,284.3 L47.9,284.4 L48.6,282.3 L49.3,279.8 L50.0,280.3 L50.6,281.1 L51.3,279.7 L52.0,278.3 L52.6,278.8 L53.2,279.3 L53.8,279.8 L54.3,279.8 L54.9,279.9 L55.5,280.1 L56.0,280.2 L56.6,279.4 L57.2,278.8 L57.8,277.8 L58.4,278.2 L59.0,278.3 L59.5,278.8 L60.1,279.0 L60.6,279.4 L61.1,279.6 L61.6,279.9 L62.2,278.7 L62.8,277.0 L63.3,276.4 L63.9,275.8 L64.5,275.3 L65.0,274.9 L65.6,274.2 L66.2,273.3 L66.8,272.7 L67.4,272.2 L67.9,272.1 L68.5,271.9 L69.1,271.6 L69.8,269.8 L70.4,268.2 L71.0,268.1 L71.6,267.7 L72.1,267.6 L72.7,267.7 L73.3,268.6 L73.9,269.5 L74.5,270.4 L75.2,269.7 L75.8,268.9 L76.4,269.0 L76.9,269.4 L77.5,269.4 L78.1,270.1 L78.6,269.9 L79.2,270.0 L79.8,270.1 L80.3,270.1 L80.9,270.1 L81.4,270.6 L82.0,270.8 L82.5,269.0 L83.0,266.8 L83.6,266.2 L84.2,265.7 L84.7,265.2 L85.3,264.9 L85.9,265.6 L86.5,266.3 L87.1,266.9 L87.8,267.6 L88.5,268.1 L89.4,266.9 L90.0,266.0 L90.6,265.5 L91.2,264.2 L91.8,264.3 L92.4,264.4 L93.0,264.8 L93.6,265.6 L94.2,266.2 L94.8,267.3 L95.3,267.3 L95.9,267.2 L96.5,267.1 L97.0,267.4 L97.5,267.4 L98.1,267.5 L98.6,268.0 L99.2,268.0 L99.7,268.1 L100.2,268.8 L100.8,269.2 L101.3,269.6 L101.9,270.3 L102.4,270.8 L103.0,269.5 L103.6,268.6 L104.1,267.7 L104.7,266.3 L105.3,266.4 L105.9,266.2 L106.5,265.8 L107.0,266.3 L107.6,267.1 L108.2,267.6 L108.7,267.9 L109.3,266.5 L109.8,265.4 L110.4,264.0 L111.0,262.3 L111.6,262.0 L112.2,261.5 L112.8,260.9 L113.3,261.0 L113.9,261.4 L114.5,261.7 L115.0,262.0 L115.5,262.5 L116.1,262.8 L116.6,262.4 L117.1,261.9 L117.6,261.5 L118.1,261.0 L118.6,260.8 L119.2,260.7 L119.8,261.4 L120.4,261.4 L121.0,262.4 L121.6,262.7 L122.1,263.6 L122.7,264.1 L123.3,264.6 L123.9,265.5 L124.5,266.2 L125.0,265.8 L125.6,265.9 L126.2,265.6 L126.7,265.7 L127.3,266.3 L127.8,267.5 L128.4,268.4 L129.0,269.7 L129.6,270.0 L130.2,270.4 L130.8,270.5 L131.4,270.0 L132.1,269.7 L132.7,270.2 L133.2,271.1 L133.8,272.2 L134.5,275.4 L135.2,278.9 L135.9,279.7 L136.6,281.1 L137.1,281.9 L137.6,282.7 L138.1,283.7 L138.7,284.2 L139.2,284.8 L139.8,285.3 L140.4,285.8 L141.0,284.8 L141.7,284.0 L142.3,283.0 L142.9,283.2 L143.5,282.8 L144.0,283.0 L144.6,283.0 L145.2,282.9 L145.8,283.5 L146.4,283.6 L147.0,284.2 L147.6,284.3 L148.2,284.7 L148.8,285.2 L149.4,285.5 L150.0,284.2 L150.6,282.8 L151.2,282.1 L151.8,280.5 L152.3,279.4 L152.9,278.7 L153.4,277.6 L153.9,276.5 L154.4,276.9 L155.0,277.6 L155.6,277.7 L156.1,278.2 L156.7,279.2 L157.3,279.6 L157.9,280.3 L158.5,280.9 L159.1,281.6 L159.8,282.1 L160.4,282.5 L161.0,282.7 L161.6,282.9 L162.1,283.4 L162.7,283.5 L163.2,283.3 L163.7,282.8 L164.2,282.6 L164.8,282.6 L165.5,283.0 L166.1,283.7 L166.7,284.9 L167.4,286.1 L168.0,287.3 L168.6,287.6 L169.2,287.7 L169.8,288.0 L170.4,287.1 L171.0,285.9 L171.6,284.6 L172.2,283.6 L172.8,283.5 L173.4,284.0 L174.0,284.0 L174.6,284.4 L175.2,286.5 L175.9,288.9 L176.5,290.9 L177.1,291.1 L177.8,291.2 L178.4,290.9 L179.0,289.4 L179.7,288.0 L180.3,286.3 L180.9,286.1 L181.4,285.8 L182.0,285.4 L182.6,287.2 L183.1,289.2 L183.7,291.2 L184.4,293.0 L185.0,294.9 L185.6,293.2 L186.3,291.6 L186.9,290.3 L187.5,289.9 L188.1,289.5 L188.7,288.9 L189.3,288.8 L190.0,290.1 L190.7,292.2 L191.4,292.5 L192.1,292.6 L192.6,295.9 L193.1,299.8 L193.1,300.1 L194.0,298.7 L194.9,301.2 L195.8,298.5 L196.7,301.8 L197.6,298.6 L198.5,301.7 L199.4,298.6 L200.3,303.6 L201.2,300.0 L202.1,305.3 L203.0,301.2 L203.9,307.0 L204.8,303.6 L205.7,307.0 L206.6,304.9 L207.5,306.8 L208.4,305.5 L209.3,307.9 L210.2,306.5 L211.1,309.7 L212.0,305.3 L212.9,313.1 L213.8,304.6 L214.7,313.8 L215.6,305.2 L216.5,314.0 L217.4,305.8 L218.3,313.9 L219.2,305.3 L220.1,314.3 L221.0,306.0 L221.9,309.6 L222.8,301.5 L223.7,303.1 L224.6,299.1 L225.5,300.3 L226.4,297.0 L227.3,299.3 L228.2,296.9 L229.1,299.0 L230.0,295.7 L230.9,299.1 L231.8,295.0 L232.7,301.0 L233.6,296.1 L234.5,302.7 L235.4,298.6 L236.3,302.2 L237.2,297.0 L238.1,299.5 L239.0,296.4 L239.9,298.4 L240.8,295.8 L241.7,297.8 L242.6,294.9 L243.5,297.6 L244.4,293.3 L245.3,298.0 L246.2,291.0 L247.1,299.5 L248.0,293.4 L248.9,300.6 L249.8,293.5 L250.7,301.6 L251.6,295.4 L252.5,303.2 L253.4,296.9 L254.3,304.6 L255.2,299.9 L256.1,304.8 L257.0,300.4 L257.9,304.3 L258.8,303.0 L259.7,306.0 L260.6,304.6 L261.5,303.8 L262.4,302.6 L263.3,302.8 L264.2,302.3 L265.1,303.3 L266.0,302.5 L266.9,307.5 L267.8,301.7 L268.7,311.1 L269.6,301.9 L270.5,313.2 L271.4,301.5 L272.3,312.4 L273.2,300.8 L274.1,310.1 L275.0,301.0 L275.9,307.6 L276.8,296.7 L277.7,304.3 L278.6,295.1 L279.5,304.1 L280.4,295.0 L281.3,302.8 L282.2,295.9 L283.1,301.8 L284.0,299.3 L284.9,302.9 L285.8,302.6 L286.7,304.4 L287.6,303.5 L288.5,304.1 L289.4,302.6 L290.3,303.4 L291.2,299.7 L292.1,304.7 L293.0,297.3 L293.9,305.7 L294.8,297.5 L295.7,306.0 L296.6,297.2 L297.5,307.1 L298.4,297.4 L299.3,308.1 L300.2,298.7 L301.1,310.2 L302.0,297.9 L302.9,308.6 L303.8,299.9 L304.7,309.9 L305.6,299.5 L306.5,308.9 L307.4,301.8 L308.3,308.7 L309.2,302.1 L310.1,305.8 L311.0,301.9" fill="none" stroke="#c27a4a" stroke-width="1.50" stroke-linejoin="round" stroke-linecap="round" />
<text x="47.0" y="335.8" font-size="10.60" fill="#111" font-weight="bold" text-anchor="start" >IS</text>
<text x="73.5" y="348.0" font-size="10.60" fill="#111" font-weight="bold" text-anchor="start" >O-O bond elongation for 4e<tspan dy="-4" font-size="7.5">-</tspan><tspan dy="4"> pathway</tspan></text>
<text x="223.9" y="269.4" font-size="11.00" fill="#f01010" font-weight="bold" text-anchor="start" >TS</text>
<text x="286.0" y="269.4" font-size="10.60" fill="#111" font-weight="bold" text-anchor="start" >FS</text>
<line x1="240.4" y1="265.4" x2="249" y2="268.8" stroke="#000" stroke-width="1.1"/>
<path d="M253,270.4 L247.5,270.8 L249.3,266.4 Z" fill="#000"/>
<path d="M38.8,450.6 L39.5,450.7 L40.3,450.9 L41.3,451.2 L42.4,451.3 L43.6,451.3 L44.9,451.4 L46.3,451.9 L47.7,452.2 L48.6,452.5 L49.6,452.6 L50.6,452.7 L51.7,452.7 L52.8,452.9 L54.0,453.3 L55.1,453.7 L56.3,453.9 L57.4,454.3 L58.5,454.6 L59.6,454.5 L60.6,454.5 L61.5,454.5 L62.7,454.6 L63.9,454.9 L65.0,454.9 L66.0,454.6 L67.0,454.6 L68.0,454.4 L69.0,454.2 L70.0,454.3 L71.0,454.1 L72.1,453.9 L73.2,453.8 L74.2,453.5 L75.3,453.5 L76.4,453.4 L77.5,453.4 L78.5,453.2 L79.5,453.2 L80.5,453.0 L81.6,452.7 L82.7,452.4 L83.7,452.1 L84.6,451.9 L85.6,451.6 L86.7,451.4 L87.9,451.2 L88.8,451.0 L89.8,451.0 L90.8,451.1 L91.8,450.9 L92.9,450.9 L94.0,450.7 L95.1,450.5 L96.2,450.2 L97.3,450.2 L98.5,450.1 L99.5,449.9 L100.5,449.5 L101.5,449.0 L102.6,448.3 L103.6,447.8 L104.7,447.1 L105.8,446.6 L106.9,446.0 L108.0,445.6 L109.1,445.0 L110.1,444.7 L111.2,444.4 L112.3,444.1 L113.3,443.5 L114.4,442.9 L115.4,442.5 L116.5,442.3 L117.6,442.1 L118.6,441.7 L119.7,441.4 L120.7,441.0 L121.8,440.5 L122.8,440.3 L123.9,440.0 L125.0,440.0 L126.0,439.5 L127.1,439.0 L128.1,438.8 L129.2,438.5 L130.2,438.2 L131.3,437.8 L132.4,437.6 L133.4,437.3 L134.5,437.0 L135.5,436.7 L136.6,436.1 L137.7,435.6 L138.7,435.2 L139.8,434.9 L140.8,434.4 L141.9,434.2 L142.9,433.8 L144.0,433.6 L145.1,432.9 L146.1,432.6 L147.2,432.2 L148.2,432.0 L149.3,431.7 L150.4,431.4 L151.5,431.0 L152.6,430.6 L153.7,430.3 L154.8,430.1 L155.9,430.0 L157.0,429.6 L158.1,429.4 L159.2,429.3 L160.2,428.8 L161.1,428.9 L162.0,428.6 L163.2,428.6 L164.2,428.5 L165.1,428.3 L166.0,428.3 L166.8,428.3 L167.8,428.4 L168.8,428.2 L170.0,427.9 L170.8,427.6 L171.7,427.3 L172.7,427.1 L173.7,426.8 L174.7,426.5 L175.7,426.0 L176.8,425.8 L177.8,425.5 L178.9,425.0 L180.0,424.6 L181.0,423.9 L182.1,423.8 L183.1,423.6 L184.1,423.4 L185.1,422.7 L186.1,422.3 L187.0,421.8 L188.0,421.5 L188.9,420.8 L189.9,420.4 L190.9,419.9 L191.9,419.5 L193.0,419.1 L194.0,418.5 L195.1,418.3 L196.3,417.9 L197.2,417.6 L198.2,417.4 L199.2,417.2 L200.3,416.9 L201.3,416.5 L202.4,416.4 L203.5,416.0 L204.6,415.6 L205.7,415.4 L206.8,415.1 L207.9,414.7 L209.0,414.7 L210.0,414.5 L211.1,414.2 L212.0,414.1 L212.9,414.0 L213.8,413.7 L215.1,413.1 L216.3,413.3 L217.3,413.3 L218.3,413.3 L219.2,413.3 L220.2,413.3 L221.1,413.0 L222.2,413.1 L223.4,413.1 L224.7,412.8 L225.6,412.8 L226.5,412.7 L227.4,412.7 L228.4,412.4 L229.5,412.0 L230.5,411.8 L231.6,411.8 L232.7,411.7 L233.8,411.9 L234.9,411.8 L236.0,411.4 L237.1,411.4 L238.2,411.2 L239.2,410.9 L240.3,410.9 L241.3,410.9 L242.3,410.9 L243.4,410.9 L244.5,410.8 L245.6,410.8 L246.8,410.6 L247.9,410.7 L249.0,410.5 L250.1,410.5 L251.2,410.5 L252.2,410.5 L253.2,410.3 L254.2,410.1 L255.1,410.1 L256.0,409.8 L256.8,410.0 L257.6,410.0 L259.1,409.9 L260.1,409.5 L260.9,409.1 L261.7,408.5 L262.7,408.2 L264.2,407.9 L265.0,407.9 L265.8,407.9 L266.7,408.1 L267.7,408.1 L268.7,407.9 L269.8,407.7 L270.9,407.7 L272.0,407.5 L273.1,407.6 L274.2,407.6 L275.4,407.7 L276.4,407.8 L277.5,407.7 L278.5,407.7 L279.5,407.5 L280.6,407.6 L281.6,407.7 L282.7,407.8 L283.7,408.0 L284.7,408.1 L285.7,408.1 L286.7,408.0 L287.7,408.2 L288.6,408.5 L289.6,408.5 L290.6,408.5 L291.6,408.6 L292.6,408.7 L293.6,408.7 L294.8,408.5 L295.9,408.5 L297.1,408.4 L298.3,408.0 L299.4,407.7 L300.6,407.7 L301.7,407.6 L302.7,407.3 L303.7,407.3 L304.5,407.4 L305.2,407.5 L305.8,407.4" fill="none" stroke="#1a8ad0" stroke-width="1.80" stroke-linejoin="round" stroke-linecap="round" />
<path d="M38.8,450.6 L39.1,449.3 L39.5,447.4 L40.0,445.2 L40.6,442.7 L41.2,440.2 L41.8,437.8 L42.4,435.7 L43.0,434.0 L43.5,433.0 L44.1,432.6 L44.6,432.7 L45.2,433.4 L45.7,434.3 L46.2,435.4 L46.7,436.5 L47.2,437.5 L47.7,438.3 L48.3,439.3 L48.8,440.4 L49.3,441.6 L49.8,442.5 L50.3,442.9 L50.9,442.6 L51.4,441.7 L51.9,440.1 L52.5,438.2 L53.1,436.0 L53.6,433.9 L54.2,432.0 L54.7,430.6 L55.1,429.9 L55.7,430.8 L56.2,433.6 L56.6,436.7 L57.2,438.3 L57.7,438.4 L58.2,438.2 L58.7,437.6 L59.3,436.5 L59.9,435.0 L60.4,433.0 L60.9,429.8 L61.4,425.2 L61.9,420.1 L62.5,415.5 L63.0,412.1 L63.6,410.8 L64.1,411.8 L64.6,414.4 L65.1,418.1 L65.6,422.3 L66.1,426.5 L66.6,430.3 L67.2,433.0 L67.8,434.1 L68.3,433.7 L68.8,432.2 L69.3,430.0 L69.9,427.3 L70.4,424.3 L71.0,421.3 L71.6,418.5 L72.1,416.2 L72.6,414.6 L73.1,414.0 L73.7,414.8 L74.2,417.1 L74.7,420.4 L75.2,424.1 L75.7,427.7 L76.2,430.8 L76.8,432.7 L77.3,433.0 L77.8,431.6 L78.3,428.8 L78.7,424.9 L79.2,420.5 L79.7,415.9 L80.2,411.5 L80.8,407.6 L81.4,404.8 L82.0,403.4 L82.4,403.3 L82.9,403.8 L83.4,404.7 L83.9,406.1 L84.5,407.7 L85.0,409.5 L85.6,411.5 L86.1,413.6 L86.7,415.6 L87.2,417.5 L87.7,419.2 L88.2,420.6 L88.6,421.7 L89.0,422.4 L89.8,422.5 L90.4,421.3 L90.8,419.4 L91.3,417.3 L91.7,415.7 L92.2,415.0 L92.7,415.7 L93.2,417.3 L93.7,419.4 L94.2,421.3 L94.7,422.5 L95.3,422.4 L95.8,421.1 L96.3,418.9 L96.9,416.1 L97.4,413.0 L98.0,409.9 L98.6,407.1 L99.1,404.8 L99.6,403.4 L100.2,403.1 L100.8,404.0 L101.3,405.5 L101.8,407.2 L102.2,408.5 L102.7,408.7 L103.3,406.7 L103.8,403.3 L104.3,399.9 L104.9,398.1 L105.4,398.4 L105.9,399.5 L106.5,401.2 L107.0,403.0 L107.5,404.5 L108.0,405.5 L108.5,405.5 L109.0,404.7 L109.4,404.0 L110.1,404.5 L110.5,405.5 L111.0,407.0 L111.6,408.8 L112.2,410.7 L112.8,412.7 L113.4,414.5 L113.9,416.1 L114.4,417.2 L115.0,418.2 L115.6,418.8 L116.1,419.1 L116.6,419.1 L117.1,418.8 L117.6,418.2 L118.1,417.0 L118.6,415.0 L119.2,412.7 L119.7,410.6 L120.2,409.1 L120.7,408.7 L121.2,409.9 L121.7,412.5 L122.2,415.7 L122.8,418.8 L123.3,420.9 L123.9,421.4 L124.4,420.2 L124.8,417.7 L125.3,414.4 L125.8,410.8 L126.3,407.2 L126.9,404.1 L127.5,402.0 L128.1,401.3 L128.6,401.8 L129.1,403.1 L129.6,404.9 L130.2,407.3 L130.7,409.9 L131.3,412.6 L131.9,415.3 L132.4,417.9 L133.0,420.2 L133.5,421.9 L134.0,423.1 L134.5,423.5 L135.1,422.5 L135.7,419.9 L136.3,416.3 L136.8,412.2 L137.3,408.0 L137.8,404.3 L138.2,401.5 L138.7,400.2 L139.3,401.1 L139.7,404.2 L140.2,408.4 L140.6,412.7 L141.2,416.0 L141.9,417.2 L142.3,416.7 L142.8,415.5 L143.3,413.8 L143.8,411.7 L144.4,409.3 L145.0,406.9 L145.6,404.4 L146.1,402.2 L146.7,400.3 L147.3,398.9 L147.8,398.1 L148.3,398.1 L148.9,399.3 L149.4,401.6 L150.0,404.8 L150.6,408.6 L151.1,412.6 L151.6,416.7 L152.1,420.5 L152.6,423.8 L153.1,426.3 L153.5,427.7 L154.2,427.5 L154.8,425.1 L155.3,421.4 L155.8,417.5 L156.3,414.3 L156.7,412.9 L157.3,414.3 L157.7,418.0 L158.2,422.0 L158.8,424.6 L159.3,425.2 L159.7,425.4 L160.2,425.2 L160.8,424.6 L161.4,423.7 L162.0,422.4 L162.5,421.1 L163.0,419.4 L163.5,417.3 L164.0,415.1 L164.6,412.8 L165.1,410.8 L165.7,409.1 L166.2,408.0 L166.7,407.6 L167.3,408.4 L167.9,410.5 L168.5,413.3 L169.1,416.5 L169.6,419.3 L170.1,421.5 L170.5,422.4 L171.2,419.4 L171.6,413.2 L172.2,409.3 L172.7,409.4 L173.2,410.6 L173.8,412.3 L174.4,414.1 L175.0,415.4 L175.5,415.8 L176.1,414.6 L176.6,412.2 L177.2,409.4 L177.7,407.1 L178.3,406.0 L178.8,406.5 L179.3,407.9 L179.8,409.8 L180.3,411.7 L180.8,413.1 L181.4,413.6 L181.9,413.0 L182.5,411.6 L183.1,409.9 L183.7,407.9 L184.2,406.0 L184.8,404.6 L185.3,403.8 L185.9,403.9 L186.5,405.0 L187.0,406.5 L187.5,407.9 L188.0,408.6 L188.6,408.3 L189.1,407.4 L189.7,406.4 L190.2,405.8 L190.8,406.0 L191.4,407.6 L191.9,410.1 L192.5,413.0 L193.0,415.5 L193.6,417.0 L194.1,417.2 L194.6,416.6 L195.1,415.6 L195.6,414.6 L196.2,413.8 L196.7,413.6 L197.2,414.0 L197.7,414.8 L198.2,415.8 L198.7,416.9 L199.3,417.9 L199.7,418.7 L200.2,419.1 L200.7,419.1 L201.2,418.6 L201.6,417.8 L202.1,416.8 L202.8,415.8 L203.2,415.3 L203.7,414.6 L204.2,413.9 L204.7,413.1 L205.3,412.3 L205.9,411.6 L206.4,410.8 L207.0,410.2 L207.5,409.7 L207.9,409.4 L208.3,409.3 L209.1,410.4 L209.5,412.8 L210.0,415.1 L210.5,415.8 L211.0,414.7 L211.5,412.5 L212.1,409.9 L212.7,407.3 L213.2,405.5 L213.8,404.9 L214.4,406.0 L214.9,408.4 L215.5,411.4 L216.0,414.6 L216.6,417.4 L217.1,419.1 L217.7,419.6 L218.2,419.2 L218.8,418.3 L219.3,417.4 L219.9,416.9 L220.4,417.0 L220.9,418.0 L221.5,419.4 L222.0,421.2 L222.5,423.2 L223.0,425.1 L223.6,426.8 L224.1,428.3 L224.7,430.0 L225.2,431.8 L225.8,433.4 L226.4,434.7 L226.9,435.5 L227.4,435.5 L228.0,433.8 L228.6,430.4 L229.1,426.5 L229.6,423.1 L230.2,421.3 L230.8,421.9 L231.4,424.1 L232.0,426.9 L232.5,429.1 L233.1,429.6 L233.6,427.6 L234.2,423.7 L234.7,419.4 L235.2,415.9 L235.7,414.7 L236.2,416.8 L236.8,421.3 L237.3,426.7 L237.9,431.2 L238.5,433.4 L239.0,432.7 L239.6,430.3 L240.2,427.0 L240.7,423.5 L241.3,420.7 L241.8,419.1 L242.4,419.1 L242.9,420.3 L243.3,422.2 L243.8,424.2 L244.4,425.7 L244.9,426.9 L245.4,428.4 L245.9,429.8 L246.4,430.9 L247.0,431.1 L247.7,430.1 L248.1,428.8 L248.6,426.7 L249.1,424.2 L249.6,421.2 L250.1,418.1 L250.7,415.0 L251.2,412.1 L251.7,409.5 L252.2,407.4 L252.7,406.0 L253.2,405.5 L253.8,406.6 L254.4,409.5 L254.9,413.6 L255.4,418.2 L255.9,422.8 L256.4,426.6 L257.0,429.1 L257.6,429.6 L258.1,428.3 L258.5,425.7 L259.1,422.0 L259.6,417.7 L260.1,412.9 L260.6,408.1 L261.1,403.5 L261.7,399.5 L262.2,396.4 L262.6,394.4 L263.1,393.9 L263.7,396.0 L264.2,400.9 L264.7,407.6 L265.2,415.2 L265.8,422.9 L266.3,429.8 L266.8,435.0 L267.4,437.7 L267.9,437.7 L268.3,436.4 L268.8,433.9 L269.3,430.8 L269.8,427.1 L270.3,423.2 L270.8,419.5 L271.4,416.1 L271.9,413.5 L272.4,411.8 L272.9,411.5 L273.4,412.7 L273.9,415.2 L274.4,418.9 L274.9,423.2 L275.4,427.9 L275.9,432.7 L276.4,437.2 L276.9,441.2 L277.4,444.3 L277.9,446.2 L278.4,446.5 L278.9,444.7 L279.4,440.9 L279.9,435.6 L280.4,429.4 L280.9,422.6 L281.4,415.9 L281.9,409.7 L282.4,404.5 L282.9,400.9 L283.4,399.4 L283.9,400.5 L284.5,403.9 L285.0,409.1 L285.6,415.4 L286.1,422.1 L286.6,428.6 L287.2,434.1 L287.7,438.1 L288.2,439.9 L288.8,438.9 L289.3,435.4 L289.8,430.3 L290.4,424.3 L290.9,418.2 L291.5,412.8 L292.0,408.8 L292.6,407.1 L293.1,407.6 L293.6,409.5 L294.1,412.5 L294.7,416.1 L295.2,420.2 L295.7,424.3 L296.3,428.1 L296.8,431.3 L297.2,433.5 L297.7,434.5 L298.3,433.5 L298.9,430.4 L299.4,425.9 L299.9,421.0 L300.4,416.4 L300.9,413.0 L301.4,411.5 L302.0,412.2 L302.6,414.6 L303.2,418.0 L303.8,421.9 L304.3,425.8 L304.8,429.0 L305.1,431.2" fill="none" stroke="#c27a4a" stroke-width="1.70" stroke-linejoin="round" stroke-linecap="round" />
<text x="71.0" y="375.9" font-size="10.60" fill="#8e4545" font-weight="bold" text-anchor="start" >Ni-O bond elongation for 2e<tspan dy="-4" font-size="7.5">-</tspan><tspan dy="4"> pathway</tspan></text>
<text x="268.0" y="385.2" font-size="11.00" fill="#f01010" font-weight="bold" text-anchor="start" >TS</text>
<text x="294.8" y="401.6" font-size="10.60" fill="#111" font-weight="bold" text-anchor="start" >FS</text>
<line x1="274" y1="387.6" x2="268.7" y2="400.5" stroke="#000" stroke-width="1.1"/>
<path d="M267,405 L265.8,399.2 L270.6,400.8 Z" fill="#000"/>
<text x="348.6" y="268.7" font-size="15.50" fill="#000" font-weight="bold" text-anchor="start" >d</text>
<path d="M381.3,368.1 H671.8 V363 L684.5,374.8 L671.8,386.5 V381.5 H381.3 Z" fill="url(#bar)"/>
<text x="406.7" y="379.4" font-size="11.10" fill="#1a1a1a" font-weight="normal" text-anchor="start" >IS</text>
<text x="527.2" y="380.1" font-size="12.20" fill="#ff0a0a" font-weight="bold" text-anchor="start" >TS</text>
<text x="643.5" y="379.4" font-size="11.10" fill="#1a1a1a" font-weight="normal" text-anchor="start" >FS</text>
<text x="408.0" y="358.8" font-size="11.40" fill="#111" font-weight="normal" text-anchor="start" >O-O&#160; 1.47 &#197;</text>
<text x="516.0" y="358.8" font-size="11.40" fill="#111" font-weight="normal" text-anchor="start" >O-O 2.35 &#197;</text>
<text x="625.3" y="358.8" font-size="11.40" fill="#111" font-weight="normal" text-anchor="start" >O-O 2.47 &#197;</text>
<text x="401.5" y="499.2" font-size="11.40" fill="#111" font-weight="normal" text-anchor="start" >Ni-O&#160; 1.88 &#197;</text>
<text x="517.6" y="499.2" font-size="11.40" fill="#111" font-weight="normal" text-anchor="start" >Ni-O 2.79 &#197;</text>
<text x="616.7" y="499.2" font-size="11.40" fill="#111" font-weight="normal" text-anchor="start" >Ni-O 2.88 &#197;</text>
<path d="M463.3,288.3 L469.4,288.3 L476.2,294.6 L469.4,300.8 L463.3,300.8 L470.1,294.6 Z" fill="#8fb0e2" stroke="#e07428" stroke-width="1.1" stroke-linejoin="miter"/><path d="M471.4,288.3 L477.5,288.3 L484.3,294.6 L477.5,300.8 L471.4,300.8 L478.2,294.6 Z" fill="#8fb0e2" stroke="#e07428" stroke-width="1.1" stroke-linejoin="miter"/>
<path d="M580.3,285.3 L586.5,285.3 L593.5,291.8 L586.5,298.3 L580.3,298.3 L587.3,291.8 Z" fill="#8fb0e2" stroke="#e07428" stroke-width="1.1" stroke-linejoin="miter"/><path d="M588.6,285.3 L594.8,285.3 L601.8,291.8 L594.8,298.3 L588.6,298.3 L595.6,291.8 Z" fill="#8fb0e2" stroke="#e07428" stroke-width="1.1" stroke-linejoin="miter"/>
<path d="M466.6,420.2 L472.7,420.2 L479.6,426.8 L472.7,433.3 L466.6,433.3 L473.5,426.8 Z" fill="#8fb0e2" stroke="#e07428" stroke-width="1.1" stroke-linejoin="miter"/><path d="M474.8,420.2 L480.9,420.2 L487.8,426.8 L480.9,433.3 L474.8,433.3 L481.7,426.8 Z" fill="#8fb0e2" stroke="#e07428" stroke-width="1.1" stroke-linejoin="miter"/>
<path d="M581.6,418.6 L587.7,418.6 L594.6,425.2 L587.7,431.8 L581.6,431.8 L588.5,425.2 Z" fill="#8fb0e2" stroke="#e07428" stroke-width="1.1" stroke-linejoin="miter"/><path d="M589.8,418.6 L595.9,418.6 L602.8,425.2 L595.9,431.8 L589.8,431.8 L596.7,425.2 Z" fill="#8fb0e2" stroke="#e07428" stroke-width="1.1" stroke-linejoin="miter"/>
<line x1="432.6" y1="292.3" x2="434.4" y2="305.8" stroke="#bcbcbc" stroke-width="0.75" stroke-dasharray="1.2,1.2"/><line x1="424.5" y1="268.0" x2="435.3" y2="266.6" stroke="#bcbcbc" stroke-width="0.75" stroke-dasharray="1.2,1.2"/><line x1="440.7" y1="297.7" x2="434.4" y2="305.8" stroke="#bcbcbc" stroke-width="0.75" stroke-dasharray="1.2,1.2"/><line x1="424.5" y1="268.0" x2="437.1" y2="276.6" stroke="#bcbcbc" stroke-width="0.75" stroke-dasharray="1.2,1.2"/><line x1="435.3" y1="266.6" x2="420.0" y2="273.0" stroke="#bcbcbc" stroke-width="0.75" stroke-dasharray="1.2,1.2"/><line x1="409.2" y1="290.5" x2="416.0" y2="289.2" stroke="#bcbcbc" stroke-width="0.75" stroke-dasharray="1.2,1.2"/><line x1="440.7" y1="310.3" x2="435.3" y2="314.8" stroke="#bcbcbc" stroke-width="0.75" stroke-dasharray="1.2,1.2"/><line x1="421.4" y1="288.2" x2="432.6" y2="292.3" stroke="#bcbcbc" stroke-width="0.75" stroke-dasharray="1.2,1.2"/><line x1="415.5" y1="255.4" x2="406.5" y2="267.6" stroke="#bcbcbc" stroke-width="0.75" stroke-dasharray="1.2,1.2"/><line x1="387.6" y1="279.7" x2="400.2" y2="279.7" stroke="#bcbcbc" stroke-width="0.75" stroke-dasharray="1.2,1.2"/><line x1="400.2" y1="279.7" x2="396.6" y2="288.7" stroke="#bcbcbc" stroke-width="0.75" stroke-dasharray="1.2,1.2"/><line x1="453.3" y1="287.8" x2="440.7" y2="297.7" stroke="#bcbcbc" stroke-width="0.75" stroke-dasharray="1.2,1.2"/><line x1="406.5" y1="267.6" x2="395.7" y2="277.0" stroke="#bcbcbc" stroke-width="0.75" stroke-dasharray="1.2,1.2"/><line x1="451.5" y1="301.3" x2="440.7" y2="310.3" stroke="#bcbcbc" stroke-width="0.75" stroke-dasharray="1.2,1.2"/><line x1="447.0" y1="283.3" x2="440.7" y2="297.7" stroke="#bcbcbc" stroke-width="0.75" stroke-dasharray="1.2,1.2"/><line x1="416.0" y1="289.2" x2="421.4" y2="288.2" stroke="#bcbcbc" stroke-width="0.75" stroke-dasharray="1.2,1.2"/><line x1="437.1" y1="276.6" x2="447.0" y2="283.3" stroke="#bcbcbc" stroke-width="0.75" stroke-dasharray="1.2,1.2"/><line x1="429.9" y1="292.3" x2="434.4" y2="305.8" stroke="#bcbcbc" stroke-width="0.75" stroke-dasharray="1.2,1.2"/><line x1="440.7" y1="297.7" x2="451.5" y2="301.3" stroke="#bcbcbc" stroke-width="0.75" stroke-dasharray="1.2,1.2"/><line x1="424.5" y1="268.0" x2="420.0" y2="273.0" stroke="#bcbcbc" stroke-width="0.75" stroke-dasharray="1.2,1.2"/><line x1="434.4" y1="305.8" x2="435.3" y2="314.8" stroke="#bcbcbc" stroke-width="0.75" stroke-dasharray="1.2,1.2"/><line x1="395.7" y1="277.0" x2="400.2" y2="279.7" stroke="#bcbcbc" stroke-width="0.75" stroke-dasharray="1.2,1.2"/><line x1="421.4" y1="288.2" x2="429.9" y2="292.3" stroke="#bcbcbc" stroke-width="0.75" stroke-dasharray="1.2,1.2"/><line x1="383.1" y1="268.0" x2="395.7" y2="277.0" stroke="#bcbcbc" stroke-width="0.75" stroke-dasharray="1.2,1.2"/><line x1="383.1" y1="268.0" x2="387.6" y2="279.7" stroke="#bcbcbc" stroke-width="0.75" stroke-dasharray="1.2,1.2"/><line x1="447.0" y1="283.3" x2="453.3" y2="287.8" stroke="#bcbcbc" stroke-width="0.75" stroke-dasharray="1.2,1.2"/><line x1="440.7" y1="297.7" x2="440.7" y2="310.3" stroke="#bcbcbc" stroke-width="0.75" stroke-dasharray="1.2,1.2"/><line x1="435.3" y1="266.6" x2="437.1" y2="276.6" stroke="#bcbcbc" stroke-width="0.75" stroke-dasharray="1.2,1.2"/><line x1="409.2" y1="290.5" x2="421.4" y2="288.2" stroke="#bcbcbc" stroke-width="0.75" stroke-dasharray="1.2,1.2"/><line x1="434.4" y1="305.8" x2="440.7" y2="310.3" stroke="#bcbcbc" stroke-width="0.75" stroke-dasharray="1.2,1.2"/><line x1="395.7" y1="277.0" x2="396.6" y2="288.7" stroke="#bcbcbc" stroke-width="0.75" stroke-dasharray="1.2,1.2"/><line x1="395.7" y1="277.0" x2="387.6" y2="279.7" stroke="#bcbcbc" stroke-width="0.75" stroke-dasharray="1.2,1.2"/><line x1="415.5" y1="255.4" x2="424.5" y2="268.0" stroke="#bcbcbc" stroke-width="0.75" stroke-dasharray="1.2,1.2"/><line x1="453.3" y1="287.8" x2="451.5" y2="301.3" stroke="#bcbcbc" stroke-width="0.75" stroke-dasharray="1.2,1.2"/><line x1="396.6" y1="288.7" x2="409.2" y2="290.5" stroke="#bcbcbc" stroke-width="0.75" stroke-dasharray="1.2,1.2"/><line x1="406.5" y1="267.6" x2="400.2" y2="279.7" stroke="#bcbcbc" stroke-width="0.75" stroke-dasharray="1.2,1.2"/><line x1="406.5" y1="267.6" x2="420.0" y2="273.0" stroke="#bcbcbc" stroke-width="0.75" stroke-dasharray="1.2,1.2"/><line x1="416.0" y1="289.2" x2="429.9" y2="292.3" stroke="#bcbcbc" stroke-width="0.75" stroke-dasharray="1.2,1.2"/><line x1="429.9" y1="292.3" x2="440.7" y2="297.7" stroke="#bcbcbc" stroke-width="0.75" stroke-dasharray="1.2,1.2"/><line x1="435.8" y1="324.7" x2="435.3" y2="314.8" stroke="#c0c0c0" stroke-width="1.3"/><line x1="399.3" y1="305.8" x2="426.3" y2="313.0" stroke="#e0ccc4" stroke-width="3.0" stroke-linecap="round"/><circle cx="399.9" cy="305.1" r="1.0" fill="url(#gH)" /><circle cx="403.0" cy="306.0" r="1.6" fill="url(#gN)" /><circle cx="406.1" cy="306.8" r="1.5" fill="url(#gC)" /><circle cx="409.2" cy="307.6" r="1.6" fill="url(#gC)" /><circle cx="412.3" cy="308.4" r="1.9" fill="url(#gNi)" /><circle cx="415.4" cy="309.3" r="1.6" fill="url(#gC)" /><circle cx="418.5" cy="310.1" r="1.5" fill="url(#gC)" /><circle cx="421.6" cy="310.9" r="1.6" fill="url(#gN)" /><circle cx="424.8" cy="311.8" r="1.0" fill="url(#gH)" /><circle cx="400.8" cy="307.0" r="1.0" fill="url(#gH)" /><circle cx="404.0" cy="307.9" r="1.6" fill="url(#gN)" /><circle cx="407.1" cy="308.7" r="1.5" fill="url(#gC)" /><circle cx="410.2" cy="309.5" r="1.6" fill="url(#gC)" /><circle cx="413.3" cy="310.4" r="1.9" fill="url(#gNi)" /><circle cx="416.4" cy="311.2" r="1.6" fill="url(#gC)" /><circle cx="419.5" cy="312.0" r="1.5" fill="url(#gC)" /><circle cx="422.6" cy="312.8" r="1.6" fill="url(#gN)" /><circle cx="425.7" cy="313.7" r="1.0" fill="url(#gH)" /><line x1="421.8" y1="324.7" x2="449.7" y2="324.7" stroke="#e0ccc4" stroke-width="3.0" stroke-linecap="round"/><circle cx="422.2" cy="323.9" r="1.0" fill="url(#gH)" /><circle cx="425.4" cy="323.9" r="1.6" fill="url(#gN)" /><circle cx="428.6" cy="323.9" r="1.5" fill="url(#gC)" /><circle cx="431.8" cy="323.9" r="1.6" fill="url(#gC)" /><circle cx="435.1" cy="323.9" r="1.9" fill="url(#gNi)" /><circle cx="438.3" cy="323.9" r="1.6" fill="url(#gC)" /><circle cx="441.5" cy="323.9" r="1.5" fill="url(#gC)" /><circle cx="444.7" cy="323.9" r="1.6" fill="url(#gN)" /><circle cx="447.9" cy="323.9" r="1.0" fill="url(#gH)" /><circle cx="423.6" cy="325.5" r="1.0" fill="url(#gH)" /><circle cx="426.8" cy="325.5" r="1.6" fill="url(#gN)" /><circle cx="430.0" cy="325.5" r="1.5" fill="url(#gC)" /><circle cx="433.2" cy="325.5" r="1.6" fill="url(#gC)" /><circle cx="436.4" cy="325.5" r="1.9" fill="url(#gNi)" /><circle cx="439.7" cy="325.5" r="1.6" fill="url(#gC)" /><circle cx="442.9" cy="325.5" r="1.5" fill="url(#gC)" /><circle cx="446.1" cy="325.5" r="1.6" fill="url(#gN)" /><circle cx="449.3" cy="325.5" r="1.0" fill="url(#gH)" /><line x1="435.8" y1="324.7" x2="435.1" y2="329.2" stroke="#c8c8c8" stroke-width="1.2"/><line x1="435.1" y1="329.2" x2="434.4" y2="333.7" stroke="#d84040" stroke-width="1.2"/><line x1="415.5" y1="255.4" x2="413.8" y2="257.7" stroke="#ecd0d0" stroke-width="1.4"/><circle cx="413.8" cy="257.7" r="1.3" fill="#f8eaea" stroke="#d8a4a4" stroke-width="0.45"/><line x1="415.5" y1="255.4" x2="416.8" y2="258.0" stroke="#ecd0d0" stroke-width="1.4"/><circle cx="416.8" cy="258.0" r="1.3" fill="#f8eaea" stroke="#d8a4a4" stroke-width="0.45"/><circle cx="415.5" cy="255.4" r="1.75" fill="url(#gO2)"/><line x1="383.1" y1="268.0" x2="384.1" y2="270.7" stroke="#ecd0d0" stroke-width="1.4"/><circle cx="384.1" cy="270.7" r="1.3" fill="#f8eaea" stroke="#d8a4a4" stroke-width="0.45"/><line x1="383.1" y1="268.0" x2="380.2" y2="268.2" stroke="#ecd0d0" stroke-width="1.4"/><circle cx="380.2" cy="268.2" r="1.3" fill="#f8eaea" stroke="#d8a4a4" stroke-width="0.45"/><circle cx="383.1" cy="268.0" r="1.75" fill="url(#gO2)"/><line x1="406.5" y1="267.6" x2="405.2" y2="270.2" stroke="#ecd0d0" stroke-width="1.4"/><circle cx="405.2" cy="270.2" r="1.3" fill="#f8eaea" stroke="#d8a4a4" stroke-width="0.45"/><line x1="406.5" y1="267.6" x2="404.4" y2="265.6" stroke="#ecd0d0" stroke-width="1.4"/><circle cx="404.4" cy="265.6" r="1.3" fill="#f8eaea" stroke="#d8a4a4" stroke-width="0.45"/><circle cx="406.5" cy="267.6" r="1.75" fill="url(#gO2)"/><line x1="424.5" y1="268.0" x2="423.1" y2="270.5" stroke="#ecd0d0" stroke-width="1.4"/><circle cx="423.1" cy="270.5" r="1.3" fill="#f8eaea" stroke="#d8a4a4" stroke-width="0.45"/><line x1="424.5" y1="268.0" x2="427.4" y2="267.9" stroke="#ecd0d0" stroke-width="1.4"/><circle cx="427.4" cy="267.9" r="1.3" fill="#f8eaea" stroke="#d8a4a4" stroke-width="0.45"/><circle cx="424.5" cy="268.0" r="1.75" fill="url(#gO2)"/><line x1="435.3" y1="266.6" x2="435.1" y2="269.5" stroke="#ecd0d0" stroke-width="1.4"/><circle cx="435.1" cy="269.5" r="1.3" fill="#f8eaea" stroke="#d8a4a4" stroke-width="0.45"/><line x1="435.3" y1="266.6" x2="432.4" y2="266.8" stroke="#ecd0d0" stroke-width="1.4"/><circle cx="432.4" cy="266.8" r="1.3" fill="#f8eaea" stroke="#d8a4a4" stroke-width="0.45"/><circle cx="435.3" cy="266.6" r="1.75" fill="url(#gO2)"/><line x1="395.7" y1="277.0" x2="398.3" y2="278.4" stroke="#ecd0d0" stroke-width="1.4"/><circle cx="398.3" cy="278.4" r="1.3" fill="#f8eaea" stroke="#d8a4a4" stroke-width="0.45"/><line x1="395.7" y1="277.0" x2="393.1" y2="278.4" stroke="#ecd0d0" stroke-width="1.4"/><circle cx="393.1" cy="278.4" r="1.3" fill="#f8eaea" stroke="#d8a4a4" stroke-width="0.45"/><circle cx="395.7" cy="277.0" r="1.75" fill="url(#gO2)"/><line x1="420.0" y1="273.0" x2="421.9" y2="270.8" stroke="#ecd0d0" stroke-width="1.4"/><circle cx="421.9" cy="270.8" r="1.3" fill="#f8eaea" stroke="#d8a4a4" stroke-width="0.45"/><line x1="420.0" y1="273.0" x2="417.6" y2="271.3" stroke="#ecd0d0" stroke-width="1.4"/><circle cx="417.6" cy="271.3" r="1.3" fill="#f8eaea" stroke="#d8a4a4" stroke-width="0.45"/><circle cx="420.0" cy="273.0" r="1.75" fill="url(#gO2)"/><line x1="437.1" y1="276.6" x2="437.0" y2="273.7" stroke="#ecd0d0" stroke-width="1.4"/><circle cx="437.0" cy="273.7" r="1.3" fill="#f8eaea" stroke="#d8a4a4" stroke-width="0.45"/><line x1="437.1" y1="276.6" x2="439.5" y2="278.3" stroke="#ecd0d0" stroke-width="1.4"/><circle cx="439.5" cy="278.3" r="1.3" fill="#f8eaea" stroke="#d8a4a4" stroke-width="0.45"/><circle cx="437.1" cy="276.6" r="1.75" fill="url(#gO2)"/><line x1="387.6" y1="279.7" x2="390.5" y2="279.3" stroke="#ecd0d0" stroke-width="1.4"/><circle cx="390.5" cy="279.3" r="1.3" fill="#f8eaea" stroke="#d8a4a4" stroke-width="0.45"/><line x1="387.6" y1="279.7" x2="386.2" y2="277.2" stroke="#ecd0d0" stroke-width="1.4"/><circle cx="386.2" cy="277.2" r="1.3" fill="#f8eaea" stroke="#d8a4a4" stroke-width="0.45"/><circle cx="387.6" cy="279.7" r="1.75" fill="url(#gO2)"/><line x1="400.2" y1="279.7" x2="397.7" y2="278.2" stroke="#ecd0d0" stroke-width="1.4"/><circle cx="397.7" cy="278.2" r="1.3" fill="#f8eaea" stroke="#d8a4a4" stroke-width="0.45"/><line x1="400.2" y1="279.7" x2="398.5" y2="282.1" stroke="#ecd0d0" stroke-width="1.4"/><circle cx="398.5" cy="282.1" r="1.3" fill="#f8eaea" stroke="#d8a4a4" stroke-width="0.45"/><circle cx="400.2" cy="279.7" r="1.75" fill="url(#gO2)"/><line x1="447.0" y1="283.3" x2="449.3" y2="285.1" stroke="#ecd0d0" stroke-width="1.4"/><circle cx="449.3" cy="285.1" r="1.3" fill="#f8eaea" stroke="#d8a4a4" stroke-width="0.45"/><line x1="447.0" y1="283.3" x2="444.6" y2="281.7" stroke="#ecd0d0" stroke-width="1.4"/><circle cx="444.6" cy="281.7" r="1.3" fill="#f8eaea" stroke="#d8a4a4" stroke-width="0.45"/><circle cx="447.0" cy="283.3" r="1.75" fill="url(#gO2)"/><line x1="396.6" y1="288.7" x2="397.4" y2="285.9" stroke="#ecd0d0" stroke-width="1.4"/><circle cx="397.4" cy="285.9" r="1.3" fill="#f8eaea" stroke="#d8a4a4" stroke-width="0.45"/><line x1="396.6" y1="288.7" x2="399.1" y2="290.2" stroke="#ecd0d0" stroke-width="1.4"/><circle cx="399.1" cy="290.2" r="1.3" fill="#f8eaea" stroke="#d8a4a4" stroke-width="0.45"/><circle cx="396.6" cy="288.7" r="1.75" fill="url(#gO2)"/><line x1="409.2" y1="290.5" x2="412.1" y2="290.6" stroke="#ecd0d0" stroke-width="1.4"/><circle cx="412.1" cy="290.6" r="1.3" fill="#f8eaea" stroke="#d8a4a4" stroke-width="0.45"/><line x1="409.2" y1="290.5" x2="408.3" y2="293.3" stroke="#ecd0d0" stroke-width="1.4"/><circle cx="408.3" cy="293.3" r="1.3" fill="#f8eaea" stroke="#d8a4a4" stroke-width="0.45"/><circle cx="409.2" cy="290.5" r="1.75" fill="url(#gO2)"/><line x1="416.0" y1="289.2" x2="418.9" y2="289.1" stroke="#ecd0d0" stroke-width="1.4"/><circle cx="418.9" cy="289.1" r="1.3" fill="#f8eaea" stroke="#d8a4a4" stroke-width="0.45"/><line x1="416.0" y1="289.2" x2="413.1" y2="289.3" stroke="#ecd0d0" stroke-width="1.4"/><circle cx="413.1" cy="289.3" r="1.3" fill="#f8eaea" stroke="#d8a4a4" stroke-width="0.45"/><circle cx="416.0" cy="289.2" r="1.75" fill="url(#gO2)"/><line x1="421.4" y1="288.2" x2="418.5" y2="288.2" stroke="#ecd0d0" stroke-width="1.4"/><circle cx="418.5" cy="288.2" r="1.3" fill="#f8eaea" stroke="#d8a4a4" stroke-width="0.45"/><line x1="421.4" y1="288.2" x2="423.8" y2="289.8" stroke="#ecd0d0" stroke-width="1.4"/><circle cx="423.8" cy="289.8" r="1.3" fill="#f8eaea" stroke="#d8a4a4" stroke-width="0.45"/><circle cx="421.4" cy="288.2" r="1.75" fill="url(#gO2)"/><line x1="429.9" y1="292.3" x2="427.5" y2="290.7" stroke="#ecd0d0" stroke-width="1.4"/><circle cx="427.5" cy="290.7" r="1.3" fill="#f8eaea" stroke="#d8a4a4" stroke-width="0.45"/><line x1="429.9" y1="292.3" x2="432.5" y2="293.6" stroke="#ecd0d0" stroke-width="1.4"/><circle cx="432.5" cy="293.6" r="1.3" fill="#f8eaea" stroke="#d8a4a4" stroke-width="0.45"/><circle cx="429.9" cy="292.3" r="1.75" fill="url(#gO2)"/><line x1="432.6" y1="292.3" x2="435.0" y2="294.0" stroke="#ecd0d0" stroke-width="1.4"/><circle cx="435.0" cy="294.0" r="1.3" fill="#f8eaea" stroke="#d8a4a4" stroke-width="0.45"/><line x1="432.6" y1="292.3" x2="429.8" y2="291.4" stroke="#ecd0d0" stroke-width="1.4"/><circle cx="429.8" cy="291.4" r="1.3" fill="#f8eaea" stroke="#d8a4a4" stroke-width="0.45"/><circle cx="432.6" cy="292.3" r="1.75" fill="url(#gO2)"/><line x1="453.3" y1="287.8" x2="450.6" y2="286.7" stroke="#ecd0d0" stroke-width="1.4"/><circle cx="450.6" cy="286.7" r="1.3" fill="#f8eaea" stroke="#d8a4a4" stroke-width="0.45"/><line x1="453.3" y1="287.8" x2="452.4" y2="290.6" stroke="#ecd0d0" stroke-width="1.4"/><circle cx="452.4" cy="290.6" r="1.3" fill="#f8eaea" stroke="#d8a4a4" stroke-width="0.45"/><circle cx="453.3" cy="287.8" r="1.75" fill="url(#gO2)"/><line x1="440.7" y1="297.7" x2="438.3" y2="296.0" stroke="#ecd0d0" stroke-width="1.4"/><circle cx="438.3" cy="296.0" r="1.3" fill="#f8eaea" stroke="#d8a4a4" stroke-width="0.45"/><line x1="440.7" y1="297.7" x2="439.3" y2="300.2" stroke="#ecd0d0" stroke-width="1.4"/><circle cx="439.3" cy="300.2" r="1.3" fill="#f8eaea" stroke="#d8a4a4" stroke-width="0.45"/><circle cx="440.7" cy="297.7" r="1.75" fill="url(#gO2)"/><line x1="451.5" y1="301.3" x2="448.8" y2="300.4" stroke="#ecd0d0" stroke-width="1.4"/><circle cx="448.8" cy="300.4" r="1.3" fill="#f8eaea" stroke="#d8a4a4" stroke-width="0.45"/><line x1="451.5" y1="301.3" x2="451.9" y2="298.4" stroke="#ecd0d0" stroke-width="1.4"/><circle cx="451.9" cy="298.4" r="1.3" fill="#f8eaea" stroke="#d8a4a4" stroke-width="0.45"/><circle cx="451.5" cy="301.3" r="1.75" fill="url(#gO2)"/><line x1="434.4" y1="305.8" x2="436.9" y2="307.3" stroke="#ecd0d0" stroke-width="1.4"/><circle cx="436.9" cy="307.3" r="1.3" fill="#f8eaea" stroke="#d8a4a4" stroke-width="0.45"/><line x1="434.4" y1="305.8" x2="432.3" y2="307.8" stroke="#ecd0d0" stroke-width="1.4"/><circle cx="432.3" cy="307.8" r="1.3" fill="#f8eaea" stroke="#d8a4a4" stroke-width="0.45"/><circle cx="434.4" cy="305.8" r="1.75" fill="url(#gO2)"/><line x1="440.7" y1="310.3" x2="438.4" y2="312.1" stroke="#ecd0d0" stroke-width="1.4"/><circle cx="438.4" cy="312.1" r="1.3" fill="#f8eaea" stroke="#d8a4a4" stroke-width="0.45"/><line x1="440.7" y1="310.3" x2="438.4" y2="308.5" stroke="#ecd0d0" stroke-width="1.4"/><circle cx="438.4" cy="308.5" r="1.3" fill="#f8eaea" stroke="#d8a4a4" stroke-width="0.45"/><circle cx="440.7" cy="310.3" r="1.75" fill="url(#gO2)"/><line x1="435.3" y1="314.8" x2="437.6" y2="313.1" stroke="#ecd0d0" stroke-width="1.4"/><circle cx="437.6" cy="313.1" r="1.3" fill="#f8eaea" stroke="#d8a4a4" stroke-width="0.45"/><line x1="435.3" y1="314.8" x2="435.0" y2="311.9" stroke="#ecd0d0" stroke-width="1.4"/><circle cx="435.0" cy="311.9" r="1.3" fill="#f8eaea" stroke="#d8a4a4" stroke-width="0.45"/><circle cx="435.3" cy="314.8" r="1.75" fill="url(#gO2)"/><line x1="434.4" y1="333.7" x2="437.3" y2="334.2" stroke="#ecd0d0" stroke-width="1.4"/><circle cx="437.3" cy="334.2" r="1.3" fill="#f8eaea" stroke="#d8a4a4" stroke-width="0.45"/><line x1="434.4" y1="333.7" x2="433.1" y2="336.3" stroke="#ecd0d0" stroke-width="1.4"/><circle cx="433.1" cy="336.3" r="1.3" fill="#f8eaea" stroke="#d8a4a4" stroke-width="0.45"/><circle cx="434.4" cy="333.7" r="1.75" fill="url(#gO2)"/>
<line x1="507.1" y1="267.1" x2="512.5" y2="281.5" stroke="#bcbcbc" stroke-width="0.75" stroke-dasharray="1.2,1.2"/><line x1="543.1" y1="255.4" x2="527.8" y2="258.1" stroke="#bcbcbc" stroke-width="0.75" stroke-dasharray="1.2,1.2"/><line x1="538.6" y1="281.5" x2="527.8" y2="285.6" stroke="#bcbcbc" stroke-width="0.75" stroke-dasharray="1.2,1.2"/><line x1="522.4" y1="272.0" x2="511.6" y2="283.3" stroke="#bcbcbc" stroke-width="0.75" stroke-dasharray="1.2,1.2"/><line x1="549.4" y1="290.5" x2="538.6" y2="294.6" stroke="#bcbcbc" stroke-width="0.75" stroke-dasharray="1.2,1.2"/><line x1="543.1" y1="255.4" x2="547.6" y2="268.4" stroke="#bcbcbc" stroke-width="0.75" stroke-dasharray="1.2,1.2"/><line x1="508.0" y1="264.4" x2="498.1" y2="268.4" stroke="#bcbcbc" stroke-width="0.75" stroke-dasharray="1.2,1.2"/><line x1="538.6" y1="294.6" x2="539.5" y2="299.5" stroke="#bcbcbc" stroke-width="0.75" stroke-dasharray="1.2,1.2"/><line x1="516.1" y1="253.2" x2="508.0" y2="264.4" stroke="#bcbcbc" stroke-width="0.75" stroke-dasharray="1.2,1.2"/><line x1="527.8" y1="265.3" x2="522.4" y2="272.0" stroke="#bcbcbc" stroke-width="0.75" stroke-dasharray="1.2,1.2"/><line x1="541.3" y1="268.0" x2="555.7" y2="275.2" stroke="#bcbcbc" stroke-width="0.75" stroke-dasharray="1.2,1.2"/><line x1="517.9" y1="256.8" x2="507.1" y2="267.1" stroke="#bcbcbc" stroke-width="0.75" stroke-dasharray="1.2,1.2"/><line x1="526.9" y1="281.5" x2="538.6" y2="281.5" stroke="#bcbcbc" stroke-width="0.75" stroke-dasharray="1.2,1.2"/><line x1="565.6" y1="268.9" x2="555.7" y2="275.2" stroke="#bcbcbc" stroke-width="0.75" stroke-dasharray="1.2,1.2"/><line x1="511.6" y1="283.3" x2="501.7" y2="287.3" stroke="#bcbcbc" stroke-width="0.75" stroke-dasharray="1.2,1.2"/><line x1="512.5" y1="281.5" x2="526.9" y2="281.5" stroke="#bcbcbc" stroke-width="0.75" stroke-dasharray="1.2,1.2"/><line x1="538.6" y1="281.5" x2="538.6" y2="294.6" stroke="#bcbcbc" stroke-width="0.75" stroke-dasharray="1.2,1.2"/><line x1="543.1" y1="255.4" x2="541.3" y2="268.0" stroke="#bcbcbc" stroke-width="0.75" stroke-dasharray="1.2,1.2"/><line x1="527.8" y1="258.1" x2="527.8" y2="265.3" stroke="#bcbcbc" stroke-width="0.75" stroke-dasharray="1.2,1.2"/><line x1="527.8" y1="285.6" x2="538.6" y2="294.6" stroke="#bcbcbc" stroke-width="0.75" stroke-dasharray="1.2,1.2"/><line x1="539.5" y1="299.5" x2="543.1" y2="308.5" stroke="#bcbcbc" stroke-width="0.75" stroke-dasharray="1.2,1.2"/><line x1="541.3" y1="268.0" x2="547.6" y2="268.4" stroke="#bcbcbc" stroke-width="0.75" stroke-dasharray="1.2,1.2"/><line x1="540.4" y1="253.2" x2="527.8" y2="258.1" stroke="#bcbcbc" stroke-width="0.75" stroke-dasharray="1.2,1.2"/><line x1="516.1" y1="253.2" x2="527.8" y2="258.1" stroke="#bcbcbc" stroke-width="0.75" stroke-dasharray="1.2,1.2"/><line x1="541.3" y1="268.0" x2="552.1" y2="273.4" stroke="#bcbcbc" stroke-width="0.75" stroke-dasharray="1.2,1.2"/><line x1="517.9" y1="256.8" x2="508.0" y2="264.4" stroke="#bcbcbc" stroke-width="0.75" stroke-dasharray="1.2,1.2"/><line x1="547.6" y1="268.4" x2="555.7" y2="275.2" stroke="#bcbcbc" stroke-width="0.75" stroke-dasharray="1.2,1.2"/><line x1="540.4" y1="253.2" x2="547.6" y2="268.4" stroke="#bcbcbc" stroke-width="0.75" stroke-dasharray="1.2,1.2"/><line x1="517.9" y1="256.8" x2="527.8" y2="265.3" stroke="#bcbcbc" stroke-width="0.75" stroke-dasharray="1.2,1.2"/><line x1="507.1" y1="267.1" x2="498.1" y2="268.4" stroke="#bcbcbc" stroke-width="0.75" stroke-dasharray="1.2,1.2"/><line x1="543.1" y1="308.5" x2="537.7" y2="318.0" stroke="#bcbcbc" stroke-width="0.75" stroke-dasharray="1.2,1.2"/><line x1="538.6" y1="281.5" x2="549.4" y2="290.5" stroke="#bcbcbc" stroke-width="0.75" stroke-dasharray="1.2,1.2"/><line x1="549.4" y1="290.5" x2="539.5" y2="299.5" stroke="#bcbcbc" stroke-width="0.75" stroke-dasharray="1.2,1.2"/><line x1="522.4" y1="272.0" x2="526.9" y2="281.5" stroke="#bcbcbc" stroke-width="0.75" stroke-dasharray="1.2,1.2"/><line x1="538.6" y1="294.6" x2="543.1" y2="308.5" stroke="#bcbcbc" stroke-width="0.75" stroke-dasharray="1.2,1.2"/><line x1="517.9" y1="256.8" x2="527.8" y2="258.1" stroke="#bcbcbc" stroke-width="0.75" stroke-dasharray="1.2,1.2"/><line x1="516.1" y1="253.2" x2="507.1" y2="267.1" stroke="#bcbcbc" stroke-width="0.75" stroke-dasharray="1.2,1.2"/><line x1="547.6" y1="268.4" x2="552.1" y2="273.4" stroke="#bcbcbc" stroke-width="0.75" stroke-dasharray="1.2,1.2"/><line x1="540.4" y1="253.2" x2="541.3" y2="268.0" stroke="#bcbcbc" stroke-width="0.75" stroke-dasharray="1.2,1.2"/><line x1="511.6" y1="283.3" x2="526.9" y2="281.5" stroke="#bcbcbc" stroke-width="0.75" stroke-dasharray="1.2,1.2"/><line x1="540.0" y1="327.4" x2="537.7" y2="318.0" stroke="#c0c0c0" stroke-width="1.3"/><line x1="506.2" y1="293.2" x2="532.3" y2="313.9" stroke="#e0ccc4" stroke-width="3.0" stroke-linecap="round"/><circle cx="507.1" cy="292.9" r="1.0" fill="url(#gH)" /><circle cx="510.1" cy="295.3" r="1.6" fill="url(#gN)" /><circle cx="513.1" cy="297.6" r="1.5" fill="url(#gC)" /><circle cx="516.1" cy="300.0" r="1.6" fill="url(#gC)" /><circle cx="519.1" cy="302.4" r="1.9" fill="url(#gNi)" /><circle cx="522.1" cy="304.8" r="1.6" fill="url(#gC)" /><circle cx="525.1" cy="307.2" r="1.5" fill="url(#gC)" /><circle cx="528.1" cy="309.5" r="1.6" fill="url(#gN)" /><circle cx="531.1" cy="311.9" r="1.0" fill="url(#gH)" /><circle cx="507.4" cy="295.2" r="1.0" fill="url(#gH)" /><circle cx="510.4" cy="297.6" r="1.6" fill="url(#gN)" /><circle cx="513.4" cy="299.9" r="1.5" fill="url(#gC)" /><circle cx="516.4" cy="302.3" r="1.6" fill="url(#gC)" /><circle cx="519.4" cy="304.7" r="1.9" fill="url(#gNi)" /><circle cx="522.4" cy="307.1" r="1.6" fill="url(#gC)" /><circle cx="525.4" cy="309.5" r="1.5" fill="url(#gC)" /><circle cx="528.4" cy="311.8" r="1.6" fill="url(#gN)" /><circle cx="531.4" cy="314.2" r="1.0" fill="url(#gH)" /><line x1="525.1" y1="328.3" x2="554.8" y2="326.5" stroke="#e0ccc4" stroke-width="3.0" stroke-linecap="round"/><circle cx="525.5" cy="327.5" r="1.0" fill="url(#gH)" /><circle cx="528.9" cy="327.3" r="1.6" fill="url(#gN)" /><circle cx="532.3" cy="327.1" r="1.5" fill="url(#gC)" /><circle cx="535.7" cy="326.9" r="1.6" fill="url(#gC)" /><circle cx="539.2" cy="326.6" r="1.9" fill="url(#gNi)" /><circle cx="542.6" cy="326.4" r="1.6" fill="url(#gC)" /><circle cx="546.0" cy="326.2" r="1.5" fill="url(#gC)" /><circle cx="549.4" cy="326.0" r="1.6" fill="url(#gN)" /><circle cx="552.8" cy="325.8" r="1.0" fill="url(#gH)" /><circle cx="527.1" cy="329.0" r="1.0" fill="url(#gH)" /><circle cx="530.5" cy="328.8" r="1.6" fill="url(#gN)" /><circle cx="533.9" cy="328.6" r="1.5" fill="url(#gC)" /><circle cx="537.3" cy="328.4" r="1.6" fill="url(#gC)" /><circle cx="540.7" cy="328.2" r="1.9" fill="url(#gNi)" /><circle cx="544.2" cy="327.9" r="1.6" fill="url(#gC)" /><circle cx="547.6" cy="327.7" r="1.5" fill="url(#gC)" /><circle cx="551.0" cy="327.5" r="1.6" fill="url(#gN)" /><circle cx="554.4" cy="327.3" r="1.0" fill="url(#gH)" /><line x1="540.0" y1="327.4" x2="540.6" y2="332.8" stroke="#c8c8c8" stroke-width="1.2"/><line x1="540.6" y1="332.8" x2="541.3" y2="338.2" stroke="#d84040" stroke-width="1.2"/><line x1="516.1" y1="253.2" x2="518.8" y2="254.3" stroke="#ecd0d0" stroke-width="1.4"/><circle cx="518.8" cy="254.3" r="1.3" fill="#f8eaea" stroke="#d8a4a4" stroke-width="0.45"/><line x1="516.1" y1="253.2" x2="514.2" y2="255.4" stroke="#ecd0d0" stroke-width="1.4"/><circle cx="514.2" cy="255.4" r="1.3" fill="#f8eaea" stroke="#d8a4a4" stroke-width="0.45"/><circle cx="516.1" cy="253.2" r="1.75" fill="url(#gO2)"/><line x1="517.9" y1="256.8" x2="520.8" y2="257.3" stroke="#ecd0d0" stroke-width="1.4"/><circle cx="520.8" cy="257.3" r="1.3" fill="#f8eaea" stroke="#d8a4a4" stroke-width="0.45"/><line x1="517.9" y1="256.8" x2="515.8" y2="258.8" stroke="#ecd0d0" stroke-width="1.4"/><circle cx="515.8" cy="258.8" r="1.3" fill="#f8eaea" stroke="#d8a4a4" stroke-width="0.45"/><circle cx="517.9" cy="256.8" r="1.75" fill="url(#gO2)"/><line x1="540.4" y1="253.2" x2="537.9" y2="254.6" stroke="#ecd0d0" stroke-width="1.4"/><circle cx="537.9" cy="254.6" r="1.3" fill="#f8eaea" stroke="#d8a4a4" stroke-width="0.45"/><line x1="540.4" y1="253.2" x2="540.6" y2="256.1" stroke="#ecd0d0" stroke-width="1.4"/><circle cx="540.6" cy="256.1" r="1.3" fill="#f8eaea" stroke="#d8a4a4" stroke-width="0.45"/><circle cx="540.4" cy="253.2" r="1.75" fill="url(#gO2)"/><line x1="543.1" y1="255.4" x2="542.1" y2="258.1" stroke="#ecd0d0" stroke-width="1.4"/><circle cx="542.1" cy="258.1" r="1.3" fill="#f8eaea" stroke="#d8a4a4" stroke-width="0.45"/><line x1="543.1" y1="255.4" x2="540.8" y2="253.7" stroke="#ecd0d0" stroke-width="1.4"/><circle cx="540.8" cy="253.7" r="1.3" fill="#f8eaea" stroke="#d8a4a4" stroke-width="0.45"/><circle cx="543.1" cy="255.4" r="1.75" fill="url(#gO2)"/><line x1="527.8" y1="258.1" x2="528.4" y2="260.9" stroke="#ecd0d0" stroke-width="1.4"/><circle cx="528.4" cy="260.9" r="1.3" fill="#f8eaea" stroke="#d8a4a4" stroke-width="0.45"/><line x1="527.8" y1="258.1" x2="525.0" y2="257.3" stroke="#ecd0d0" stroke-width="1.4"/><circle cx="525.0" cy="257.3" r="1.3" fill="#f8eaea" stroke="#d8a4a4" stroke-width="0.45"/><circle cx="527.8" cy="258.1" r="1.75" fill="url(#gO2)"/><line x1="508.0" y1="264.4" x2="505.2" y2="265.2" stroke="#ecd0d0" stroke-width="1.4"/><circle cx="505.2" cy="265.2" r="1.3" fill="#f8eaea" stroke="#d8a4a4" stroke-width="0.45"/><line x1="508.0" y1="264.4" x2="510.6" y2="263.1" stroke="#ecd0d0" stroke-width="1.4"/><circle cx="510.6" cy="263.1" r="1.3" fill="#f8eaea" stroke="#d8a4a4" stroke-width="0.45"/><circle cx="508.0" cy="264.4" r="1.75" fill="url(#gO2)"/><line x1="507.1" y1="267.1" x2="504.3" y2="268.0" stroke="#ecd0d0" stroke-width="1.4"/><circle cx="504.3" cy="268.0" r="1.3" fill="#f8eaea" stroke="#d8a4a4" stroke-width="0.45"/><line x1="507.1" y1="267.1" x2="509.4" y2="265.4" stroke="#ecd0d0" stroke-width="1.4"/><circle cx="509.4" cy="265.4" r="1.3" fill="#f8eaea" stroke="#d8a4a4" stroke-width="0.45"/><circle cx="507.1" cy="267.1" r="1.75" fill="url(#gO2)"/><line x1="498.1" y1="268.4" x2="500.8" y2="267.4" stroke="#ecd0d0" stroke-width="1.4"/><circle cx="500.8" cy="267.4" r="1.3" fill="#f8eaea" stroke="#d8a4a4" stroke-width="0.45"/><line x1="498.1" y1="268.4" x2="498.3" y2="271.3" stroke="#ecd0d0" stroke-width="1.4"/><circle cx="498.3" cy="271.3" r="1.3" fill="#f8eaea" stroke="#d8a4a4" stroke-width="0.45"/><circle cx="498.1" cy="268.4" r="1.75" fill="url(#gO2)"/><line x1="527.8" y1="265.3" x2="527.5" y2="262.4" stroke="#ecd0d0" stroke-width="1.4"/><circle cx="527.5" cy="262.4" r="1.3" fill="#f8eaea" stroke="#d8a4a4" stroke-width="0.45"/><line x1="527.8" y1="265.3" x2="526.3" y2="267.8" stroke="#ecd0d0" stroke-width="1.4"/><circle cx="526.3" cy="267.8" r="1.3" fill="#f8eaea" stroke="#d8a4a4" stroke-width="0.45"/><circle cx="527.8" cy="265.3" r="1.75" fill="url(#gO2)"/><line x1="541.3" y1="268.0" x2="544.1" y2="268.7" stroke="#ecd0d0" stroke-width="1.4"/><circle cx="544.1" cy="268.7" r="1.3" fill="#f8eaea" stroke="#d8a4a4" stroke-width="0.45"/><line x1="541.3" y1="268.0" x2="539.8" y2="270.5" stroke="#ecd0d0" stroke-width="1.4"/><circle cx="539.8" cy="270.5" r="1.3" fill="#f8eaea" stroke="#d8a4a4" stroke-width="0.45"/><circle cx="541.3" cy="268.0" r="1.75" fill="url(#gO2)"/><line x1="547.6" y1="268.4" x2="544.7" y2="268.2" stroke="#ecd0d0" stroke-width="1.4"/><circle cx="544.7" cy="268.2" r="1.3" fill="#f8eaea" stroke="#d8a4a4" stroke-width="0.45"/><line x1="547.6" y1="268.4" x2="549.1" y2="270.9" stroke="#ecd0d0" stroke-width="1.4"/><circle cx="549.1" cy="270.9" r="1.3" fill="#f8eaea" stroke="#d8a4a4" stroke-width="0.45"/><circle cx="547.6" cy="268.4" r="1.75" fill="url(#gO2)"/><line x1="565.6" y1="268.9" x2="563.4" y2="270.8" stroke="#ecd0d0" stroke-width="1.4"/><circle cx="563.4" cy="270.8" r="1.3" fill="#f8eaea" stroke="#d8a4a4" stroke-width="0.45"/><line x1="565.6" y1="268.9" x2="564.4" y2="266.2" stroke="#ecd0d0" stroke-width="1.4"/><circle cx="564.4" cy="266.2" r="1.3" fill="#f8eaea" stroke="#d8a4a4" stroke-width="0.45"/><circle cx="565.6" cy="268.9" r="1.75" fill="url(#gO2)"/><line x1="522.4" y1="272.0" x2="524.6" y2="270.1" stroke="#ecd0d0" stroke-width="1.4"/><circle cx="524.6" cy="270.1" r="1.3" fill="#f8eaea" stroke="#d8a4a4" stroke-width="0.45"/><line x1="522.4" y1="272.0" x2="523.7" y2="274.6" stroke="#ecd0d0" stroke-width="1.4"/><circle cx="523.7" cy="274.6" r="1.3" fill="#f8eaea" stroke="#d8a4a4" stroke-width="0.45"/><circle cx="522.4" cy="272.0" r="1.75" fill="url(#gO2)"/><line x1="552.1" y1="273.4" x2="550.4" y2="271.0" stroke="#ecd0d0" stroke-width="1.4"/><circle cx="550.4" cy="271.0" r="1.3" fill="#f8eaea" stroke="#d8a4a4" stroke-width="0.45"/><line x1="552.1" y1="273.4" x2="554.8" y2="272.4" stroke="#ecd0d0" stroke-width="1.4"/><circle cx="554.8" cy="272.4" r="1.3" fill="#f8eaea" stroke="#d8a4a4" stroke-width="0.45"/><circle cx="552.1" cy="273.4" r="1.75" fill="url(#gO2)"/><line x1="555.7" y1="275.2" x2="553.4" y2="273.5" stroke="#ecd0d0" stroke-width="1.4"/><circle cx="553.4" cy="273.5" r="1.3" fill="#f8eaea" stroke="#d8a4a4" stroke-width="0.45"/><line x1="555.7" y1="275.2" x2="557.9" y2="273.3" stroke="#ecd0d0" stroke-width="1.4"/><circle cx="557.9" cy="273.3" r="1.3" fill="#f8eaea" stroke="#d8a4a4" stroke-width="0.45"/><circle cx="555.7" cy="275.2" r="1.75" fill="url(#gO2)"/><line x1="512.5" y1="281.5" x2="509.8" y2="282.6" stroke="#ecd0d0" stroke-width="1.4"/><circle cx="509.8" cy="282.6" r="1.3" fill="#f8eaea" stroke="#d8a4a4" stroke-width="0.45"/><line x1="512.5" y1="281.5" x2="514.1" y2="279.1" stroke="#ecd0d0" stroke-width="1.4"/><circle cx="514.1" cy="279.1" r="1.3" fill="#f8eaea" stroke="#d8a4a4" stroke-width="0.45"/><circle cx="512.5" cy="281.5" r="1.75" fill="url(#gO2)"/><line x1="511.6" y1="283.3" x2="508.7" y2="283.8" stroke="#ecd0d0" stroke-width="1.4"/><circle cx="508.7" cy="283.8" r="1.3" fill="#f8eaea" stroke="#d8a4a4" stroke-width="0.45"/><line x1="511.6" y1="283.3" x2="514.3" y2="282.3" stroke="#ecd0d0" stroke-width="1.4"/><circle cx="514.3" cy="282.3" r="1.3" fill="#f8eaea" stroke="#d8a4a4" stroke-width="0.45"/><circle cx="511.6" cy="283.3" r="1.75" fill="url(#gO2)"/><line x1="526.9" y1="281.5" x2="526.0" y2="278.8" stroke="#ecd0d0" stroke-width="1.4"/><circle cx="526.0" cy="278.8" r="1.3" fill="#f8eaea" stroke="#d8a4a4" stroke-width="0.45"/><line x1="526.9" y1="281.5" x2="529.7" y2="280.8" stroke="#ecd0d0" stroke-width="1.4"/><circle cx="529.7" cy="280.8" r="1.3" fill="#f8eaea" stroke="#d8a4a4" stroke-width="0.45"/><circle cx="526.9" cy="281.5" r="1.75" fill="url(#gO2)"/><line x1="538.6" y1="281.5" x2="536.0" y2="282.9" stroke="#ecd0d0" stroke-width="1.4"/><circle cx="536.0" cy="282.9" r="1.3" fill="#f8eaea" stroke="#d8a4a4" stroke-width="0.45"/><line x1="538.6" y1="281.5" x2="538.0" y2="278.7" stroke="#ecd0d0" stroke-width="1.4"/><circle cx="538.0" cy="278.7" r="1.3" fill="#f8eaea" stroke="#d8a4a4" stroke-width="0.45"/><circle cx="538.6" cy="281.5" r="1.75" fill="url(#gO2)"/><line x1="501.7" y1="287.3" x2="504.2" y2="285.8" stroke="#ecd0d0" stroke-width="1.4"/><circle cx="504.2" cy="285.8" r="1.3" fill="#f8eaea" stroke="#d8a4a4" stroke-width="0.45"/><line x1="501.7" y1="287.3" x2="502.5" y2="290.1" stroke="#ecd0d0" stroke-width="1.4"/><circle cx="502.5" cy="290.1" r="1.3" fill="#f8eaea" stroke="#d8a4a4" stroke-width="0.45"/><circle cx="501.7" cy="287.3" r="1.75" fill="url(#gO2)"/><line x1="527.8" y1="285.6" x2="530.6" y2="284.8" stroke="#ecd0d0" stroke-width="1.4"/><circle cx="530.6" cy="284.8" r="1.3" fill="#f8eaea" stroke="#d8a4a4" stroke-width="0.45"/><line x1="527.8" y1="285.6" x2="530.1" y2="287.3" stroke="#ecd0d0" stroke-width="1.4"/><circle cx="530.1" cy="287.3" r="1.3" fill="#f8eaea" stroke="#d8a4a4" stroke-width="0.45"/><circle cx="527.8" cy="285.6" r="1.75" fill="url(#gO2)"/><line x1="549.4" y1="290.5" x2="547.0" y2="292.1" stroke="#ecd0d0" stroke-width="1.4"/><circle cx="547.0" cy="292.1" r="1.3" fill="#f8eaea" stroke="#d8a4a4" stroke-width="0.45"/><line x1="549.4" y1="290.5" x2="548.5" y2="287.7" stroke="#ecd0d0" stroke-width="1.4"/><circle cx="548.5" cy="287.7" r="1.3" fill="#f8eaea" stroke="#d8a4a4" stroke-width="0.45"/><circle cx="549.4" cy="290.5" r="1.75" fill="url(#gO2)"/><line x1="538.6" y1="294.6" x2="539.6" y2="297.3" stroke="#ecd0d0" stroke-width="1.4"/><circle cx="539.6" cy="297.3" r="1.3" fill="#f8eaea" stroke="#d8a4a4" stroke-width="0.45"/><line x1="538.6" y1="294.6" x2="541.0" y2="293.0" stroke="#ecd0d0" stroke-width="1.4"/><circle cx="541.0" cy="293.0" r="1.3" fill="#f8eaea" stroke="#d8a4a4" stroke-width="0.45"/><circle cx="538.6" cy="294.6" r="1.75" fill="url(#gO2)"/><line x1="539.5" y1="299.5" x2="538.8" y2="296.7" stroke="#ecd0d0" stroke-width="1.4"/><circle cx="538.8" cy="296.7" r="1.3" fill="#f8eaea" stroke="#d8a4a4" stroke-width="0.45"/><line x1="539.5" y1="299.5" x2="540.4" y2="302.3" stroke="#ecd0d0" stroke-width="1.4"/><circle cx="540.4" cy="302.3" r="1.3" fill="#f8eaea" stroke="#d8a4a4" stroke-width="0.45"/><circle cx="539.5" cy="299.5" r="1.75" fill="url(#gO2)"/><line x1="543.1" y1="308.5" x2="542.4" y2="305.7" stroke="#ecd0d0" stroke-width="1.4"/><circle cx="542.4" cy="305.7" r="1.3" fill="#f8eaea" stroke="#d8a4a4" stroke-width="0.45"/><line x1="543.1" y1="308.5" x2="542.2" y2="311.2" stroke="#ecd0d0" stroke-width="1.4"/><circle cx="542.2" cy="311.2" r="1.3" fill="#f8eaea" stroke="#d8a4a4" stroke-width="0.45"/><circle cx="543.1" cy="308.5" r="1.75" fill="url(#gO2)"/><line x1="537.7" y1="318.0" x2="538.9" y2="315.4" stroke="#ecd0d0" stroke-width="1.4"/><circle cx="538.9" cy="315.4" r="1.3" fill="#f8eaea" stroke="#d8a4a4" stroke-width="0.45"/><line x1="537.7" y1="318.0" x2="539.9" y2="319.9" stroke="#ecd0d0" stroke-width="1.4"/><circle cx="539.9" cy="319.9" r="1.3" fill="#f8eaea" stroke="#d8a4a4" stroke-width="0.45"/><circle cx="537.7" cy="318.0" r="1.75" fill="url(#gO2)"/><line x1="541.3" y1="338.2" x2="538.5" y2="339.1" stroke="#ecd0d0" stroke-width="1.4"/><circle cx="538.5" cy="339.1" r="1.3" fill="#f8eaea" stroke="#d8a4a4" stroke-width="0.45"/><line x1="541.3" y1="338.2" x2="542.9" y2="340.6" stroke="#ecd0d0" stroke-width="1.4"/><circle cx="542.9" cy="340.6" r="1.3" fill="#f8eaea" stroke="#d8a4a4" stroke-width="0.45"/><circle cx="541.3" cy="338.2" r="1.75" fill="url(#gO2)"/>
<line x1="663.0" y1="286.0" x2="660.7" y2="298.6" stroke="#bcbcbc" stroke-width="0.75" stroke-dasharray="1.2,1.2"/><line x1="661.6" y1="254.5" x2="658.0" y2="263.0" stroke="#bcbcbc" stroke-width="0.75" stroke-dasharray="1.2,1.2"/><line x1="656.2" y1="282.8" x2="663.0" y2="286.0" stroke="#bcbcbc" stroke-width="0.75" stroke-dasharray="1.2,1.2"/><line x1="631.0" y1="276.1" x2="623.8" y2="284.2" stroke="#bcbcbc" stroke-width="0.75" stroke-dasharray="1.2,1.2"/><line x1="661.6" y1="254.5" x2="646.3" y2="259.9" stroke="#bcbcbc" stroke-width="0.75" stroke-dasharray="1.2,1.2"/><line x1="677.8" y1="263.5" x2="667.0" y2="271.2" stroke="#bcbcbc" stroke-width="0.75" stroke-dasharray="1.2,1.2"/><line x1="677.8" y1="263.5" x2="677.8" y2="277.9" stroke="#bcbcbc" stroke-width="0.75" stroke-dasharray="1.2,1.2"/><line x1="663.0" y1="286.0" x2="656.2" y2="292.3" stroke="#bcbcbc" stroke-width="0.75" stroke-dasharray="1.2,1.2"/><line x1="646.3" y1="259.9" x2="645.4" y2="268.0" stroke="#bcbcbc" stroke-width="0.75" stroke-dasharray="1.2,1.2"/><line x1="646.3" y1="263.5" x2="658.0" y2="263.0" stroke="#bcbcbc" stroke-width="0.75" stroke-dasharray="1.2,1.2"/><line x1="622.9" y1="262.2" x2="614.4" y2="268.9" stroke="#bcbcbc" stroke-width="0.75" stroke-dasharray="1.2,1.2"/><line x1="646.3" y1="259.9" x2="658.0" y2="263.0" stroke="#bcbcbc" stroke-width="0.75" stroke-dasharray="1.2,1.2"/><line x1="646.3" y1="263.5" x2="645.4" y2="268.0" stroke="#bcbcbc" stroke-width="0.75" stroke-dasharray="1.2,1.2"/><line x1="623.8" y1="284.2" x2="628.3" y2="282.4" stroke="#bcbcbc" stroke-width="0.75" stroke-dasharray="1.2,1.2"/><line x1="646.3" y1="263.5" x2="644.5" y2="277.4" stroke="#bcbcbc" stroke-width="0.75" stroke-dasharray="1.2,1.2"/><line x1="631.9" y1="250.9" x2="622.9" y2="262.2" stroke="#bcbcbc" stroke-width="0.75" stroke-dasharray="1.2,1.2"/><line x1="631.0" y1="276.1" x2="643.6" y2="283.3" stroke="#bcbcbc" stroke-width="0.75" stroke-dasharray="1.2,1.2"/><line x1="628.3" y1="282.4" x2="643.6" y2="283.3" stroke="#bcbcbc" stroke-width="0.75" stroke-dasharray="1.2,1.2"/><line x1="658.0" y1="263.0" x2="667.0" y2="271.2" stroke="#bcbcbc" stroke-width="0.75" stroke-dasharray="1.2,1.2"/><line x1="660.7" y1="298.6" x2="659.8" y2="309.4" stroke="#bcbcbc" stroke-width="0.75" stroke-dasharray="1.2,1.2"/><line x1="631.9" y1="250.9" x2="646.3" y2="259.9" stroke="#bcbcbc" stroke-width="0.75" stroke-dasharray="1.2,1.2"/><line x1="645.4" y1="268.0" x2="644.5" y2="277.4" stroke="#bcbcbc" stroke-width="0.75" stroke-dasharray="1.2,1.2"/><line x1="656.2" y1="282.8" x2="656.2" y2="292.3" stroke="#bcbcbc" stroke-width="0.75" stroke-dasharray="1.2,1.2"/><line x1="667.0" y1="271.2" x2="677.8" y2="277.9" stroke="#bcbcbc" stroke-width="0.75" stroke-dasharray="1.2,1.2"/><line x1="631.0" y1="276.1" x2="644.5" y2="277.4" stroke="#bcbcbc" stroke-width="0.75" stroke-dasharray="1.2,1.2"/><line x1="664.3" y1="250.9" x2="658.0" y2="263.0" stroke="#bcbcbc" stroke-width="0.75" stroke-dasharray="1.2,1.2"/><line x1="631.0" y1="276.1" x2="628.3" y2="282.4" stroke="#bcbcbc" stroke-width="0.75" stroke-dasharray="1.2,1.2"/><line x1="677.8" y1="277.9" x2="663.0" y2="286.0" stroke="#bcbcbc" stroke-width="0.75" stroke-dasharray="1.2,1.2"/><line x1="643.6" y1="283.3" x2="656.2" y2="282.8" stroke="#bcbcbc" stroke-width="0.75" stroke-dasharray="1.2,1.2"/><line x1="658.5" y1="329.6" x2="653.0" y2="319.3" stroke="#c0c0c0" stroke-width="1.3"/><line x1="628.3" y1="294.1" x2="649.0" y2="315.7" stroke="#e0ccc4" stroke-width="3.0" stroke-linecap="round"/><circle cx="629.2" cy="293.9" r="1.0" fill="url(#gH)" /><circle cx="631.6" cy="296.4" r="1.6" fill="url(#gN)" /><circle cx="633.9" cy="298.8" r="1.5" fill="url(#gC)" /><circle cx="636.3" cy="301.3" r="1.6" fill="url(#gC)" /><circle cx="638.7" cy="303.8" r="1.9" fill="url(#gNi)" /><circle cx="641.1" cy="306.3" r="1.6" fill="url(#gC)" /><circle cx="643.5" cy="308.8" r="1.5" fill="url(#gC)" /><circle cx="645.9" cy="311.3" r="1.6" fill="url(#gN)" /><circle cx="648.2" cy="313.7" r="1.0" fill="url(#gH)" /><circle cx="629.1" cy="296.1" r="1.0" fill="url(#gH)" /><circle cx="631.4" cy="298.5" r="1.6" fill="url(#gN)" /><circle cx="633.8" cy="301.0" r="1.5" fill="url(#gC)" /><circle cx="636.2" cy="303.5" r="1.6" fill="url(#gC)" /><circle cx="638.6" cy="306.0" r="1.9" fill="url(#gNi)" /><circle cx="641.0" cy="308.5" r="1.6" fill="url(#gC)" /><circle cx="643.4" cy="311.0" r="1.5" fill="url(#gC)" /><circle cx="645.7" cy="313.4" r="1.6" fill="url(#gN)" /><circle cx="648.1" cy="315.9" r="1.0" fill="url(#gH)" /><line x1="644.5" y1="332.8" x2="672.4" y2="326.5" stroke="#e0ccc4" stroke-width="3.0" stroke-linecap="round"/><circle cx="644.7" cy="331.9" r="1.0" fill="url(#gH)" /><circle cx="648.0" cy="331.2" r="1.6" fill="url(#gN)" /><circle cx="651.2" cy="330.5" r="1.5" fill="url(#gC)" /><circle cx="654.4" cy="329.8" r="1.6" fill="url(#gC)" /><circle cx="657.6" cy="329.0" r="1.9" fill="url(#gNi)" /><circle cx="660.8" cy="328.3" r="1.6" fill="url(#gC)" /><circle cx="664.0" cy="327.6" r="1.5" fill="url(#gC)" /><circle cx="667.2" cy="326.9" r="1.6" fill="url(#gN)" /><circle cx="670.4" cy="326.1" r="1.0" fill="url(#gH)" /><circle cx="646.5" cy="333.2" r="1.0" fill="url(#gH)" /><circle cx="649.7" cy="332.4" r="1.6" fill="url(#gN)" /><circle cx="652.9" cy="331.7" r="1.5" fill="url(#gC)" /><circle cx="656.1" cy="331.0" r="1.6" fill="url(#gC)" /><circle cx="659.3" cy="330.3" r="1.9" fill="url(#gNi)" /><circle cx="662.5" cy="329.5" r="1.6" fill="url(#gC)" /><circle cx="665.7" cy="328.8" r="1.5" fill="url(#gC)" /><circle cx="668.9" cy="328.1" r="1.6" fill="url(#gN)" /><circle cx="672.2" cy="327.4" r="1.0" fill="url(#gH)" /><line x1="658.5" y1="329.6" x2="660.0" y2="333.9" stroke="#c8c8c8" stroke-width="1.2"/><line x1="660.0" y1="333.9" x2="661.6" y2="338.2" stroke="#d84040" stroke-width="1.2"/><line x1="631.9" y1="250.9" x2="629.7" y2="252.8" stroke="#ecd0d0" stroke-width="1.4"/><circle cx="629.7" cy="252.8" r="1.3" fill="#f8eaea" stroke="#d8a4a4" stroke-width="0.45"/><line x1="631.9" y1="250.9" x2="634.3" y2="252.5" stroke="#ecd0d0" stroke-width="1.4"/><circle cx="634.3" cy="252.5" r="1.3" fill="#f8eaea" stroke="#d8a4a4" stroke-width="0.45"/><circle cx="631.9" cy="250.9" r="1.75" fill="url(#gO2)"/><line x1="661.6" y1="254.5" x2="660.2" y2="257.0" stroke="#ecd0d0" stroke-width="1.4"/><circle cx="660.2" cy="257.0" r="1.3" fill="#f8eaea" stroke="#d8a4a4" stroke-width="0.45"/><line x1="661.6" y1="254.5" x2="659.6" y2="252.4" stroke="#ecd0d0" stroke-width="1.4"/><circle cx="659.6" cy="252.4" r="1.3" fill="#f8eaea" stroke="#d8a4a4" stroke-width="0.45"/><circle cx="661.6" cy="254.5" r="1.75" fill="url(#gO2)"/><line x1="664.3" y1="250.9" x2="662.6" y2="253.2" stroke="#ecd0d0" stroke-width="1.4"/><circle cx="662.6" cy="253.2" r="1.3" fill="#f8eaea" stroke="#d8a4a4" stroke-width="0.45"/><line x1="664.3" y1="250.9" x2="667.0" y2="251.9" stroke="#ecd0d0" stroke-width="1.4"/><circle cx="667.0" cy="251.9" r="1.3" fill="#f8eaea" stroke="#d8a4a4" stroke-width="0.45"/><circle cx="664.3" cy="250.9" r="1.75" fill="url(#gO2)"/><line x1="646.3" y1="259.9" x2="646.3" y2="262.8" stroke="#ecd0d0" stroke-width="1.4"/><circle cx="646.3" cy="262.8" r="1.3" fill="#f8eaea" stroke="#d8a4a4" stroke-width="0.45"/><line x1="646.3" y1="259.9" x2="649.2" y2="260.0" stroke="#ecd0d0" stroke-width="1.4"/><circle cx="649.2" cy="260.0" r="1.3" fill="#f8eaea" stroke="#d8a4a4" stroke-width="0.45"/><circle cx="646.3" cy="259.9" r="1.75" fill="url(#gO2)"/><line x1="622.9" y1="262.2" x2="620.3" y2="263.6" stroke="#ecd0d0" stroke-width="1.4"/><circle cx="620.3" cy="263.6" r="1.3" fill="#f8eaea" stroke="#d8a4a4" stroke-width="0.45"/><line x1="622.9" y1="262.2" x2="625.2" y2="260.4" stroke="#ecd0d0" stroke-width="1.4"/><circle cx="625.2" cy="260.4" r="1.3" fill="#f8eaea" stroke="#d8a4a4" stroke-width="0.45"/><circle cx="622.9" cy="262.2" r="1.75" fill="url(#gO2)"/><line x1="646.3" y1="263.5" x2="646.3" y2="266.4" stroke="#ecd0d0" stroke-width="1.4"/><circle cx="646.3" cy="266.4" r="1.3" fill="#f8eaea" stroke="#d8a4a4" stroke-width="0.45"/><line x1="646.3" y1="263.5" x2="649.2" y2="263.8" stroke="#ecd0d0" stroke-width="1.4"/><circle cx="649.2" cy="263.8" r="1.3" fill="#f8eaea" stroke="#d8a4a4" stroke-width="0.45"/><circle cx="646.3" cy="263.5" r="1.75" fill="url(#gO2)"/><line x1="658.0" y1="263.0" x2="659.0" y2="260.3" stroke="#ecd0d0" stroke-width="1.4"/><circle cx="659.0" cy="260.3" r="1.3" fill="#f8eaea" stroke="#d8a4a4" stroke-width="0.45"/><line x1="658.0" y1="263.0" x2="655.2" y2="263.6" stroke="#ecd0d0" stroke-width="1.4"/><circle cx="655.2" cy="263.6" r="1.3" fill="#f8eaea" stroke="#d8a4a4" stroke-width="0.45"/><circle cx="658.0" cy="263.0" r="1.75" fill="url(#gO2)"/><line x1="677.8" y1="263.5" x2="675.6" y2="265.4" stroke="#ecd0d0" stroke-width="1.4"/><circle cx="675.6" cy="265.4" r="1.3" fill="#f8eaea" stroke="#d8a4a4" stroke-width="0.45"/><line x1="677.8" y1="263.5" x2="676.6" y2="260.9" stroke="#ecd0d0" stroke-width="1.4"/><circle cx="676.6" cy="260.9" r="1.3" fill="#f8eaea" stroke="#d8a4a4" stroke-width="0.45"/><circle cx="677.8" cy="263.5" r="1.75" fill="url(#gO2)"/><line x1="614.4" y1="268.9" x2="617.0" y2="267.6" stroke="#ecd0d0" stroke-width="1.4"/><circle cx="617.0" cy="267.6" r="1.3" fill="#f8eaea" stroke="#d8a4a4" stroke-width="0.45"/><line x1="614.4" y1="268.9" x2="615.0" y2="271.7" stroke="#ecd0d0" stroke-width="1.4"/><circle cx="615.0" cy="271.7" r="1.3" fill="#f8eaea" stroke="#d8a4a4" stroke-width="0.45"/><circle cx="614.4" cy="268.9" r="1.75" fill="url(#gO2)"/><line x1="645.4" y1="268.0" x2="646.1" y2="265.2" stroke="#ecd0d0" stroke-width="1.4"/><circle cx="646.1" cy="265.2" r="1.3" fill="#f8eaea" stroke="#d8a4a4" stroke-width="0.45"/><line x1="645.4" y1="268.0" x2="647.9" y2="269.5" stroke="#ecd0d0" stroke-width="1.4"/><circle cx="647.9" cy="269.5" r="1.3" fill="#f8eaea" stroke="#d8a4a4" stroke-width="0.45"/><circle cx="645.4" cy="268.0" r="1.75" fill="url(#gO2)"/><line x1="667.0" y1="271.2" x2="665.1" y2="269.0" stroke="#ecd0d0" stroke-width="1.4"/><circle cx="665.1" cy="269.0" r="1.3" fill="#f8eaea" stroke="#d8a4a4" stroke-width="0.45"/><line x1="667.0" y1="271.2" x2="669.6" y2="272.5" stroke="#ecd0d0" stroke-width="1.4"/><circle cx="669.6" cy="272.5" r="1.3" fill="#f8eaea" stroke="#d8a4a4" stroke-width="0.45"/><circle cx="667.0" cy="271.2" r="1.75" fill="url(#gO2)"/><line x1="631.0" y1="276.1" x2="629.4" y2="278.5" stroke="#ecd0d0" stroke-width="1.4"/><circle cx="629.4" cy="278.5" r="1.3" fill="#f8eaea" stroke="#d8a4a4" stroke-width="0.45"/><line x1="631.0" y1="276.1" x2="629.1" y2="273.9" stroke="#ecd0d0" stroke-width="1.4"/><circle cx="629.1" cy="273.9" r="1.3" fill="#f8eaea" stroke="#d8a4a4" stroke-width="0.45"/><circle cx="631.0" cy="276.1" r="1.75" fill="url(#gO2)"/><line x1="644.5" y1="277.4" x2="644.1" y2="280.3" stroke="#ecd0d0" stroke-width="1.4"/><circle cx="644.1" cy="280.3" r="1.3" fill="#f8eaea" stroke="#d8a4a4" stroke-width="0.45"/><line x1="644.5" y1="277.4" x2="645.5" y2="274.7" stroke="#ecd0d0" stroke-width="1.4"/><circle cx="645.5" cy="274.7" r="1.3" fill="#f8eaea" stroke="#d8a4a4" stroke-width="0.45"/><circle cx="644.5" cy="277.4" r="1.75" fill="url(#gO2)"/><line x1="677.8" y1="277.9" x2="675.2" y2="276.6" stroke="#ecd0d0" stroke-width="1.4"/><circle cx="675.2" cy="276.6" r="1.3" fill="#f8eaea" stroke="#d8a4a4" stroke-width="0.45"/><line x1="677.8" y1="277.9" x2="679.8" y2="275.8" stroke="#ecd0d0" stroke-width="1.4"/><circle cx="679.8" cy="275.8" r="1.3" fill="#f8eaea" stroke="#d8a4a4" stroke-width="0.45"/><circle cx="677.8" cy="277.9" r="1.75" fill="url(#gO2)"/><line x1="623.8" y1="284.2" x2="626.5" y2="283.3" stroke="#ecd0d0" stroke-width="1.4"/><circle cx="626.5" cy="283.3" r="1.3" fill="#f8eaea" stroke="#d8a4a4" stroke-width="0.45"/><line x1="623.8" y1="284.2" x2="623.9" y2="287.1" stroke="#ecd0d0" stroke-width="1.4"/><circle cx="623.9" cy="287.1" r="1.3" fill="#f8eaea" stroke="#d8a4a4" stroke-width="0.45"/><circle cx="623.8" cy="284.2" r="1.75" fill="url(#gO2)"/><line x1="628.3" y1="282.4" x2="625.8" y2="283.9" stroke="#ecd0d0" stroke-width="1.4"/><circle cx="625.8" cy="283.9" r="1.3" fill="#f8eaea" stroke="#d8a4a4" stroke-width="0.45"/><line x1="628.3" y1="282.4" x2="629.3" y2="279.7" stroke="#ecd0d0" stroke-width="1.4"/><circle cx="629.3" cy="279.7" r="1.3" fill="#f8eaea" stroke="#d8a4a4" stroke-width="0.45"/><circle cx="628.3" cy="282.4" r="1.75" fill="url(#gO2)"/><line x1="643.6" y1="283.3" x2="644.2" y2="280.5" stroke="#ecd0d0" stroke-width="1.4"/><circle cx="644.2" cy="280.5" r="1.3" fill="#f8eaea" stroke="#d8a4a4" stroke-width="0.45"/><line x1="643.6" y1="283.3" x2="646.4" y2="282.7" stroke="#ecd0d0" stroke-width="1.4"/><circle cx="646.4" cy="282.7" r="1.3" fill="#f8eaea" stroke="#d8a4a4" stroke-width="0.45"/><circle cx="643.6" cy="283.3" r="1.75" fill="url(#gO2)"/><line x1="656.2" y1="282.8" x2="659.0" y2="283.4" stroke="#ecd0d0" stroke-width="1.4"/><circle cx="659.0" cy="283.4" r="1.3" fill="#f8eaea" stroke="#d8a4a4" stroke-width="0.45"/><line x1="656.2" y1="282.8" x2="655.7" y2="285.7" stroke="#ecd0d0" stroke-width="1.4"/><circle cx="655.7" cy="285.7" r="1.3" fill="#f8eaea" stroke="#d8a4a4" stroke-width="0.45"/><circle cx="656.2" cy="282.8" r="1.75" fill="url(#gO2)"/><line x1="663.0" y1="286.0" x2="660.3" y2="285.0" stroke="#ecd0d0" stroke-width="1.4"/><circle cx="660.3" cy="285.0" r="1.3" fill="#f8eaea" stroke="#d8a4a4" stroke-width="0.45"/><line x1="663.0" y1="286.0" x2="664.7" y2="283.6" stroke="#ecd0d0" stroke-width="1.4"/><circle cx="664.7" cy="283.6" r="1.3" fill="#f8eaea" stroke="#d8a4a4" stroke-width="0.45"/><circle cx="663.0" cy="286.0" r="1.75" fill="url(#gO2)"/><line x1="656.2" y1="292.3" x2="657.4" y2="294.9" stroke="#ecd0d0" stroke-width="1.4"/><circle cx="657.4" cy="294.9" r="1.3" fill="#f8eaea" stroke="#d8a4a4" stroke-width="0.45"/><line x1="656.2" y1="292.3" x2="658.2" y2="290.2" stroke="#ecd0d0" stroke-width="1.4"/><circle cx="658.2" cy="290.2" r="1.3" fill="#f8eaea" stroke="#d8a4a4" stroke-width="0.45"/><circle cx="656.2" cy="292.3" r="1.75" fill="url(#gO2)"/><line x1="660.7" y1="298.6" x2="659.0" y2="296.3" stroke="#ecd0d0" stroke-width="1.4"/><circle cx="659.0" cy="296.3" r="1.3" fill="#f8eaea" stroke="#d8a4a4" stroke-width="0.45"/><line x1="660.7" y1="298.6" x2="660.4" y2="301.5" stroke="#ecd0d0" stroke-width="1.4"/><circle cx="660.4" cy="301.5" r="1.3" fill="#f8eaea" stroke="#d8a4a4" stroke-width="0.45"/><circle cx="660.7" cy="298.6" r="1.75" fill="url(#gO2)"/><line x1="659.8" y1="309.4" x2="660.2" y2="306.5" stroke="#ecd0d0" stroke-width="1.4"/><circle cx="660.2" cy="306.5" r="1.3" fill="#f8eaea" stroke="#d8a4a4" stroke-width="0.45"/><line x1="659.8" y1="309.4" x2="658.0" y2="311.7" stroke="#ecd0d0" stroke-width="1.4"/><circle cx="658.0" cy="311.7" r="1.3" fill="#f8eaea" stroke="#d8a4a4" stroke-width="0.45"/><circle cx="659.8" cy="309.4" r="1.75" fill="url(#gO2)"/><line x1="653.0" y1="319.3" x2="654.7" y2="317.0" stroke="#ecd0d0" stroke-width="1.4"/><circle cx="654.7" cy="317.0" r="1.3" fill="#f8eaea" stroke="#d8a4a4" stroke-width="0.45"/><line x1="653.0" y1="319.3" x2="650.3" y2="318.3" stroke="#ecd0d0" stroke-width="1.4"/><circle cx="650.3" cy="318.3" r="1.3" fill="#f8eaea" stroke="#d8a4a4" stroke-width="0.45"/><circle cx="653.0" cy="319.3" r="1.75" fill="url(#gO2)"/><line x1="661.6" y1="338.2" x2="664.3" y2="337.1" stroke="#ecd0d0" stroke-width="1.4"/><circle cx="664.3" cy="337.1" r="1.3" fill="#f8eaea" stroke="#d8a4a4" stroke-width="0.45"/><line x1="661.6" y1="338.2" x2="659.8" y2="335.9" stroke="#ecd0d0" stroke-width="1.4"/><circle cx="659.8" cy="335.9" r="1.3" fill="#f8eaea" stroke="#d8a4a4" stroke-width="0.45"/><circle cx="661.6" cy="338.2" r="1.75" fill="url(#gO2)"/>
<line x1="434.4" y1="434.3" x2="436.2" y2="447.8" stroke="#bcbcbc" stroke-width="0.75" stroke-dasharray="1.2,1.2"/><line x1="426.3" y1="410.0" x2="437.1" y2="408.6" stroke="#bcbcbc" stroke-width="0.75" stroke-dasharray="1.2,1.2"/><line x1="442.5" y1="439.7" x2="436.2" y2="447.8" stroke="#bcbcbc" stroke-width="0.75" stroke-dasharray="1.2,1.2"/><line x1="426.3" y1="410.0" x2="438.9" y2="418.6" stroke="#bcbcbc" stroke-width="0.75" stroke-dasharray="1.2,1.2"/><line x1="437.1" y1="408.6" x2="421.8" y2="415.0" stroke="#bcbcbc" stroke-width="0.75" stroke-dasharray="1.2,1.2"/><line x1="411.0" y1="432.5" x2="417.8" y2="431.2" stroke="#bcbcbc" stroke-width="0.75" stroke-dasharray="1.2,1.2"/><line x1="442.5" y1="452.3" x2="437.1" y2="456.8" stroke="#bcbcbc" stroke-width="0.75" stroke-dasharray="1.2,1.2"/><line x1="423.2" y1="430.2" x2="434.4" y2="434.3" stroke="#bcbcbc" stroke-width="0.75" stroke-dasharray="1.2,1.2"/><line x1="417.3" y1="397.4" x2="408.3" y2="409.6" stroke="#bcbcbc" stroke-width="0.75" stroke-dasharray="1.2,1.2"/><line x1="389.4" y1="421.7" x2="402.0" y2="421.7" stroke="#bcbcbc" stroke-width="0.75" stroke-dasharray="1.2,1.2"/><line x1="402.0" y1="421.7" x2="398.4" y2="430.7" stroke="#bcbcbc" stroke-width="0.75" stroke-dasharray="1.2,1.2"/><line x1="455.1" y1="429.8" x2="442.5" y2="439.7" stroke="#bcbcbc" stroke-width="0.75" stroke-dasharray="1.2,1.2"/><line x1="408.3" y1="409.6" x2="397.5" y2="419.0" stroke="#bcbcbc" stroke-width="0.75" stroke-dasharray="1.2,1.2"/><line x1="453.3" y1="443.3" x2="442.5" y2="452.3" stroke="#bcbcbc" stroke-width="0.75" stroke-dasharray="1.2,1.2"/><line x1="448.8" y1="425.3" x2="442.5" y2="439.7" stroke="#bcbcbc" stroke-width="0.75" stroke-dasharray="1.2,1.2"/><line x1="417.8" y1="431.2" x2="423.2" y2="430.2" stroke="#bcbcbc" stroke-width="0.75" stroke-dasharray="1.2,1.2"/><line x1="438.9" y1="418.6" x2="448.8" y2="425.3" stroke="#bcbcbc" stroke-width="0.75" stroke-dasharray="1.2,1.2"/><line x1="421.8" y1="415.0" x2="423.2" y2="430.2" stroke="#bcbcbc" stroke-width="0.75" stroke-dasharray="1.2,1.2"/><line x1="431.7" y1="434.3" x2="436.2" y2="447.8" stroke="#bcbcbc" stroke-width="0.75" stroke-dasharray="1.2,1.2"/><line x1="442.5" y1="439.7" x2="453.3" y2="443.3" stroke="#bcbcbc" stroke-width="0.75" stroke-dasharray="1.2,1.2"/><line x1="426.3" y1="410.0" x2="421.8" y2="415.0" stroke="#bcbcbc" stroke-width="0.75" stroke-dasharray="1.2,1.2"/><line x1="436.2" y1="447.8" x2="437.1" y2="456.8" stroke="#bcbcbc" stroke-width="0.75" stroke-dasharray="1.2,1.2"/><line x1="397.5" y1="419.0" x2="402.0" y2="421.7" stroke="#bcbcbc" stroke-width="0.75" stroke-dasharray="1.2,1.2"/><line x1="423.2" y1="430.2" x2="431.7" y2="434.3" stroke="#bcbcbc" stroke-width="0.75" stroke-dasharray="1.2,1.2"/><line x1="384.9" y1="410.0" x2="397.5" y2="419.0" stroke="#bcbcbc" stroke-width="0.75" stroke-dasharray="1.2,1.2"/><line x1="384.9" y1="410.0" x2="389.4" y2="421.7" stroke="#bcbcbc" stroke-width="0.75" stroke-dasharray="1.2,1.2"/><line x1="448.8" y1="425.3" x2="455.1" y2="429.8" stroke="#bcbcbc" stroke-width="0.75" stroke-dasharray="1.2,1.2"/><line x1="434.4" y1="434.3" x2="442.5" y2="439.7" stroke="#bcbcbc" stroke-width="0.75" stroke-dasharray="1.2,1.2"/><line x1="442.5" y1="439.7" x2="442.5" y2="452.3" stroke="#bcbcbc" stroke-width="0.75" stroke-dasharray="1.2,1.2"/><line x1="437.1" y1="408.6" x2="438.9" y2="418.6" stroke="#bcbcbc" stroke-width="0.75" stroke-dasharray="1.2,1.2"/><line x1="411.0" y1="432.5" x2="423.2" y2="430.2" stroke="#bcbcbc" stroke-width="0.75" stroke-dasharray="1.2,1.2"/><line x1="436.2" y1="447.8" x2="442.5" y2="452.3" stroke="#bcbcbc" stroke-width="0.75" stroke-dasharray="1.2,1.2"/><line x1="397.5" y1="419.0" x2="389.4" y2="421.7" stroke="#bcbcbc" stroke-width="0.75" stroke-dasharray="1.2,1.2"/><line x1="417.3" y1="397.4" x2="426.3" y2="410.0" stroke="#bcbcbc" stroke-width="0.75" stroke-dasharray="1.2,1.2"/><line x1="455.1" y1="429.8" x2="453.3" y2="443.3" stroke="#bcbcbc" stroke-width="0.75" stroke-dasharray="1.2,1.2"/><line x1="408.3" y1="409.6" x2="402.0" y2="421.7" stroke="#bcbcbc" stroke-width="0.75" stroke-dasharray="1.2,1.2"/><line x1="408.3" y1="409.6" x2="421.8" y2="415.0" stroke="#bcbcbc" stroke-width="0.75" stroke-dasharray="1.2,1.2"/><line x1="417.8" y1="431.2" x2="431.7" y2="434.3" stroke="#bcbcbc" stroke-width="0.75" stroke-dasharray="1.2,1.2"/><line x1="431.7" y1="434.3" x2="442.5" y2="439.7" stroke="#bcbcbc" stroke-width="0.75" stroke-dasharray="1.2,1.2"/><line x1="438.2" y1="468.2" x2="437.1" y2="456.8" stroke="#c0c0c0" stroke-width="1.3"/><line x1="400.3" y1="448.8" x2="427.3" y2="456.0" stroke="#e0ccc4" stroke-width="3.0" stroke-linecap="round"/><circle cx="400.9" cy="448.1" r="1.0" fill="url(#gH)" /><circle cx="404.0" cy="449.0" r="1.6" fill="url(#gN)" /><circle cx="407.1" cy="449.8" r="1.5" fill="url(#gC)" /><circle cx="410.2" cy="450.6" r="1.6" fill="url(#gC)" /><circle cx="413.3" cy="451.4" r="1.9" fill="url(#gNi)" /><circle cx="416.4" cy="452.3" r="1.6" fill="url(#gC)" /><circle cx="419.5" cy="453.1" r="1.5" fill="url(#gC)" /><circle cx="422.6" cy="453.9" r="1.6" fill="url(#gN)" /><circle cx="425.8" cy="454.8" r="1.0" fill="url(#gH)" /><circle cx="401.8" cy="450.0" r="1.0" fill="url(#gH)" /><circle cx="405.0" cy="450.9" r="1.6" fill="url(#gN)" /><circle cx="408.1" cy="451.7" r="1.5" fill="url(#gC)" /><circle cx="411.2" cy="452.5" r="1.6" fill="url(#gC)" /><circle cx="414.3" cy="453.4" r="1.9" fill="url(#gNi)" /><circle cx="417.4" cy="454.2" r="1.6" fill="url(#gC)" /><circle cx="420.5" cy="455.0" r="1.5" fill="url(#gC)" /><circle cx="423.6" cy="455.8" r="1.6" fill="url(#gN)" /><circle cx="426.7" cy="456.7" r="1.0" fill="url(#gH)" /><line x1="424.3" y1="468.2" x2="452.2" y2="468.2" stroke="#e0ccc4" stroke-width="3.0" stroke-linecap="round"/><circle cx="424.7" cy="467.4" r="1.0" fill="url(#gH)" /><circle cx="427.9" cy="467.4" r="1.6" fill="url(#gN)" /><circle cx="431.1" cy="467.4" r="1.5" fill="url(#gC)" /><circle cx="434.3" cy="467.4" r="1.6" fill="url(#gC)" /><circle cx="437.6" cy="467.4" r="1.9" fill="url(#gNi)" /><circle cx="440.8" cy="467.4" r="1.6" fill="url(#gC)" /><circle cx="444.0" cy="467.4" r="1.5" fill="url(#gC)" /><circle cx="447.2" cy="467.4" r="1.6" fill="url(#gN)" /><circle cx="450.4" cy="467.4" r="1.0" fill="url(#gH)" /><circle cx="426.1" cy="469.0" r="1.0" fill="url(#gH)" /><circle cx="429.3" cy="469.0" r="1.6" fill="url(#gN)" /><circle cx="432.5" cy="469.0" r="1.5" fill="url(#gC)" /><circle cx="435.7" cy="469.0" r="1.6" fill="url(#gC)" /><circle cx="438.9" cy="469.0" r="1.9" fill="url(#gNi)" /><circle cx="442.2" cy="469.0" r="1.6" fill="url(#gC)" /><circle cx="445.4" cy="469.0" r="1.5" fill="url(#gC)" /><circle cx="448.6" cy="469.0" r="1.6" fill="url(#gN)" /><circle cx="451.8" cy="469.0" r="1.0" fill="url(#gH)" /><line x1="438.2" y1="468.2" x2="437.6" y2="474.6" stroke="#c8c8c8" stroke-width="1.2"/><line x1="437.6" y1="474.6" x2="437.0" y2="481.0" stroke="#d84040" stroke-width="1.2"/><line x1="417.3" y1="397.4" x2="416.1" y2="400.1" stroke="#ecd0d0" stroke-width="1.4"/><circle cx="416.1" cy="400.1" r="1.3" fill="#f8eaea" stroke="#d8a4a4" stroke-width="0.45"/><line x1="417.3" y1="397.4" x2="419.3" y2="399.5" stroke="#ecd0d0" stroke-width="1.4"/><circle cx="419.3" cy="399.5" r="1.3" fill="#f8eaea" stroke="#d8a4a4" stroke-width="0.45"/><circle cx="417.3" cy="397.4" r="1.75" fill="url(#gO2)"/><line x1="384.9" y1="410.0" x2="385.6" y2="412.8" stroke="#ecd0d0" stroke-width="1.4"/><circle cx="385.6" cy="412.8" r="1.3" fill="#f8eaea" stroke="#d8a4a4" stroke-width="0.45"/><line x1="384.9" y1="410.0" x2="382.0" y2="409.9" stroke="#ecd0d0" stroke-width="1.4"/><circle cx="382.0" cy="409.9" r="1.3" fill="#f8eaea" stroke="#d8a4a4" stroke-width="0.45"/><circle cx="384.9" cy="410.0" r="1.75" fill="url(#gO2)"/><line x1="408.3" y1="409.6" x2="407.3" y2="412.3" stroke="#ecd0d0" stroke-width="1.4"/><circle cx="407.3" cy="412.3" r="1.3" fill="#f8eaea" stroke="#d8a4a4" stroke-width="0.45"/><line x1="408.3" y1="409.6" x2="406.0" y2="407.9" stroke="#ecd0d0" stroke-width="1.4"/><circle cx="406.0" cy="407.9" r="1.3" fill="#f8eaea" stroke="#d8a4a4" stroke-width="0.45"/><circle cx="408.3" cy="409.6" r="1.75" fill="url(#gO2)"/><line x1="426.3" y1="410.0" x2="424.7" y2="412.4" stroke="#ecd0d0" stroke-width="1.4"/><circle cx="424.7" cy="412.4" r="1.3" fill="#f8eaea" stroke="#d8a4a4" stroke-width="0.45"/><line x1="426.3" y1="410.0" x2="429.2" y2="409.6" stroke="#ecd0d0" stroke-width="1.4"/><circle cx="429.2" cy="409.6" r="1.3" fill="#f8eaea" stroke="#d8a4a4" stroke-width="0.45"/><circle cx="426.3" cy="410.0" r="1.75" fill="url(#gO2)"/><line x1="437.1" y1="408.6" x2="438.2" y2="411.3" stroke="#ecd0d0" stroke-width="1.4"/><circle cx="438.2" cy="411.3" r="1.3" fill="#f8eaea" stroke="#d8a4a4" stroke-width="0.45"/><line x1="437.1" y1="408.6" x2="434.2" y2="408.7" stroke="#ecd0d0" stroke-width="1.4"/><circle cx="434.2" cy="408.7" r="1.3" fill="#f8eaea" stroke="#d8a4a4" stroke-width="0.45"/><circle cx="437.1" cy="408.6" r="1.75" fill="url(#gO2)"/><line x1="397.5" y1="419.0" x2="399.6" y2="421.0" stroke="#ecd0d0" stroke-width="1.4"/><circle cx="399.6" cy="421.0" r="1.3" fill="#f8eaea" stroke="#d8a4a4" stroke-width="0.45"/><line x1="397.5" y1="419.0" x2="394.6" y2="419.3" stroke="#ecd0d0" stroke-width="1.4"/><circle cx="394.6" cy="419.3" r="1.3" fill="#f8eaea" stroke="#d8a4a4" stroke-width="0.45"/><circle cx="397.5" cy="419.0" r="1.75" fill="url(#gO2)"/><line x1="421.8" y1="415.0" x2="424.0" y2="413.1" stroke="#ecd0d0" stroke-width="1.4"/><circle cx="424.0" cy="413.1" r="1.3" fill="#f8eaea" stroke="#d8a4a4" stroke-width="0.45"/><line x1="421.8" y1="415.0" x2="419.4" y2="413.3" stroke="#ecd0d0" stroke-width="1.4"/><circle cx="419.4" cy="413.3" r="1.3" fill="#f8eaea" stroke="#d8a4a4" stroke-width="0.45"/><circle cx="421.8" cy="415.0" r="1.75" fill="url(#gO2)"/><line x1="438.9" y1="418.6" x2="437.7" y2="416.0" stroke="#ecd0d0" stroke-width="1.4"/><circle cx="437.7" cy="416.0" r="1.3" fill="#f8eaea" stroke="#d8a4a4" stroke-width="0.45"/><line x1="438.9" y1="418.6" x2="441.5" y2="420.0" stroke="#ecd0d0" stroke-width="1.4"/><circle cx="441.5" cy="420.0" r="1.3" fill="#f8eaea" stroke="#d8a4a4" stroke-width="0.45"/><circle cx="438.9" cy="418.6" r="1.75" fill="url(#gO2)"/><line x1="389.4" y1="421.7" x2="392.3" y2="421.4" stroke="#ecd0d0" stroke-width="1.4"/><circle cx="392.3" cy="421.4" r="1.3" fill="#f8eaea" stroke="#d8a4a4" stroke-width="0.45"/><line x1="389.4" y1="421.7" x2="388.7" y2="418.9" stroke="#ecd0d0" stroke-width="1.4"/><circle cx="388.7" cy="418.9" r="1.3" fill="#f8eaea" stroke="#d8a4a4" stroke-width="0.45"/><circle cx="389.4" cy="421.7" r="1.75" fill="url(#gO2)"/><line x1="402.0" y1="421.7" x2="399.4" y2="420.3" stroke="#ecd0d0" stroke-width="1.4"/><circle cx="399.4" cy="420.3" r="1.3" fill="#f8eaea" stroke="#d8a4a4" stroke-width="0.45"/><line x1="402.0" y1="421.7" x2="400.4" y2="424.1" stroke="#ecd0d0" stroke-width="1.4"/><circle cx="400.4" cy="424.1" r="1.3" fill="#f8eaea" stroke="#d8a4a4" stroke-width="0.45"/><circle cx="402.0" cy="421.7" r="1.75" fill="url(#gO2)"/><line x1="448.8" y1="425.3" x2="451.1" y2="427.1" stroke="#ecd0d0" stroke-width="1.4"/><circle cx="451.1" cy="427.1" r="1.3" fill="#f8eaea" stroke="#d8a4a4" stroke-width="0.45"/><line x1="448.8" y1="425.3" x2="446.7" y2="423.3" stroke="#ecd0d0" stroke-width="1.4"/><circle cx="446.7" cy="423.3" r="1.3" fill="#f8eaea" stroke="#d8a4a4" stroke-width="0.45"/><circle cx="448.8" cy="425.3" r="1.75" fill="url(#gO2)"/><line x1="398.4" y1="430.7" x2="399.2" y2="427.9" stroke="#ecd0d0" stroke-width="1.4"/><circle cx="399.2" cy="427.9" r="1.3" fill="#f8eaea" stroke="#d8a4a4" stroke-width="0.45"/><line x1="398.4" y1="430.7" x2="400.9" y2="432.2" stroke="#ecd0d0" stroke-width="1.4"/><circle cx="400.9" cy="432.2" r="1.3" fill="#f8eaea" stroke="#d8a4a4" stroke-width="0.45"/><circle cx="398.4" cy="430.7" r="1.75" fill="url(#gO2)"/><line x1="411.0" y1="432.5" x2="413.8" y2="431.9" stroke="#ecd0d0" stroke-width="1.4"/><circle cx="413.8" cy="431.9" r="1.3" fill="#f8eaea" stroke="#d8a4a4" stroke-width="0.45"/><line x1="411.0" y1="432.5" x2="410.8" y2="435.4" stroke="#ecd0d0" stroke-width="1.4"/><circle cx="410.8" cy="435.4" r="1.3" fill="#f8eaea" stroke="#d8a4a4" stroke-width="0.45"/><circle cx="411.0" cy="432.5" r="1.75" fill="url(#gO2)"/><line x1="417.8" y1="431.2" x2="420.6" y2="430.5" stroke="#ecd0d0" stroke-width="1.4"/><circle cx="420.6" cy="430.5" r="1.3" fill="#f8eaea" stroke="#d8a4a4" stroke-width="0.45"/><line x1="417.8" y1="431.2" x2="414.9" y2="431.1" stroke="#ecd0d0" stroke-width="1.4"/><circle cx="414.9" cy="431.1" r="1.3" fill="#f8eaea" stroke="#d8a4a4" stroke-width="0.45"/><circle cx="417.8" cy="431.2" r="1.75" fill="url(#gO2)"/><line x1="423.2" y1="430.2" x2="420.4" y2="431.0" stroke="#ecd0d0" stroke-width="1.4"/><circle cx="420.4" cy="431.0" r="1.3" fill="#f8eaea" stroke="#d8a4a4" stroke-width="0.45"/><line x1="423.2" y1="430.2" x2="426.0" y2="430.8" stroke="#ecd0d0" stroke-width="1.4"/><circle cx="426.0" cy="430.8" r="1.3" fill="#f8eaea" stroke="#d8a4a4" stroke-width="0.45"/><circle cx="423.2" cy="430.2" r="1.75" fill="url(#gO2)"/><line x1="431.7" y1="434.3" x2="428.9" y2="433.7" stroke="#ecd0d0" stroke-width="1.4"/><circle cx="428.9" cy="433.7" r="1.3" fill="#f8eaea" stroke="#d8a4a4" stroke-width="0.45"/><line x1="431.7" y1="434.3" x2="434.5" y2="435.2" stroke="#ecd0d0" stroke-width="1.4"/><circle cx="434.5" cy="435.2" r="1.3" fill="#f8eaea" stroke="#d8a4a4" stroke-width="0.45"/><circle cx="431.7" cy="434.3" r="1.75" fill="url(#gO2)"/><line x1="434.4" y1="434.3" x2="436.6" y2="436.2" stroke="#ecd0d0" stroke-width="1.4"/><circle cx="436.6" cy="436.2" r="1.3" fill="#f8eaea" stroke="#d8a4a4" stroke-width="0.45"/><line x1="434.4" y1="434.3" x2="431.6" y2="433.5" stroke="#ecd0d0" stroke-width="1.4"/><circle cx="431.6" cy="433.5" r="1.3" fill="#f8eaea" stroke="#d8a4a4" stroke-width="0.45"/><circle cx="434.4" cy="434.3" r="1.75" fill="url(#gO2)"/><line x1="455.1" y1="429.8" x2="452.6" y2="428.4" stroke="#ecd0d0" stroke-width="1.4"/><circle cx="452.6" cy="428.4" r="1.3" fill="#f8eaea" stroke="#d8a4a4" stroke-width="0.45"/><line x1="455.1" y1="429.8" x2="455.3" y2="432.7" stroke="#ecd0d0" stroke-width="1.4"/><circle cx="455.3" cy="432.7" r="1.3" fill="#f8eaea" stroke="#d8a4a4" stroke-width="0.45"/><circle cx="455.1" cy="429.8" r="1.75" fill="url(#gO2)"/><line x1="442.5" y1="439.7" x2="440.5" y2="437.6" stroke="#ecd0d0" stroke-width="1.4"/><circle cx="440.5" cy="437.6" r="1.3" fill="#f8eaea" stroke="#d8a4a4" stroke-width="0.45"/><line x1="442.5" y1="439.7" x2="440.8" y2="442.1" stroke="#ecd0d0" stroke-width="1.4"/><circle cx="440.8" cy="442.1" r="1.3" fill="#f8eaea" stroke="#d8a4a4" stroke-width="0.45"/><circle cx="442.5" cy="439.7" r="1.75" fill="url(#gO2)"/><line x1="453.3" y1="443.3" x2="450.4" y2="442.8" stroke="#ecd0d0" stroke-width="1.4"/><circle cx="450.4" cy="442.8" r="1.3" fill="#f8eaea" stroke="#d8a4a4" stroke-width="0.45"/><line x1="453.3" y1="443.3" x2="453.0" y2="440.4" stroke="#ecd0d0" stroke-width="1.4"/><circle cx="453.0" cy="440.4" r="1.3" fill="#f8eaea" stroke="#d8a4a4" stroke-width="0.45"/><circle cx="453.3" cy="443.3" r="1.75" fill="url(#gO2)"/><line x1="436.2" y1="447.8" x2="438.9" y2="448.9" stroke="#ecd0d0" stroke-width="1.4"/><circle cx="438.9" cy="448.9" r="1.3" fill="#f8eaea" stroke="#d8a4a4" stroke-width="0.45"/><line x1="436.2" y1="447.8" x2="437.0" y2="450.6" stroke="#ecd0d0" stroke-width="1.4"/><circle cx="437.0" cy="450.6" r="1.3" fill="#f8eaea" stroke="#d8a4a4" stroke-width="0.45"/><circle cx="436.2" cy="447.8" r="1.75" fill="url(#gO2)"/><line x1="442.5" y1="452.3" x2="440.1" y2="454.0" stroke="#ecd0d0" stroke-width="1.4"/><circle cx="440.1" cy="454.0" r="1.3" fill="#f8eaea" stroke="#d8a4a4" stroke-width="0.45"/><line x1="442.5" y1="452.3" x2="439.9" y2="451.1" stroke="#ecd0d0" stroke-width="1.4"/><circle cx="439.9" cy="451.1" r="1.3" fill="#f8eaea" stroke="#d8a4a4" stroke-width="0.45"/><circle cx="442.5" cy="452.3" r="1.75" fill="url(#gO2)"/><line x1="437.1" y1="456.8" x2="438.8" y2="454.5" stroke="#ecd0d0" stroke-width="1.4"/><circle cx="438.8" cy="454.5" r="1.3" fill="#f8eaea" stroke="#d8a4a4" stroke-width="0.45"/><line x1="437.1" y1="456.8" x2="438.8" y2="459.1" stroke="#ecd0d0" stroke-width="1.4"/><circle cx="438.8" cy="459.1" r="1.3" fill="#f8eaea" stroke="#d8a4a4" stroke-width="0.45"/><circle cx="437.1" cy="456.8" r="1.75" fill="url(#gO2)"/><line x1="437.0" y1="481.0" x2="437.0" y2="483.9" stroke="#ecd0d0" stroke-width="1.4"/><circle cx="437.0" cy="483.9" r="1.3" fill="#f8eaea" stroke="#d8a4a4" stroke-width="0.45"/><line x1="437.0" y1="481.0" x2="439.8" y2="480.2" stroke="#ecd0d0" stroke-width="1.4"/><circle cx="439.8" cy="480.2" r="1.3" fill="#f8eaea" stroke="#d8a4a4" stroke-width="0.45"/><circle cx="437.0" cy="481.0" r="1.75" fill="url(#gO2)"/>
<line x1="547.7" y1="411.9" x2="543.5" y2="421.7" stroke="#bcbcbc" stroke-width="0.75" stroke-dasharray="1.2,1.2"/><line x1="552.9" y1="432.2" x2="562.4" y2="438.5" stroke="#bcbcbc" stroke-width="0.75" stroke-dasharray="1.2,1.2"/><line x1="528.8" y1="405.6" x2="516.9" y2="411.2" stroke="#bcbcbc" stroke-width="0.75" stroke-dasharray="1.2,1.2"/><line x1="548.7" y1="406.4" x2="547.7" y2="411.9" stroke="#bcbcbc" stroke-width="0.75" stroke-dasharray="1.2,1.2"/><line x1="560.3" y1="444.2" x2="562.4" y2="451.7" stroke="#bcbcbc" stroke-width="0.75" stroke-dasharray="1.2,1.2"/><line x1="561.7" y1="403.9" x2="565.5" y2="417.5" stroke="#bcbcbc" stroke-width="0.75" stroke-dasharray="1.2,1.2"/><line x1="562.4" y1="451.7" x2="555.5" y2="455.9" stroke="#bcbcbc" stroke-width="0.75" stroke-dasharray="1.2,1.2"/><line x1="502.6" y1="411.9" x2="497.3" y2="414.4" stroke="#bcbcbc" stroke-width="0.75" stroke-dasharray="1.2,1.2"/><line x1="497.3" y1="414.4" x2="501.5" y2="425.3" stroke="#bcbcbc" stroke-width="0.75" stroke-dasharray="1.2,1.2"/><line x1="536.6" y1="399.3" x2="528.8" y2="405.6" stroke="#bcbcbc" stroke-width="0.75" stroke-dasharray="1.2,1.2"/><line x1="571.4" y1="433.7" x2="560.3" y2="444.2" stroke="#bcbcbc" stroke-width="0.75" stroke-dasharray="1.2,1.2"/><line x1="514.1" y1="404.9" x2="502.6" y2="411.9" stroke="#bcbcbc" stroke-width="0.75" stroke-dasharray="1.2,1.2"/><line x1="508.9" y1="417.5" x2="520.4" y2="427.0" stroke="#bcbcbc" stroke-width="0.75" stroke-dasharray="1.2,1.2"/><line x1="516.9" y1="411.2" x2="508.9" y2="417.5" stroke="#bcbcbc" stroke-width="0.75" stroke-dasharray="1.2,1.2"/><line x1="558.2" y1="424.9" x2="571.4" y2="433.7" stroke="#bcbcbc" stroke-width="0.75" stroke-dasharray="1.2,1.2"/><line x1="548.7" y1="406.4" x2="561.7" y2="403.9" stroke="#bcbcbc" stroke-width="0.75" stroke-dasharray="1.2,1.2"/><line x1="561.7" y1="403.9" x2="547.7" y2="411.9" stroke="#bcbcbc" stroke-width="0.75" stroke-dasharray="1.2,1.2"/><line x1="562.4" y1="438.5" x2="562.4" y2="451.7" stroke="#bcbcbc" stroke-width="0.75" stroke-dasharray="1.2,1.2"/><line x1="543.5" y1="421.7" x2="552.9" y2="432.2" stroke="#bcbcbc" stroke-width="0.75" stroke-dasharray="1.2,1.2"/><line x1="523.6" y1="389.6" x2="536.6" y2="399.3" stroke="#bcbcbc" stroke-width="0.75" stroke-dasharray="1.2,1.2"/><line x1="497.3" y1="414.4" x2="508.9" y2="417.5" stroke="#bcbcbc" stroke-width="0.75" stroke-dasharray="1.2,1.2"/><line x1="502.6" y1="411.9" x2="501.5" y2="425.3" stroke="#bcbcbc" stroke-width="0.75" stroke-dasharray="1.2,1.2"/><line x1="548.7" y1="431.6" x2="562.4" y2="438.5" stroke="#bcbcbc" stroke-width="0.75" stroke-dasharray="1.2,1.2"/><line x1="514.1" y1="404.9" x2="516.9" y2="411.2" stroke="#bcbcbc" stroke-width="0.75" stroke-dasharray="1.2,1.2"/><line x1="514.1" y1="404.9" x2="508.9" y2="417.5" stroke="#bcbcbc" stroke-width="0.75" stroke-dasharray="1.2,1.2"/><line x1="571.4" y1="433.7" x2="562.4" y2="438.5" stroke="#bcbcbc" stroke-width="0.75" stroke-dasharray="1.2,1.2"/><line x1="565.5" y1="417.5" x2="558.2" y2="424.9" stroke="#bcbcbc" stroke-width="0.75" stroke-dasharray="1.2,1.2"/><line x1="558.2" y1="424.9" x2="552.9" y2="432.2" stroke="#bcbcbc" stroke-width="0.75" stroke-dasharray="1.2,1.2"/><line x1="516.9" y1="411.2" x2="520.4" y2="427.0" stroke="#bcbcbc" stroke-width="0.75" stroke-dasharray="1.2,1.2"/><line x1="560.3" y1="444.2" x2="555.5" y2="455.9" stroke="#bcbcbc" stroke-width="0.75" stroke-dasharray="1.2,1.2"/><line x1="528.8" y1="405.6" x2="535.1" y2="419.6" stroke="#bcbcbc" stroke-width="0.75" stroke-dasharray="1.2,1.2"/><line x1="562.4" y1="438.5" x2="560.3" y2="444.2" stroke="#bcbcbc" stroke-width="0.75" stroke-dasharray="1.2,1.2"/><line x1="543.5" y1="421.7" x2="548.7" y2="431.6" stroke="#bcbcbc" stroke-width="0.75" stroke-dasharray="1.2,1.2"/><line x1="523.6" y1="389.6" x2="528.8" y2="405.6" stroke="#bcbcbc" stroke-width="0.75" stroke-dasharray="1.2,1.2"/><line x1="502.6" y1="411.9" x2="508.9" y2="417.5" stroke="#bcbcbc" stroke-width="0.75" stroke-dasharray="1.2,1.2"/><line x1="536.6" y1="399.3" x2="548.7" y2="406.4" stroke="#bcbcbc" stroke-width="0.75" stroke-dasharray="1.2,1.2"/><line x1="535.1" y1="419.6" x2="543.5" y2="421.7" stroke="#bcbcbc" stroke-width="0.75" stroke-dasharray="1.2,1.2"/><line x1="535.1" y1="419.6" x2="520.4" y2="427.0" stroke="#bcbcbc" stroke-width="0.75" stroke-dasharray="1.2,1.2"/><line x1="558.2" y1="424.9" x2="548.7" y2="431.6" stroke="#bcbcbc" stroke-width="0.75" stroke-dasharray="1.2,1.2"/><line x1="526.7" y1="436.4" x2="549.8" y2="453.2" stroke="#e0ccc4" stroke-width="3.0" stroke-linecap="round"/><circle cx="527.5" cy="436.0" r="1.0" fill="url(#gH)" /><circle cx="530.2" cy="437.9" r="1.6" fill="url(#gN)" /><circle cx="532.8" cy="439.9" r="1.5" fill="url(#gC)" /><circle cx="535.5" cy="441.8" r="1.6" fill="url(#gC)" /><circle cx="538.1" cy="443.7" r="1.9" fill="url(#gNi)" /><circle cx="540.8" cy="445.7" r="1.6" fill="url(#gC)" /><circle cx="543.5" cy="447.6" r="1.5" fill="url(#gC)" /><circle cx="546.1" cy="449.5" r="1.6" fill="url(#gN)" /><circle cx="548.8" cy="451.5" r="1.0" fill="url(#gH)" /><circle cx="527.7" cy="438.1" r="1.0" fill="url(#gH)" /><circle cx="530.4" cy="440.1" r="1.6" fill="url(#gN)" /><circle cx="533.0" cy="442.0" r="1.5" fill="url(#gC)" /><circle cx="535.7" cy="443.9" r="1.6" fill="url(#gC)" /><circle cx="538.4" cy="445.9" r="1.9" fill="url(#gNi)" /><circle cx="541.0" cy="447.8" r="1.6" fill="url(#gC)" /><circle cx="543.7" cy="449.7" r="1.5" fill="url(#gC)" /><circle cx="546.3" cy="451.7" r="1.6" fill="url(#gN)" /><circle cx="549.0" cy="453.6" r="1.0" fill="url(#gH)" /><line x1="538.2" y1="468.9" x2="566.6" y2="471.4" stroke="#e0ccc4" stroke-width="3.0" stroke-linecap="round"/><circle cx="538.7" cy="468.1" r="1.0" fill="url(#gH)" /><circle cx="542.0" cy="468.4" r="1.6" fill="url(#gN)" /><circle cx="545.2" cy="468.7" r="1.5" fill="url(#gC)" /><circle cx="548.5" cy="469.0" r="1.6" fill="url(#gC)" /><circle cx="551.8" cy="469.3" r="1.9" fill="url(#gNi)" /><circle cx="555.0" cy="469.6" r="1.6" fill="url(#gC)" /><circle cx="558.3" cy="469.9" r="1.5" fill="url(#gC)" /><circle cx="561.6" cy="470.2" r="1.6" fill="url(#gN)" /><circle cx="564.8" cy="470.4" r="1.0" fill="url(#gH)" /><circle cx="540.0" cy="469.9" r="1.0" fill="url(#gH)" /><circle cx="543.2" cy="470.1" r="1.6" fill="url(#gN)" /><circle cx="546.5" cy="470.4" r="1.5" fill="url(#gC)" /><circle cx="549.8" cy="470.7" r="1.6" fill="url(#gC)" /><circle cx="553.0" cy="471.0" r="1.9" fill="url(#gNi)" /><circle cx="556.3" cy="471.3" r="1.6" fill="url(#gC)" /><circle cx="559.6" cy="471.6" r="1.5" fill="url(#gC)" /><circle cx="562.8" cy="471.9" r="1.6" fill="url(#gN)" /><circle cx="566.1" cy="472.2" r="1.0" fill="url(#gH)" /><line x1="552.4" y1="470.1" x2="552.2" y2="476.0" stroke="#c8c8c8" stroke-width="1.2"/><line x1="552.2" y1="476.0" x2="551.9" y2="481.9" stroke="#d84040" stroke-width="1.2"/><line x1="523.6" y1="389.6" x2="525.5" y2="391.8" stroke="#ecd0d0" stroke-width="1.4"/><circle cx="525.5" cy="391.8" r="1.3" fill="#f8eaea" stroke="#d8a4a4" stroke-width="0.45"/><line x1="523.6" y1="389.6" x2="521.0" y2="390.8" stroke="#ecd0d0" stroke-width="1.4"/><circle cx="521.0" cy="390.8" r="1.3" fill="#f8eaea" stroke="#d8a4a4" stroke-width="0.45"/><circle cx="523.6" cy="389.6" r="1.75" fill="url(#gO2)"/><line x1="536.6" y1="399.3" x2="534.1" y2="400.8" stroke="#ecd0d0" stroke-width="1.4"/><circle cx="534.1" cy="400.8" r="1.3" fill="#f8eaea" stroke="#d8a4a4" stroke-width="0.45"/><line x1="536.6" y1="399.3" x2="538.7" y2="401.3" stroke="#ecd0d0" stroke-width="1.4"/><circle cx="538.7" cy="401.3" r="1.3" fill="#f8eaea" stroke="#d8a4a4" stroke-width="0.45"/><circle cx="536.6" cy="399.3" r="1.75" fill="url(#gO2)"/><line x1="514.1" y1="404.9" x2="514.7" y2="407.7" stroke="#ecd0d0" stroke-width="1.4"/><circle cx="514.7" cy="407.7" r="1.3" fill="#f8eaea" stroke="#d8a4a4" stroke-width="0.45"/><line x1="514.1" y1="404.9" x2="511.7" y2="406.6" stroke="#ecd0d0" stroke-width="1.4"/><circle cx="511.7" cy="406.6" r="1.3" fill="#f8eaea" stroke="#d8a4a4" stroke-width="0.45"/><circle cx="514.1" cy="404.9" r="1.75" fill="url(#gO2)"/><line x1="528.8" y1="405.6" x2="530.9" y2="403.6" stroke="#ecd0d0" stroke-width="1.4"/><circle cx="530.9" cy="403.6" r="1.3" fill="#f8eaea" stroke="#d8a4a4" stroke-width="0.45"/><line x1="528.8" y1="405.6" x2="526.2" y2="406.8" stroke="#ecd0d0" stroke-width="1.4"/><circle cx="526.2" cy="406.8" r="1.3" fill="#f8eaea" stroke="#d8a4a4" stroke-width="0.45"/><circle cx="528.8" cy="405.6" r="1.75" fill="url(#gO2)"/><line x1="548.7" y1="406.4" x2="547.8" y2="409.2" stroke="#ecd0d0" stroke-width="1.4"/><circle cx="547.8" cy="409.2" r="1.3" fill="#f8eaea" stroke="#d8a4a4" stroke-width="0.45"/><line x1="548.7" y1="406.4" x2="551.4" y2="405.3" stroke="#ecd0d0" stroke-width="1.4"/><circle cx="551.4" cy="405.3" r="1.3" fill="#f8eaea" stroke="#d8a4a4" stroke-width="0.45"/><circle cx="548.7" cy="406.4" r="1.75" fill="url(#gO2)"/><line x1="561.7" y1="403.9" x2="558.8" y2="404.1" stroke="#ecd0d0" stroke-width="1.4"/><circle cx="558.8" cy="404.1" r="1.3" fill="#f8eaea" stroke="#d8a4a4" stroke-width="0.45"/><line x1="561.7" y1="403.9" x2="562.1" y2="406.8" stroke="#ecd0d0" stroke-width="1.4"/><circle cx="562.1" cy="406.8" r="1.3" fill="#f8eaea" stroke="#d8a4a4" stroke-width="0.45"/><circle cx="561.7" cy="403.9" r="1.75" fill="url(#gO2)"/><line x1="547.7" y1="411.9" x2="548.7" y2="409.2" stroke="#ecd0d0" stroke-width="1.4"/><circle cx="548.7" cy="409.2" r="1.3" fill="#f8eaea" stroke="#d8a4a4" stroke-width="0.45"/><line x1="547.7" y1="411.9" x2="547.2" y2="414.8" stroke="#ecd0d0" stroke-width="1.4"/><circle cx="547.2" cy="414.8" r="1.3" fill="#f8eaea" stroke="#d8a4a4" stroke-width="0.45"/><circle cx="547.7" cy="411.9" r="1.75" fill="url(#gO2)"/><line x1="516.9" y1="411.2" x2="516.3" y2="408.4" stroke="#ecd0d0" stroke-width="1.4"/><circle cx="516.3" cy="408.4" r="1.3" fill="#f8eaea" stroke="#d8a4a4" stroke-width="0.45"/><line x1="516.9" y1="411.2" x2="515.0" y2="413.4" stroke="#ecd0d0" stroke-width="1.4"/><circle cx="515.0" cy="413.4" r="1.3" fill="#f8eaea" stroke="#d8a4a4" stroke-width="0.45"/><circle cx="516.9" cy="411.2" r="1.75" fill="url(#gO2)"/><line x1="502.6" y1="411.9" x2="500.1" y2="413.3" stroke="#ecd0d0" stroke-width="1.4"/><circle cx="500.1" cy="413.3" r="1.3" fill="#f8eaea" stroke="#d8a4a4" stroke-width="0.45"/><line x1="502.6" y1="411.9" x2="504.7" y2="413.9" stroke="#ecd0d0" stroke-width="1.4"/><circle cx="504.7" cy="413.9" r="1.3" fill="#f8eaea" stroke="#d8a4a4" stroke-width="0.45"/><circle cx="502.6" cy="411.9" r="1.75" fill="url(#gO2)"/><line x1="497.3" y1="414.4" x2="500.1" y2="413.7" stroke="#ecd0d0" stroke-width="1.4"/><circle cx="500.1" cy="413.7" r="1.3" fill="#f8eaea" stroke="#d8a4a4" stroke-width="0.45"/><line x1="497.3" y1="414.4" x2="498.6" y2="417.0" stroke="#ecd0d0" stroke-width="1.4"/><circle cx="498.6" cy="417.0" r="1.3" fill="#f8eaea" stroke="#d8a4a4" stroke-width="0.45"/><circle cx="497.3" cy="414.4" r="1.75" fill="url(#gO2)"/><line x1="508.9" y1="417.5" x2="507.2" y2="415.2" stroke="#ecd0d0" stroke-width="1.4"/><circle cx="507.2" cy="415.2" r="1.3" fill="#f8eaea" stroke="#d8a4a4" stroke-width="0.45"/><line x1="508.9" y1="417.5" x2="511.2" y2="415.8" stroke="#ecd0d0" stroke-width="1.4"/><circle cx="511.2" cy="415.8" r="1.3" fill="#f8eaea" stroke="#d8a4a4" stroke-width="0.45"/><circle cx="508.9" cy="417.5" r="1.75" fill="url(#gO2)"/><line x1="535.1" y1="419.6" x2="538.0" y2="420.0" stroke="#ecd0d0" stroke-width="1.4"/><circle cx="538.0" cy="420.0" r="1.3" fill="#f8eaea" stroke="#d8a4a4" stroke-width="0.45"/><line x1="535.1" y1="419.6" x2="533.9" y2="422.2" stroke="#ecd0d0" stroke-width="1.4"/><circle cx="533.9" cy="422.2" r="1.3" fill="#f8eaea" stroke="#d8a4a4" stroke-width="0.45"/><circle cx="535.1" cy="419.6" r="1.75" fill="url(#gO2)"/><line x1="543.5" y1="421.7" x2="540.6" y2="421.5" stroke="#ecd0d0" stroke-width="1.4"/><circle cx="540.6" cy="421.5" r="1.3" fill="#f8eaea" stroke="#d8a4a4" stroke-width="0.45"/><line x1="543.5" y1="421.7" x2="544.1" y2="418.9" stroke="#ecd0d0" stroke-width="1.4"/><circle cx="544.1" cy="418.9" r="1.3" fill="#f8eaea" stroke="#d8a4a4" stroke-width="0.45"/><circle cx="543.5" cy="421.7" r="1.75" fill="url(#gO2)"/><line x1="565.5" y1="417.5" x2="563.9" y2="419.9" stroke="#ecd0d0" stroke-width="1.4"/><circle cx="563.9" cy="419.9" r="1.3" fill="#f8eaea" stroke="#d8a4a4" stroke-width="0.45"/><line x1="565.5" y1="417.5" x2="565.0" y2="414.6" stroke="#ecd0d0" stroke-width="1.4"/><circle cx="565.0" cy="414.6" r="1.3" fill="#f8eaea" stroke="#d8a4a4" stroke-width="0.45"/><circle cx="565.5" cy="417.5" r="1.75" fill="url(#gO2)"/><line x1="501.5" y1="425.3" x2="504.0" y2="423.8" stroke="#ecd0d0" stroke-width="1.4"/><circle cx="504.0" cy="423.8" r="1.3" fill="#f8eaea" stroke="#d8a4a4" stroke-width="0.45"/><line x1="501.5" y1="425.3" x2="500.0" y2="422.8" stroke="#ecd0d0" stroke-width="1.4"/><circle cx="500.0" cy="422.8" r="1.3" fill="#f8eaea" stroke="#d8a4a4" stroke-width="0.45"/><circle cx="501.5" cy="425.3" r="1.75" fill="url(#gO2)"/><line x1="520.4" y1="427.0" x2="517.8" y2="425.7" stroke="#ecd0d0" stroke-width="1.4"/><circle cx="517.8" cy="425.7" r="1.3" fill="#f8eaea" stroke="#d8a4a4" stroke-width="0.45"/><line x1="520.4" y1="427.0" x2="520.5" y2="424.1" stroke="#ecd0d0" stroke-width="1.4"/><circle cx="520.5" cy="424.1" r="1.3" fill="#f8eaea" stroke="#d8a4a4" stroke-width="0.45"/><circle cx="520.4" cy="427.0" r="1.75" fill="url(#gO2)"/><line x1="558.2" y1="424.9" x2="556.5" y2="427.2" stroke="#ecd0d0" stroke-width="1.4"/><circle cx="556.5" cy="427.2" r="1.3" fill="#f8eaea" stroke="#d8a4a4" stroke-width="0.45"/><line x1="558.2" y1="424.9" x2="560.1" y2="422.7" stroke="#ecd0d0" stroke-width="1.4"/><circle cx="560.1" cy="422.7" r="1.3" fill="#f8eaea" stroke="#d8a4a4" stroke-width="0.45"/><circle cx="558.2" cy="424.9" r="1.75" fill="url(#gO2)"/><line x1="548.7" y1="431.6" x2="547.0" y2="429.2" stroke="#ecd0d0" stroke-width="1.4"/><circle cx="547.0" cy="429.2" r="1.3" fill="#f8eaea" stroke="#d8a4a4" stroke-width="0.45"/><line x1="548.7" y1="431.6" x2="551.1" y2="430.0" stroke="#ecd0d0" stroke-width="1.4"/><circle cx="551.1" cy="430.0" r="1.3" fill="#f8eaea" stroke="#d8a4a4" stroke-width="0.45"/><circle cx="548.7" cy="431.6" r="1.75" fill="url(#gO2)"/><line x1="552.9" y1="432.2" x2="555.0" y2="430.2" stroke="#ecd0d0" stroke-width="1.4"/><circle cx="555.0" cy="430.2" r="1.3" fill="#f8eaea" stroke="#d8a4a4" stroke-width="0.45"/><line x1="552.9" y1="432.2" x2="555.4" y2="433.7" stroke="#ecd0d0" stroke-width="1.4"/><circle cx="555.4" cy="433.7" r="1.3" fill="#f8eaea" stroke="#d8a4a4" stroke-width="0.45"/><circle cx="552.9" cy="432.2" r="1.75" fill="url(#gO2)"/><line x1="571.4" y1="433.7" x2="568.9" y2="435.2" stroke="#ecd0d0" stroke-width="1.4"/><circle cx="568.9" cy="435.2" r="1.3" fill="#f8eaea" stroke="#d8a4a4" stroke-width="0.45"/><line x1="571.4" y1="433.7" x2="570.7" y2="430.9" stroke="#ecd0d0" stroke-width="1.4"/><circle cx="570.7" cy="430.9" r="1.3" fill="#f8eaea" stroke="#d8a4a4" stroke-width="0.45"/><circle cx="571.4" cy="433.7" r="1.75" fill="url(#gO2)"/><line x1="562.4" y1="438.5" x2="560.9" y2="441.0" stroke="#ecd0d0" stroke-width="1.4"/><circle cx="560.9" cy="441.0" r="1.3" fill="#f8eaea" stroke="#d8a4a4" stroke-width="0.45"/><line x1="562.4" y1="438.5" x2="564.6" y2="436.6" stroke="#ecd0d0" stroke-width="1.4"/><circle cx="564.6" cy="436.6" r="1.3" fill="#f8eaea" stroke="#d8a4a4" stroke-width="0.45"/><circle cx="562.4" cy="438.5" r="1.75" fill="url(#gO2)"/><line x1="560.3" y1="444.2" x2="561.3" y2="441.5" stroke="#ecd0d0" stroke-width="1.4"/><circle cx="561.3" cy="441.5" r="1.3" fill="#f8eaea" stroke="#d8a4a4" stroke-width="0.45"/><line x1="560.3" y1="444.2" x2="560.6" y2="447.1" stroke="#ecd0d0" stroke-width="1.4"/><circle cx="560.6" cy="447.1" r="1.3" fill="#f8eaea" stroke="#d8a4a4" stroke-width="0.45"/><circle cx="560.3" cy="444.2" r="1.75" fill="url(#gO2)"/><line x1="562.4" y1="451.7" x2="561.1" y2="449.1" stroke="#ecd0d0" stroke-width="1.4"/><circle cx="561.1" cy="449.1" r="1.3" fill="#f8eaea" stroke="#d8a4a4" stroke-width="0.45"/><line x1="562.4" y1="451.7" x2="559.8" y2="452.9" stroke="#ecd0d0" stroke-width="1.4"/><circle cx="559.8" cy="452.9" r="1.3" fill="#f8eaea" stroke="#d8a4a4" stroke-width="0.45"/><circle cx="562.4" cy="451.7" r="1.75" fill="url(#gO2)"/><line x1="555.5" y1="455.9" x2="558.3" y2="455.0" stroke="#ecd0d0" stroke-width="1.4"/><circle cx="558.3" cy="455.0" r="1.3" fill="#f8eaea" stroke="#d8a4a4" stroke-width="0.45"/><line x1="555.5" y1="455.9" x2="555.6" y2="458.8" stroke="#ecd0d0" stroke-width="1.4"/><circle cx="555.6" cy="458.8" r="1.3" fill="#f8eaea" stroke="#d8a4a4" stroke-width="0.45"/><circle cx="555.5" cy="455.9" r="1.75" fill="url(#gO2)"/><line x1="551.9" y1="481.9" x2="552.6" y2="479.1" stroke="#ecd0d0" stroke-width="1.4"/><circle cx="552.6" cy="479.1" r="1.3" fill="#f8eaea" stroke="#d8a4a4" stroke-width="0.45"/><line x1="551.9" y1="481.9" x2="554.4" y2="483.3" stroke="#ecd0d0" stroke-width="1.4"/><circle cx="554.4" cy="483.3" r="1.3" fill="#f8eaea" stroke="#d8a4a4" stroke-width="0.45"/><circle cx="551.9" cy="481.9" r="1.75" fill="url(#gO2)"/>
<line x1="672.2" y1="416.9" x2="662.1" y2="429.5" stroke="#bcbcbc" stroke-width="0.75" stroke-dasharray="1.2,1.2"/><line x1="668.8" y1="402.8" x2="672.2" y2="416.9" stroke="#bcbcbc" stroke-width="0.75" stroke-dasharray="1.2,1.2"/><line x1="627.5" y1="404.9" x2="630.2" y2="410.6" stroke="#bcbcbc" stroke-width="0.75" stroke-dasharray="1.2,1.2"/><line x1="643.2" y1="417.5" x2="633.8" y2="420.2" stroke="#bcbcbc" stroke-width="0.75" stroke-dasharray="1.2,1.2"/><line x1="661.1" y1="428.0" x2="669.5" y2="435.3" stroke="#bcbcbc" stroke-width="0.75" stroke-dasharray="1.2,1.2"/><line x1="641.6" y1="405.6" x2="643.2" y2="417.5" stroke="#bcbcbc" stroke-width="0.75" stroke-dasharray="1.2,1.2"/><line x1="678.5" y1="433.2" x2="669.5" y2="435.3" stroke="#bcbcbc" stroke-width="0.75" stroke-dasharray="1.2,1.2"/><line x1="635.9" y1="387.5" x2="640.1" y2="401.4" stroke="#bcbcbc" stroke-width="0.75" stroke-dasharray="1.2,1.2"/><line x1="610.7" y1="413.3" x2="624.4" y2="416.0" stroke="#bcbcbc" stroke-width="0.75" stroke-dasharray="1.2,1.2"/><line x1="610.7" y1="413.3" x2="615.6" y2="423.8" stroke="#bcbcbc" stroke-width="0.75" stroke-dasharray="1.2,1.2"/><line x1="662.1" y1="411.2" x2="672.2" y2="416.9" stroke="#bcbcbc" stroke-width="0.75" stroke-dasharray="1.2,1.2"/><line x1="670.5" y1="423.2" x2="662.1" y2="429.5" stroke="#bcbcbc" stroke-width="0.75" stroke-dasharray="1.2,1.2"/><line x1="624.4" y1="416.0" x2="615.6" y2="423.8" stroke="#bcbcbc" stroke-width="0.75" stroke-dasharray="1.2,1.2"/><line x1="668.8" y1="402.8" x2="662.1" y2="411.2" stroke="#bcbcbc" stroke-width="0.75" stroke-dasharray="1.2,1.2"/><line x1="630.2" y1="410.6" x2="633.8" y2="420.2" stroke="#bcbcbc" stroke-width="0.75" stroke-dasharray="1.2,1.2"/><line x1="673.0" y1="442.7" x2="667.4" y2="452.1" stroke="#bcbcbc" stroke-width="0.75" stroke-dasharray="1.2,1.2"/><line x1="659.6" y1="404.3" x2="668.8" y2="402.8" stroke="#bcbcbc" stroke-width="0.75" stroke-dasharray="1.2,1.2"/><line x1="643.2" y1="417.5" x2="632.3" y2="427.0" stroke="#bcbcbc" stroke-width="0.75" stroke-dasharray="1.2,1.2"/><line x1="669.5" y1="435.3" x2="673.0" y2="442.7" stroke="#bcbcbc" stroke-width="0.75" stroke-dasharray="1.2,1.2"/><line x1="635.9" y1="387.5" x2="646.4" y2="398.0" stroke="#bcbcbc" stroke-width="0.75" stroke-dasharray="1.2,1.2"/><line x1="610.7" y1="413.3" x2="615.6" y2="412.3" stroke="#bcbcbc" stroke-width="0.75" stroke-dasharray="1.2,1.2"/><line x1="662.1" y1="411.2" x2="651.2" y2="416.5" stroke="#bcbcbc" stroke-width="0.75" stroke-dasharray="1.2,1.2"/><line x1="646.4" y1="398.0" x2="640.1" y2="401.4" stroke="#bcbcbc" stroke-width="0.75" stroke-dasharray="1.2,1.2"/><line x1="615.6" y1="412.3" x2="624.4" y2="416.0" stroke="#bcbcbc" stroke-width="0.75" stroke-dasharray="1.2,1.2"/><line x1="640.1" y1="401.4" x2="630.2" y2="410.6" stroke="#bcbcbc" stroke-width="0.75" stroke-dasharray="1.2,1.2"/><line x1="646.4" y1="398.0" x2="659.6" y2="404.3" stroke="#bcbcbc" stroke-width="0.75" stroke-dasharray="1.2,1.2"/><line x1="624.4" y1="416.0" x2="633.8" y2="420.2" stroke="#bcbcbc" stroke-width="0.75" stroke-dasharray="1.2,1.2"/><line x1="670.5" y1="423.2" x2="661.1" y2="428.0" stroke="#bcbcbc" stroke-width="0.75" stroke-dasharray="1.2,1.2"/><line x1="615.6" y1="412.3" x2="615.6" y2="423.8" stroke="#bcbcbc" stroke-width="0.75" stroke-dasharray="1.2,1.2"/><line x1="673.0" y1="442.7" x2="673.0" y2="447.9" stroke="#bcbcbc" stroke-width="0.75" stroke-dasharray="1.2,1.2"/><line x1="672.2" y1="416.9" x2="670.5" y2="423.2" stroke="#bcbcbc" stroke-width="0.75" stroke-dasharray="1.2,1.2"/><line x1="633.8" y1="420.2" x2="632.3" y2="427.0" stroke="#bcbcbc" stroke-width="0.75" stroke-dasharray="1.2,1.2"/><line x1="641.6" y1="405.6" x2="630.2" y2="410.6" stroke="#bcbcbc" stroke-width="0.75" stroke-dasharray="1.2,1.2"/><line x1="643.2" y1="417.5" x2="651.2" y2="416.5" stroke="#bcbcbc" stroke-width="0.75" stroke-dasharray="1.2,1.2"/><line x1="627.5" y1="404.9" x2="624.4" y2="416.0" stroke="#bcbcbc" stroke-width="0.75" stroke-dasharray="1.2,1.2"/><line x1="662.1" y1="429.5" x2="669.5" y2="435.3" stroke="#bcbcbc" stroke-width="0.75" stroke-dasharray="1.2,1.2"/><line x1="641.6" y1="405.6" x2="647.0" y2="418.1" stroke="#bcbcbc" stroke-width="0.75" stroke-dasharray="1.2,1.2"/><line x1="659.6" y1="404.3" x2="662.1" y2="411.2" stroke="#bcbcbc" stroke-width="0.75" stroke-dasharray="1.2,1.2"/><line x1="678.5" y1="433.2" x2="673.0" y2="442.7" stroke="#bcbcbc" stroke-width="0.75" stroke-dasharray="1.2,1.2"/><line x1="651.2" y1="416.5" x2="661.1" y2="428.0" stroke="#bcbcbc" stroke-width="0.75" stroke-dasharray="1.2,1.2"/><line x1="646.4" y1="398.0" x2="641.6" y2="405.6" stroke="#bcbcbc" stroke-width="0.75" stroke-dasharray="1.2,1.2"/><line x1="640.1" y1="401.4" x2="627.5" y2="404.9" stroke="#bcbcbc" stroke-width="0.75" stroke-dasharray="1.2,1.2"/><line x1="662.1" y1="411.2" x2="647.0" y2="418.1" stroke="#bcbcbc" stroke-width="0.75" stroke-dasharray="1.2,1.2"/><line x1="670.5" y1="423.2" x2="678.5" y2="433.2" stroke="#bcbcbc" stroke-width="0.75" stroke-dasharray="1.2,1.2"/><line x1="624.4" y1="416.0" x2="632.3" y2="427.0" stroke="#bcbcbc" stroke-width="0.75" stroke-dasharray="1.2,1.2"/><line x1="630.2" y1="410.6" x2="624.4" y2="416.0" stroke="#bcbcbc" stroke-width="0.75" stroke-dasharray="1.2,1.2"/><line x1="673.0" y1="447.9" x2="667.4" y2="452.1" stroke="#bcbcbc" stroke-width="0.75" stroke-dasharray="1.2,1.2"/><line x1="640.1" y1="433.2" x2="657.9" y2="450.0" stroke="#e0ccc4" stroke-width="3.0" stroke-linecap="round"/><circle cx="640.9" cy="432.9" r="1.0" fill="url(#gH)" /><circle cx="643.0" cy="434.8" r="1.6" fill="url(#gN)" /><circle cx="645.0" cy="436.7" r="1.5" fill="url(#gC)" /><circle cx="647.1" cy="438.7" r="1.6" fill="url(#gC)" /><circle cx="649.1" cy="440.6" r="1.9" fill="url(#gNi)" /><circle cx="651.2" cy="442.5" r="1.6" fill="url(#gC)" /><circle cx="653.2" cy="444.5" r="1.5" fill="url(#gC)" /><circle cx="655.2" cy="446.4" r="1.6" fill="url(#gN)" /><circle cx="657.3" cy="448.3" r="1.0" fill="url(#gH)" /><circle cx="640.7" cy="434.9" r="1.0" fill="url(#gH)" /><circle cx="642.8" cy="436.8" r="1.6" fill="url(#gN)" /><circle cx="644.8" cy="438.7" r="1.5" fill="url(#gC)" /><circle cx="646.8" cy="440.7" r="1.6" fill="url(#gC)" /><circle cx="648.9" cy="442.6" r="1.9" fill="url(#gNi)" /><circle cx="650.9" cy="444.5" r="1.6" fill="url(#gC)" /><circle cx="653.0" cy="446.5" r="1.5" fill="url(#gC)" /><circle cx="655.0" cy="448.4" r="1.6" fill="url(#gN)" /><circle cx="657.1" cy="450.3" r="1.0" fill="url(#gH)" /><line x1="651.6" y1="463.7" x2="676.8" y2="467.2" stroke="#e0ccc4" stroke-width="3.0" stroke-linecap="round"/><circle cx="652.1" cy="463.0" r="1.0" fill="url(#gH)" /><circle cx="655.0" cy="463.4" r="1.6" fill="url(#gN)" /><circle cx="657.9" cy="463.8" r="1.5" fill="url(#gC)" /><circle cx="660.8" cy="464.2" r="1.6" fill="url(#gC)" /><circle cx="663.7" cy="464.6" r="1.9" fill="url(#gNi)" /><circle cx="666.6" cy="465.0" r="1.6" fill="url(#gC)" /><circle cx="669.5" cy="465.4" r="1.5" fill="url(#gC)" /><circle cx="672.4" cy="465.8" r="1.6" fill="url(#gN)" /><circle cx="675.3" cy="466.2" r="1.0" fill="url(#gH)" /><circle cx="653.1" cy="464.7" r="1.0" fill="url(#gH)" /><circle cx="656.0" cy="465.1" r="1.6" fill="url(#gN)" /><circle cx="658.9" cy="465.5" r="1.5" fill="url(#gC)" /><circle cx="661.8" cy="465.9" r="1.6" fill="url(#gC)" /><circle cx="664.7" cy="466.3" r="1.9" fill="url(#gNi)" /><circle cx="667.6" cy="466.7" r="1.6" fill="url(#gC)" /><circle cx="670.5" cy="467.1" r="1.5" fill="url(#gC)" /><circle cx="673.4" cy="467.5" r="1.6" fill="url(#gN)" /><circle cx="676.3" cy="467.9" r="1.0" fill="url(#gH)" /><line x1="664.2" y1="465.4" x2="662.4" y2="470.9" stroke="#c8c8c8" stroke-width="1.2"/><line x1="662.4" y1="470.9" x2="660.5" y2="476.3" stroke="#d84040" stroke-width="1.2"/><line x1="635.9" y1="387.5" x2="636.5" y2="390.3" stroke="#ecd0d0" stroke-width="1.4"/><circle cx="636.5" cy="390.3" r="1.3" fill="#f8eaea" stroke="#d8a4a4" stroke-width="0.45"/><line x1="635.9" y1="387.5" x2="633.0" y2="387.3" stroke="#ecd0d0" stroke-width="1.4"/><circle cx="633.0" cy="387.3" r="1.3" fill="#f8eaea" stroke="#d8a4a4" stroke-width="0.45"/><circle cx="635.9" cy="387.5" r="1.75" fill="url(#gO2)"/><line x1="646.4" y1="398.0" x2="643.9" y2="399.4" stroke="#ecd0d0" stroke-width="1.4"/><circle cx="643.9" cy="399.4" r="1.3" fill="#f8eaea" stroke="#d8a4a4" stroke-width="0.45"/><line x1="646.4" y1="398.0" x2="645.7" y2="395.2" stroke="#ecd0d0" stroke-width="1.4"/><circle cx="645.7" cy="395.2" r="1.3" fill="#f8eaea" stroke="#d8a4a4" stroke-width="0.45"/><circle cx="646.4" cy="398.0" r="1.75" fill="url(#gO2)"/><line x1="640.1" y1="401.4" x2="642.8" y2="400.4" stroke="#ecd0d0" stroke-width="1.4"/><circle cx="642.8" cy="400.4" r="1.3" fill="#f8eaea" stroke="#d8a4a4" stroke-width="0.45"/><line x1="640.1" y1="401.4" x2="637.3" y2="402.2" stroke="#ecd0d0" stroke-width="1.4"/><circle cx="637.3" cy="402.2" r="1.3" fill="#f8eaea" stroke="#d8a4a4" stroke-width="0.45"/><circle cx="640.1" cy="401.4" r="1.75" fill="url(#gO2)"/><line x1="627.5" y1="404.9" x2="628.8" y2="407.5" stroke="#ecd0d0" stroke-width="1.4"/><circle cx="628.8" cy="407.5" r="1.3" fill="#f8eaea" stroke="#d8a4a4" stroke-width="0.45"/><line x1="627.5" y1="404.9" x2="624.6" y2="405.4" stroke="#ecd0d0" stroke-width="1.4"/><circle cx="624.6" cy="405.4" r="1.3" fill="#f8eaea" stroke="#d8a4a4" stroke-width="0.45"/><circle cx="627.5" cy="404.9" r="1.75" fill="url(#gO2)"/><line x1="641.6" y1="405.6" x2="643.0" y2="403.1" stroke="#ecd0d0" stroke-width="1.4"/><circle cx="643.0" cy="403.1" r="1.3" fill="#f8eaea" stroke="#d8a4a4" stroke-width="0.45"/><line x1="641.6" y1="405.6" x2="642.6" y2="408.3" stroke="#ecd0d0" stroke-width="1.4"/><circle cx="642.6" cy="408.3" r="1.3" fill="#f8eaea" stroke="#d8a4a4" stroke-width="0.45"/><circle cx="641.6" cy="405.6" r="1.75" fill="url(#gO2)"/><line x1="659.6" y1="404.3" x2="660.2" y2="407.1" stroke="#ecd0d0" stroke-width="1.4"/><circle cx="660.2" cy="407.1" r="1.3" fill="#f8eaea" stroke="#d8a4a4" stroke-width="0.45"/><line x1="659.6" y1="404.3" x2="662.4" y2="403.5" stroke="#ecd0d0" stroke-width="1.4"/><circle cx="662.4" cy="403.5" r="1.3" fill="#f8eaea" stroke="#d8a4a4" stroke-width="0.45"/><circle cx="659.6" cy="404.3" r="1.75" fill="url(#gO2)"/><line x1="668.8" y1="402.8" x2="665.9" y2="403.3" stroke="#ecd0d0" stroke-width="1.4"/><circle cx="665.9" cy="403.3" r="1.3" fill="#f8eaea" stroke="#d8a4a4" stroke-width="0.45"/><line x1="668.8" y1="402.8" x2="669.1" y2="399.9" stroke="#ecd0d0" stroke-width="1.4"/><circle cx="669.1" cy="399.9" r="1.3" fill="#f8eaea" stroke="#d8a4a4" stroke-width="0.45"/><circle cx="668.8" cy="402.8" r="1.75" fill="url(#gO2)"/><line x1="630.2" y1="410.6" x2="628.5" y2="408.2" stroke="#ecd0d0" stroke-width="1.4"/><circle cx="628.5" cy="408.2" r="1.3" fill="#f8eaea" stroke="#d8a4a4" stroke-width="0.45"/><line x1="630.2" y1="410.6" x2="628.6" y2="413.0" stroke="#ecd0d0" stroke-width="1.4"/><circle cx="628.6" cy="413.0" r="1.3" fill="#f8eaea" stroke="#d8a4a4" stroke-width="0.45"/><circle cx="630.2" cy="410.6" r="1.75" fill="url(#gO2)"/><line x1="662.1" y1="411.2" x2="660.6" y2="408.7" stroke="#ecd0d0" stroke-width="1.4"/><circle cx="660.6" cy="408.7" r="1.3" fill="#f8eaea" stroke="#d8a4a4" stroke-width="0.45"/><line x1="662.1" y1="411.2" x2="664.0" y2="409.0" stroke="#ecd0d0" stroke-width="1.4"/><circle cx="664.0" cy="409.0" r="1.3" fill="#f8eaea" stroke="#d8a4a4" stroke-width="0.45"/><circle cx="662.1" cy="411.2" r="1.75" fill="url(#gO2)"/><line x1="610.7" y1="413.3" x2="613.5" y2="412.5" stroke="#ecd0d0" stroke-width="1.4"/><circle cx="613.5" cy="412.5" r="1.3" fill="#f8eaea" stroke="#d8a4a4" stroke-width="0.45"/><line x1="610.7" y1="413.3" x2="612.2" y2="415.8" stroke="#ecd0d0" stroke-width="1.4"/><circle cx="612.2" cy="415.8" r="1.3" fill="#f8eaea" stroke="#d8a4a4" stroke-width="0.45"/><circle cx="610.7" cy="413.3" r="1.75" fill="url(#gO2)"/><line x1="615.6" y1="412.3" x2="612.8" y2="412.9" stroke="#ecd0d0" stroke-width="1.4"/><circle cx="612.8" cy="412.9" r="1.3" fill="#f8eaea" stroke="#d8a4a4" stroke-width="0.45"/><line x1="615.6" y1="412.3" x2="618.0" y2="414.0" stroke="#ecd0d0" stroke-width="1.4"/><circle cx="618.0" cy="414.0" r="1.3" fill="#f8eaea" stroke="#d8a4a4" stroke-width="0.45"/><circle cx="615.6" cy="412.3" r="1.75" fill="url(#gO2)"/><line x1="624.4" y1="416.0" x2="626.3" y2="413.8" stroke="#ecd0d0" stroke-width="1.4"/><circle cx="626.3" cy="413.8" r="1.3" fill="#f8eaea" stroke="#d8a4a4" stroke-width="0.45"/><line x1="624.4" y1="416.0" x2="621.7" y2="415.0" stroke="#ecd0d0" stroke-width="1.4"/><circle cx="621.7" cy="415.0" r="1.3" fill="#f8eaea" stroke="#d8a4a4" stroke-width="0.45"/><circle cx="624.4" cy="416.0" r="1.75" fill="url(#gO2)"/><line x1="643.2" y1="417.5" x2="646.1" y2="417.7" stroke="#ecd0d0" stroke-width="1.4"/><circle cx="646.1" cy="417.7" r="1.3" fill="#f8eaea" stroke="#d8a4a4" stroke-width="0.45"/><line x1="643.2" y1="417.5" x2="640.4" y2="418.1" stroke="#ecd0d0" stroke-width="1.4"/><circle cx="640.4" cy="418.1" r="1.3" fill="#f8eaea" stroke="#d8a4a4" stroke-width="0.45"/><circle cx="643.2" cy="417.5" r="1.75" fill="url(#gO2)"/><line x1="647.0" y1="418.1" x2="644.2" y2="418.9" stroke="#ecd0d0" stroke-width="1.4"/><circle cx="644.2" cy="418.9" r="1.3" fill="#f8eaea" stroke="#d8a4a4" stroke-width="0.45"/><line x1="647.0" y1="418.1" x2="645.8" y2="415.5" stroke="#ecd0d0" stroke-width="1.4"/><circle cx="645.8" cy="415.5" r="1.3" fill="#f8eaea" stroke="#d8a4a4" stroke-width="0.45"/><circle cx="647.0" cy="418.1" r="1.75" fill="url(#gO2)"/><line x1="651.2" y1="416.5" x2="648.3" y2="416.9" stroke="#ecd0d0" stroke-width="1.4"/><circle cx="648.3" cy="416.9" r="1.3" fill="#f8eaea" stroke="#d8a4a4" stroke-width="0.45"/><line x1="651.2" y1="416.5" x2="653.5" y2="414.8" stroke="#ecd0d0" stroke-width="1.4"/><circle cx="653.5" cy="414.8" r="1.3" fill="#f8eaea" stroke="#d8a4a4" stroke-width="0.45"/><circle cx="651.2" cy="416.5" r="1.75" fill="url(#gO2)"/><line x1="672.2" y1="416.9" x2="671.6" y2="419.7" stroke="#ecd0d0" stroke-width="1.4"/><circle cx="671.6" cy="419.7" r="1.3" fill="#f8eaea" stroke="#d8a4a4" stroke-width="0.45"/><line x1="672.2" y1="416.9" x2="669.5" y2="415.7" stroke="#ecd0d0" stroke-width="1.4"/><circle cx="669.5" cy="415.7" r="1.3" fill="#f8eaea" stroke="#d8a4a4" stroke-width="0.45"/><circle cx="672.2" cy="416.9" r="1.75" fill="url(#gO2)"/><line x1="633.8" y1="420.2" x2="632.8" y2="422.9" stroke="#ecd0d0" stroke-width="1.4"/><circle cx="632.8" cy="422.9" r="1.3" fill="#f8eaea" stroke="#d8a4a4" stroke-width="0.45"/><line x1="633.8" y1="420.2" x2="636.5" y2="419.2" stroke="#ecd0d0" stroke-width="1.4"/><circle cx="636.5" cy="419.2" r="1.3" fill="#f8eaea" stroke="#d8a4a4" stroke-width="0.45"/><circle cx="633.8" cy="420.2" r="1.75" fill="url(#gO2)"/><line x1="615.6" y1="423.8" x2="615.8" y2="420.9" stroke="#ecd0d0" stroke-width="1.4"/><circle cx="615.8" cy="420.9" r="1.3" fill="#f8eaea" stroke="#d8a4a4" stroke-width="0.45"/><line x1="615.6" y1="423.8" x2="618.3" y2="424.8" stroke="#ecd0d0" stroke-width="1.4"/><circle cx="618.3" cy="424.8" r="1.3" fill="#f8eaea" stroke="#d8a4a4" stroke-width="0.45"/><circle cx="615.6" cy="423.8" r="1.75" fill="url(#gO2)"/><line x1="632.3" y1="427.0" x2="633.5" y2="424.4" stroke="#ecd0d0" stroke-width="1.4"/><circle cx="633.5" cy="424.4" r="1.3" fill="#f8eaea" stroke="#d8a4a4" stroke-width="0.45"/><line x1="632.3" y1="427.0" x2="630.5" y2="424.8" stroke="#ecd0d0" stroke-width="1.4"/><circle cx="630.5" cy="424.8" r="1.3" fill="#f8eaea" stroke="#d8a4a4" stroke-width="0.45"/><circle cx="632.3" cy="427.0" r="1.75" fill="url(#gO2)"/><line x1="670.5" y1="423.2" x2="671.4" y2="420.4" stroke="#ecd0d0" stroke-width="1.4"/><circle cx="671.4" cy="420.4" r="1.3" fill="#f8eaea" stroke="#d8a4a4" stroke-width="0.45"/><line x1="670.5" y1="423.2" x2="668.3" y2="425.1" stroke="#ecd0d0" stroke-width="1.4"/><circle cx="668.3" cy="425.1" r="1.3" fill="#f8eaea" stroke="#d8a4a4" stroke-width="0.45"/><circle cx="670.5" cy="423.2" r="1.75" fill="url(#gO2)"/><line x1="661.1" y1="428.0" x2="663.6" y2="426.6" stroke="#ecd0d0" stroke-width="1.4"/><circle cx="663.6" cy="426.6" r="1.3" fill="#f8eaea" stroke="#d8a4a4" stroke-width="0.45"/><line x1="661.1" y1="428.0" x2="663.3" y2="429.9" stroke="#ecd0d0" stroke-width="1.4"/><circle cx="663.3" cy="429.9" r="1.3" fill="#f8eaea" stroke="#d8a4a4" stroke-width="0.45"/><circle cx="661.1" cy="428.0" r="1.75" fill="url(#gO2)"/><line x1="662.1" y1="429.5" x2="664.1" y2="431.6" stroke="#ecd0d0" stroke-width="1.4"/><circle cx="664.1" cy="431.6" r="1.3" fill="#f8eaea" stroke="#d8a4a4" stroke-width="0.45"/><line x1="662.1" y1="429.5" x2="664.7" y2="428.3" stroke="#ecd0d0" stroke-width="1.4"/><circle cx="664.7" cy="428.3" r="1.3" fill="#f8eaea" stroke="#d8a4a4" stroke-width="0.45"/><circle cx="662.1" cy="429.5" r="1.75" fill="url(#gO2)"/><line x1="678.5" y1="433.2" x2="675.8" y2="434.2" stroke="#ecd0d0" stroke-width="1.4"/><circle cx="675.8" cy="434.2" r="1.3" fill="#f8eaea" stroke="#d8a4a4" stroke-width="0.45"/><line x1="678.5" y1="433.2" x2="677.7" y2="436.0" stroke="#ecd0d0" stroke-width="1.4"/><circle cx="677.7" cy="436.0" r="1.3" fill="#f8eaea" stroke="#d8a4a4" stroke-width="0.45"/><circle cx="678.5" cy="433.2" r="1.75" fill="url(#gO2)"/><line x1="669.5" y1="435.3" x2="670.8" y2="437.9" stroke="#ecd0d0" stroke-width="1.4"/><circle cx="670.8" cy="437.9" r="1.3" fill="#f8eaea" stroke="#d8a4a4" stroke-width="0.45"/><line x1="669.5" y1="435.3" x2="672.1" y2="434.0" stroke="#ecd0d0" stroke-width="1.4"/><circle cx="672.1" cy="434.0" r="1.3" fill="#f8eaea" stroke="#d8a4a4" stroke-width="0.45"/><circle cx="669.5" cy="435.3" r="1.75" fill="url(#gO2)"/><line x1="673.0" y1="442.7" x2="673.7" y2="445.5" stroke="#ecd0d0" stroke-width="1.4"/><circle cx="673.7" cy="445.5" r="1.3" fill="#f8eaea" stroke="#d8a4a4" stroke-width="0.45"/><line x1="673.0" y1="442.7" x2="672.1" y2="439.9" stroke="#ecd0d0" stroke-width="1.4"/><circle cx="672.1" cy="439.9" r="1.3" fill="#f8eaea" stroke="#d8a4a4" stroke-width="0.45"/><circle cx="673.0" cy="442.7" r="1.75" fill="url(#gO2)"/><line x1="673.0" y1="447.9" x2="672.4" y2="445.1" stroke="#ecd0d0" stroke-width="1.4"/><circle cx="672.4" cy="445.1" r="1.3" fill="#f8eaea" stroke="#d8a4a4" stroke-width="0.45"/><line x1="673.0" y1="447.9" x2="670.5" y2="449.4" stroke="#ecd0d0" stroke-width="1.4"/><circle cx="670.5" cy="449.4" r="1.3" fill="#f8eaea" stroke="#d8a4a4" stroke-width="0.45"/><circle cx="673.0" cy="447.9" r="1.75" fill="url(#gO2)"/><line x1="667.4" y1="452.1" x2="669.6" y2="450.2" stroke="#ecd0d0" stroke-width="1.4"/><circle cx="669.6" cy="450.2" r="1.3" fill="#f8eaea" stroke="#d8a4a4" stroke-width="0.45"/><line x1="667.4" y1="452.1" x2="668.6" y2="454.7" stroke="#ecd0d0" stroke-width="1.4"/><circle cx="668.6" cy="454.7" r="1.3" fill="#f8eaea" stroke="#d8a4a4" stroke-width="0.45"/><circle cx="667.4" cy="452.1" r="1.75" fill="url(#gO2)"/><line x1="660.5" y1="476.3" x2="662.3" y2="474.0" stroke="#ecd0d0" stroke-width="1.4"/><circle cx="662.3" cy="474.0" r="1.3" fill="#f8eaea" stroke="#d8a4a4" stroke-width="0.45"/><line x1="660.5" y1="476.3" x2="662.2" y2="478.6" stroke="#ecd0d0" stroke-width="1.4"/><circle cx="662.2" cy="478.6" r="1.3" fill="#f8eaea" stroke="#d8a4a4" stroke-width="0.45"/><circle cx="660.5" cy="476.3" r="1.75" fill="url(#gO2)"/>
</svg></body></html>
